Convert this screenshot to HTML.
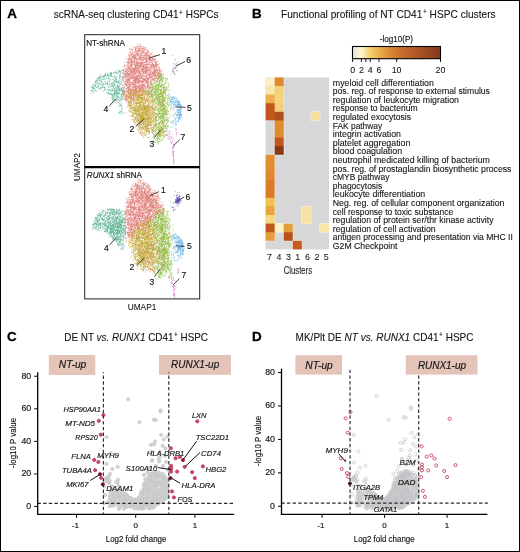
<!DOCTYPE html>
<html><head><meta charset="utf-8"><style>
html,body{margin:0;padding:0;background:#fff;}
svg{display:block;font-family:"Liberation Sans", sans-serif;will-change:transform;}
</style></head><body>
<svg width="520" height="552" viewBox="0 0 520 552" fill="#141414">
<rect x="0" y="0" width="520" height="552" fill="#fff"/>
<text x="7.3" y="17.7" font-size="13.4" stroke="#000" stroke-width="0.3" font-weight="bold" fill="#000" >A</text>
<text x="252.0" y="17.6" font-size="13.4" stroke="#000" stroke-width="0.3" font-weight="bold" fill="#000" >B</text>
<text x="7.0" y="340.6" font-size="13.4" stroke="#000" stroke-width="0.3" font-weight="bold" fill="#000" >C</text>
<text x="252.0" y="340.8" font-size="13.4" stroke="#000" stroke-width="0.3" font-weight="bold" fill="#000" >D</text>
<text x="53.8" y="17.8" font-size="10.1" stroke="#1a1a1a" stroke-width="0.1" textLength="164.7" lengthAdjust="spacingAndGlyphs" >scRNA-seq clustering CD41<tspan font-size="6.6" dx="0.5" dy="-3.1">+</tspan><tspan dy="3.1"> </tspan>HSPCs</text>
<text x="281" y="17.5" font-size="10.1" stroke="#1a1a1a" stroke-width="0.1" textLength="214.6" lengthAdjust="spacingAndGlyphs" >Functional profiling of NT CD41<tspan font-size="6.6" dx="0.5" dy="-3.1">+</tspan><tspan dy="3.1"> </tspan>HSPC clusters</text>
<text x="64.3" y="340.5" font-size="10.1" stroke="#1a1a1a" stroke-width="0.1" textLength="143.7" lengthAdjust="spacingAndGlyphs" >DE NT <tspan font-style="italic">vs.</tspan> <tspan font-style="italic">RUNX1</tspan> CD41<tspan font-size="6.6" dx="0.5" dy="-3.1">+</tspan><tspan dy="3.1"> </tspan>HSPC</text>
<text x="295.6" y="340.5" font-size="10.1" stroke="#1a1a1a" stroke-width="0.1" textLength="177.9" lengthAdjust="spacingAndGlyphs" >MK/Plt DE <tspan font-style="italic">NT vs.</tspan> <tspan font-style="italic">RUNX1</tspan> CD41<tspan font-size="6.6" dx="0.5" dy="-3.1">+</tspan><tspan dy="3.1"> </tspan>HSPC</text>
<rect x="84.7" y="34.7" width="115" height="264.2" fill="none" stroke="#222" stroke-width="1.0"/>
<line x1="84.7" y1="167.2" x2="199.7" y2="167.2" stroke="#000" stroke-width="2.2"/>
<text x="86.2" y="46" font-size="8.9" stroke="#1a1a1a" stroke-width="0.16" textLength="38.8" lengthAdjust="spacingAndGlyphs" >NT-shRNA</text>
<text x="86.8" y="177.5" font-size="8.9" stroke="#1a1a1a" stroke-width="0.16" textLength="55.2" lengthAdjust="spacingAndGlyphs" ><tspan font-style="italic">RUNX1</tspan> shRNA</text>
<text x="0" y="0" font-size="9.2" stroke="#1a1a1a" stroke-width="0.08" text-anchor="middle" textLength="28" lengthAdjust="spacingAndGlyphs" transform="translate(79.8 167) rotate(-90)">UMAP2</text>
<text x="127.7" y="310.3" font-size="8.9" stroke="#1a1a1a" stroke-width="0.08" textLength="28.6" lengthAdjust="spacingAndGlyphs" >UMAP1</text>
<g>
<path transform="scale(.1)" d="M1408 449h0m-1 10h0m-29 13h0m26-1h0m13-5h0m15-1h0m-101 13h0m36 5h0m16 0h0m28 0h0m27-4h0m1 0h0m17 0h0m6-1h0m-164 14h0m13 1h0m47-7h0m39 1h0m1-1h0m73 8h0m-152 1h0m37 0h0m27 5h0m13 4h0m2-4h0m25-1h0m18 0h0m-94 9h0m8 3h0m13-2h0m29 2h0m44-3h0m35 5h0m1-2h0m-152 6h0m12 4h0m11-1h0m30-1h0m16 2h0m0-4h0m38 3h0m39 4h0m50 0h0m-210 10h0m67-3h0m4 4h0m16-1h0m33-1h0m14-6h0m6 3h0m16 1h0m-181 10h0m32 0h0m11-2h0m16 1h0m13 2h0m9-1h0m5-3h0m7 5h0m5-1h0m31-2h0m44 1h0m8 4h0m29-8h0m13 3h0m-203 12h0m3 2h0m16-5h0m4-3h0m18 5h0m9-1h0m7 1h0m21-1h0m26 3h0m6-2h0m57-3h0m29 4h0m-190 7h0m33 5h0m0 1h0m11-10h0m5 7h0m0 0h0m46-3h0m7-4h0m18 4h0m1-4h0m9 2h0m4-1h0m6 0h0m0 6h0m1-4h0m14 1h0m2-3h0m20 7h0m10-1h0m33-6h0m18 0h0m-260 16h0m4-1h0m27 0h0m2-5h0m5 9h0m13-8h0m7 7h0m40-4h0m19-2h0m13 4h0m51 1h0m1-1h0m25-5h0m4 0h0m-201 12h0m14-2h0m7 3h0m6-5h0m19 4h0m35 0h0m22 5h0m1-8h0m8 8h0m48-9h0m20 6h0m6-2h0m7-2h0m1 7h0m12 1h0m14-3h0m-266 11h0m23 1h0m5-8h0m11 7h0m22-4h0m52-4h0m6 0h0m15 2h0m10 5h0m7 2h0m4-3h0m36-3h0m6 5h0m4-5h0m8-3h0m7 8h0m13-4h0m9 0h0m31 1h0m-179 15h0m39-10h0m24 4h0m24 5h0m30-4h0m9-4h0m10 1h0m15 0h0m1 4h0m3 1h0m44-7h0m15 3h0m-239 9h0m39 1h0m128 2h0m28 4h0m26-3h0m16 3h0m-280 8h0m17-1h0m9 0h0m2 4h0m9-5h0m6 1h0m30-4h0m18 3h0m15-2h0m0 3h0m76 3h0m1-2h0m13-1h0m57-5h0m37 2h0m7 0h0m-291 10h0m2 0h0m6 5h0m3-1h0m30-6h0m25 3h0m10-3h0m19 7h0m19-5h0m2 4h0m2 0h0m30 0h0m11-6h0m62 1h0m17 1h0m30-2h0m5 3h0m36 4h0m-269 10h0m16-2h0m55-3h0m6 5h0m18 1h0m14 1h0m30-1h0m30-3h0m3-1h0m1 4h0m1-1h0m12 0h0m10-1h0m22 1h0m13 0h0m31-1h0m-312 7h0m9 5h0m31-1h0m6-6h0m95 4h0m27 2h0m12-6h0m9 0h0m18 4h0m34-3h0m9 5h0m6-6h0m6 2h0m5-1h0m20-1h0m4 3h0m9-5h0m-326 12h0m13 0h0m14 8h0m29-5h0m2-2h0m7 3h0m1-3h0m52-1h0m17 7h0m14-5h0m1 2h0m6-1h0m10-3h0m10 7h0m3-4h0m12 1h0m79 3h0m35-7h0m8 1h0m5-2h0m15 3h0m-347 8h0m47 0h0m4 3h0m27 4h0m34-2h0m3-1h0m21 1h0m11-3h0m31-2h0m24 3h0m17-2h0m4 2h0m4-1h0m2 1h0m7-2h0m6 3h0m32-6h0m16 4h0m6 5h0m5-2h0m4-6h0m43 1h0m174 5h0m-464 9h0m8-4h0m2 7h0m33 0h0m0 0h0m10-5h0m29-1h0m15 4h0m1-2h0m2 1h0m30-3h0m5 5h0m32 2h0m10-10h0m29 1h0m9-1h0m8 6h0m58 1h0m24-1h0m-346 8h0m4 5h0m58-7h0m15 3h0m5 5h0m10-5h0m1 4h0m6 0h0m1 0h0m8-7h0m8 7h0m15-2h0m37-1h0m14 3h0m7-5h0m1 0h0m10-1h0m49 1h0m47 5h0m21-5h0m161 1h0m-497 13h0m11-4h0m20-2h0m6 2h0m19-2h0m6 3h0m14 3h0m11 0h0m28 1h0m16-4h0m2 4h0m52-9h0m0 7h0m8-6h0m7 6h0m64-1h0m1 1h0m1-7h0m38 6h0m32 0h0m7 2h0m18 0h0m5-4h0m1 0h0m-347 10h0m19 3h0m14 3h0m7-6h0m5 3h0m11-6h0m11 9h0m16-2h0m4 2h0m5 0h0m26-7h0m9-3h0m34 8h0m0-2h0m21 2h0m14 0h0m11-1h0m3 0h0m42-1h0m5 2h0m5-2h0m21-4h0m19 0h0m1 7h0m9-7h0m3 5h0m4-6h0m-360 14h0m47-2h0m31-2h0m20 2h0m5-2h0m24 6h0m9-3h0m2-3h0m6 6h0m36-6h0m36 3h0m11-2h0m6 7h0m23-7h0m0 0h0m16 3h0m38-2h0m30 0h0m1 5h0m53-7h0m2 5h0m-347 5h0m12 7h0m7-2h0m6 3h0m5 0h0m13-5h0m20-3h0m10 2h0m35 4h0m5-4h0m13 3h0m2-1h0m1 3h0m7-3h0m0-2h0m2 2h0m33-3h0m26 5h0m0-2h0m9-1h0m7-4h0m35 4h0m2 0h0m11-2h0m5 1h0m0-1h0m12 2h0m26-1h0m28 1h0m-310 12h0m2-4h0m10 5h0m3 3h0m54-1h0m6-6h0m32 4h0m21 3h0m2-1h0m3-7h0m18 1h0m5 5h0m23-7h0m12 4h0m20 4h0m5 0h0m8-5h0m31 5h0m4-1h0m17-2h0m34-4h0m11 7h0m1 1h0m5-8h0m-350 17h0m2-2h0m23-1h0m4 3h0m3-8h0m0 0h0m10 3h0m0 4h0m22 0h0m22-5h0m38 5h0m21-4h0m5 1h0m11-4h0m4 6h0m62-5h0m9 1h0m19-2h0m38 8h0m29-6h0m4-2h0m27 7h0m-355 4h0m6-2h0m4 0h0m4 10h0m0-2h0m4-4h0m17-1h0m7 6h0m8-4h0m48 3h0m10-7h0m3 7h0m29-3h0m1 2h0m16-6h0m22-1h0m20 9h0m59-4h0m32 0h0m13 2h0m6 0h0m8-1h0m11 1h0m9-6h0m11 6h0m8-3h0m-385 7h0m6 3h0m7-3h0m2 5h0m11 4h0m0-6h0m1 5h0m1 1h0m7-5h0m9 3h0m68-3h0m17-2h0m3 5h0m14-3h0m43-3h0m49 3h0m37 1h0m7 0h0m0 3h0m24-5h0m6 5h0m14-7h0m10 4h0m38-1h0m19-2h0m-387 8h0m67 4h0m3 2h0m2-6h0m9 6h0m8-4h0m3 4h0m3 1h0m3-2h0m11-2h0m21 3h0m14 2h0m10 0h0m23 0h0m8-2h0m32 1h0m41-1h0m8 1h0m9 0h0m8-6h0m8 0h0m16 8h0m23 0h0m5-5h0m-331 12h0m51-4h0m0-1h0m1 1h0m9 6h0m51-4h0m3 5h0m9-10h0m35 3h0m7-2h0m22 3h0m6 5h0m2 0h0m20-2h0m12-3h0m13-1h0m6 7h0m2-7h0m27 4h0m10 2h0m8-2h0m3 3h0m8-2h0m18-8h0m-298 12h0m0 6h0m5 0h0m2-6h0m26 7h0m1-3h0m48 3h0m7 0h0m8-5h0m1 6h0m26-1h0m49-8h0m14 4h0m4 1h0m6 0h0m70-1h0m13 3h0m5 0h0m26-2h0m-308 11h0m8-3h0m12 3h0m6 0h0m4-6h0m30 7h0m47-4h0m1-3h0m29 3h0m18-1h0m15 6h0m25-6h0m7 0h0m93 7h0m-319 1h0m12 2h0m12 1h0m6 4h0m0-5h0m1 5h0m55-6h0m30 4h0m10-2h0m1 1h0m7-2h0m3 2h0m6 5h0m5-2h0m26 1h0m15-4h0m7 1h0m3 1h0m13 1h0m5-3h0m37 2h0m20 0h0m-228 6h0m11 5h0m26 0h0m6-2h0m5-5h0m53 8h0m92-2h0m0 3h0m1-4h0m27 2h0m40-4h0m8 3h0m-305 4h0m11 8h0m8 0h0m16-7h0m8 8h0m10-5h0m15-2h0m10 7h0m10-8h0m17 8h0m2-3h0m5-3h0m65-2h0m19 6h0m4-7h0m15 4h0m58 3h0m-239 10h0m10-5h0m52-1h0m9 1h0m41-1h0m12 1h0m7 4h0m9-2h0m9 1h0m4-5h0m42 7h0m26 1h0m5 1h0m-212 9h0m7-1h0m53-1h0m10-6h0m17 5h0m6-2h0m15-3h0m14 4h0m19-2h0m37 0h0m2 3h0m12-5h0m7 6h0m-255 10h0m45-4h0m23-2h0m3 7h0m17-2h0m6-1h0m6-4h0m2 4h0m25-1h0m7 2h0m90 3h0m22-5h0m5-3h0m-226 17h0m13-8h0m8 5h0m8-3h0m27 6h0m32-7h0m36 1h0m6 0h0m7 2h0m33 2h0m11-3h0m4 4h0m22-6h0m19 3h0m-254 7h0m20 1h0m6 0h0m18 4h0m0-3h0m5 5h0m10-4h0m4 6h0m7-7h0m12 5h0m34-2h0m6 1h0m4-4h0m19-1h0m13 3h0m1 4h0m1-8h0m57 2h0m6 1h0m9 2h0m-204 12h0m2-2h0m20-4h0m27 3h0m8-4h0m14 7h0m1-2h0m4-1h0m19 0h0m6 2h0m25-2h0m17 4h0m9 1h0m14-1h0m226-6h0m-437 9h0m56 5h0m10-2h0m25 3h0m22-3h0m20-1h0m39 1h0m33 4h0m12-7h0m0 4h0m10-3h0m13 1h0m64 3h0m-243 6h0m8 0h0m2 4h0m4 0h0m2 2h0m37-4h0m11 2h0m10-3h0m1-4h0m2 8h0m2-7h0m15 6h0m7 1h0m1-7h0m44 4h0m27-2h0m-198 9h0m21 1h0m22 1h0m15 5h0m15 1h0m20-8h0m16 5h0m2-3h0m32 2h0m88 2h0m-252 2h0m52 7h0m16 0h0m2 3h0m24-6h0m11 5h0m6-5h0m8 5h0m33-2h0m12-3h0m18-3h0m-196 12h0m17 5h0m26 0h0m61-4h0m34 2h0m5 1h0m119-3h0m33 3h0m-281 4h0m35 7h0m7 1h0m23-2h0m1-5h0m70 5h0m23 1h0m-136 9h0m7-7h0m21 1h0m10 3h0m13 0h0m23 0h0m146-3h0m-230 9h0m12 5h0m19-3h0m1-1h0m6 4h0m6 1h0m10-1h0m9 0h0m21-1h0m9-1h0m21-1h0m77-2h0m128 7h0m-310 10h0m18 1h0m228 7h0m37 4h0m-260 10h0m185-6h0m80 1h0m4-2h0m23 2h0m-283 8h0m13 3h0m136-4h0m162 4h0m32-2h0m3 5h0m-379 8h0m58-2h0m238 1h0m82 0h0m-344 7h0m105 5h0m205-2h0m-312 16h0m75-1h0m265 4h0m-282 12h0m221-1h0m40 1h0m-237 14h0m129 0h0m-181 4h0m29-1h0m59 3h0m48-5h0m-119 14h0m68-4h0m64 3h0m134 5h0m-144 7h0m23 0h0m184-3h0m-12 10h0m-178 13h0m71-2h0m106 1h0m-316 6h0m144 3h0m51 0h0m107-3h0m-185 10h0m114 23h0m16-3h0m85 2h0m-272 17h0m136-9h0m-176 13h0m58 3h0m47 2h0m-47 9h0m41-5h0m-74 23h0m132-5h0m88 4h0m-153 13h0m214 1h0m-284 7h0m121 9h0m-109 5h0m57 9h0m206-3h0m27-2h0m-267 18h0m41 3h0m131 3h0m30-4h0m-218 7h0m189 11h0m76-1h0m-136 12h0m132 0h0m-231 15h0m165-1h0m45 5h0m-232 9h0m175 16h0m14 0h0m-48 5h0m40 26h0" stroke="#e07a74" stroke-width="7.0" stroke-linecap="round" fill="none"/>
<path transform="scale(.1)" d="M1582 855h0m26 8h0m-259 10h0m59 9h0m6-4h0m79 3h0m141 4h0m-269 3h0m55 0h0m75 6h0m-185 8h0m52 2h0m40-2h0m5 2h0m19-1h0m49 2h0m11-5h0m24 4h0m-204 6h0m12 3h0m16-6h0m63 1h0m14 1h0m5-4h0m32 3h0m24-2h0m0 4h0m21 1h0m-193 14h0m58-5h0m1 2h0m8-4h0m37 4h0m49-1h0m21-4h0m44-1h0m-184 17h0m73-8h0m9 10h0m11-3h0m1-1h0m3-1h0m49 1h0m39 2h0m-215 2h0m39 4h0m13 0h0m4 3h0m5-1h0m18 3h0m50-1h0m5-3h0m21-2h0m6-1h0m30 7h0m124-3h0m-332 13h0m51 0h0m20-2h0m53-4h0m0 6h0m0-5h0m2-1h0m4 6h0m10-3h0m0 3h0m64-9h0m-158 14h0m30 1h0m37 3h0m4 2h0m48-2h0m62 0h0m55-6h0m46 2h0m17 1h0m-346 5h0m8 7h0m17-1h0m31-2h0m41 1h0m7 5h0m17-4h0m5-4h0m32 0h0m27 8h0m7-4h0m33-3h0m-215 16h0m15-3h0m25-3h0m4 5h0m5-8h0m48 6h0m21-1h0m5-1h0m6-3h0m1 2h0m1 1h0m2 2h0m53 2h0m-226 11h0m82-3h0m40 2h0m15 0h0m16-6h0m38 4h0m17 2h0m2-1h0m-205 13h0m62-3h0m9-1h0m5 1h0m18-5h0m16 5h0m5-5h0m1 4h0m1-5h0m14 3h0m16 2h0m57 4h0m6-2h0m61-1h0m-227 9h0m10-3h0m20-2h0m6 1h0m60 7h0m2-5h0m49 0h0m22 1h0m13 4h0m32-6h0m120-2h0m-362 16h0m7-7h0m15 9h0m34-1h0m1-6h0m17 0h0m49 0h0m21-1h0m39 2h0m45 6h0m10-5h0m4 0h0m4 1h0m10-2h0m-200 12h0m22-4h0m0 0h0m2 6h0m54-4h0m4-2h0m35 4h0m4 5h0m5-4h0m46 2h0m4-2h0m38-4h0m56 3h0m-316 9h0m92-2h0m34 3h0m19-4h0m11 0h0m45 8h0m75-1h0m-260 2h0m12 7h0m33-6h0m11 5h0m6-2h0m26 0h0m34 4h0m15-3h0m32 1h0m2 1h0m2-2h0m19 1h0m20-1h0m82-2h0m-299 10h0m3 5h0m0-1h0m50-6h0m14 5h0m14 1h0m0-2h0m17 1h0m5 3h0m15-6h0m11 0h0m4-3h0m1 1h0m16-1h0m0 2h0m4 4h0m12 4h0m5 0h0m6 0h0m79-4h0m6 4h0m37-5h0m-290 6h0m23 4h0m55-3h0m2 8h0m22-1h0m30-3h0m8 3h0m2-4h0m1 4h0m33-8h0m1 9h0m3-10h0m34 8h0m103-6h0m-269 14h0m4 1h0m6 0h0m22-1h0m36-5h0m22-1h0m6 7h0m1 0h0m1 2h0m3-6h0m1 4h0m3-4h0m1 3h0m6-1h0m11-1h0m10-1h0m3 1h0m38 2h0m9 3h0m88-4h0m-335 11h0m28-4h0m4 4h0m18-5h0m8 3h0m33 4h0m29-4h0m1-3h0m10 8h0m3-9h0m3 9h0m12-7h0m5 2h0m23 4h0m8-1h0m18-4h0m24-2h0m9 6h0m21 2h0m-213 6h0m1-4h0m2 2h0m19 1h0m20 5h0m14 1h0m10-7h0m14 2h0m8 1h0m12-2h0m30 2h0m7 1h0m1-5h0m0 1h0m26-2h0m39-1h0m-239 17h0m1-1h0m1-2h0m57-3h0m14 5h0m2-1h0m5-4h0m3 6h0m20-4h0m3 4h0m17-5h0m3 0h0m39 6h0m1 1h0m36-5h0m-150 7h0m2 1h0m5 6h0m22-2h0m45-3h0m11 7h0m61 0h0m16-9h0m14 0h0m11 6h0m-219 5h0m39 3h0m32-2h0m19-1h0m12 6h0m4-1h0m4-1h0m28 0h0m28-2h0m22 5h0m3-3h0m14 0h0m13 3h0m43 1h0m-247 5h0m34 3h0m14-2h0m14-4h0m3 4h0m8-1h0m55-5h0m3 7h0m1-1h0m8-2h0m31-3h0m42 9h0m8-1h0m10-6h0m34 1h0m31 1h0m-311 14h0m7-3h0m53-6h0m2 8h0m14 2h0m4-3h0m31-4h0m33-2h0m18 2h0m0 1h0m7-3h0m1 0h0m3 8h0m10 1h0m12-1h0m-220 2h0m32 1h0m9 2h0m27 5h0m56-7h0m1 0h0m13 1h0m5 4h0m52-7h0m-156 11h0m3 5h0m36-5h0m15 3h0m15 0h0m2 2h0m8-6h0m2 6h0m17-4h0m4 8h0m13-2h0m6-1h0m5-2h0m13 3h0m33-6h0m15 4h0m2 2h0m12 2h0m46-5h0m29-2h0m-264 11h0m2-1h0m15-2h0m4 8h0m12-6h0m16 4h0m9-1h0m10-3h0m2 3h0m7-4h0m19 1h0m47 6h0m8-3h0m2-1h0m1-1h0m23 6h0m26-9h0m-211 18h0m14-2h0m8 2h0m27 1h0m24-3h0m16 2h0m1-7h0m30 3h0m22-4h0m4 7h0m21-3h0m35 3h0m1-5h0m47 4h0m-253 4h0m4 8h0m24-1h0m4-5h0m14 5h0m1-2h0m5-1h0m53-1h0m4-2h0m5 2h0m23-1h0m29 0h0m7 5h0m7-8h0m33 9h0m30-1h0m69-6h0m4 0h0m-299 15h0m32-4h0m38 7h0m33-7h0m17 4h0m5 0h0m9-2h0m2 4h0m32-8h0m36-1h0m-157 15h0m8 3h0m31-2h0m14-6h0m11 1h0m9 0h0m14 5h0m22 0h0m16-6h0m14 3h0m25 2h0m-183 12h0m19-4h0m77-3h0m4 4h0m24 2h0m10-6h0m24 4h0m57 4h0m43-1h0m40-6h0m-320 18h0m40-4h0m16 4h0m56-5h0m25-2h0m2 3h0m3 4h0m34 0h0m100-3h0m-262 7h0m26-3h0m2 7h0m14-1h0m2-2h0m42 4h0m24-5h0m12 4h0m98-4h0m12 4h0m35 2h0m-260 1h0m9 5h0m30-3h0m38 5h0m1-4h0m14 3h0m4 1h0m3-3h0m4-1h0m3-3h0m2 6h0m46 3h0m19-4h0m4 3h0m70 2h0m-226 0h0m76 4h0m-103 9h0m25 1h0m45 0h0m27 2h0m7-4h0m20 6h0m40-8h0m-164 16h0m27 0h0m30-1h0m8-2h0m10 3h0m43 4h0m64-3h0m-170 11h0m27-1h0m45-5h0m2 5h0m16-2h0m10-2h0m116 3h0m-137 12h0m5-6h0m-49 18h0m34-2h0m21-7h0m9 2h0m11-1h0m6 8h0m70 2h0m60 7h0m-220 7h0m83-2h0m-77 14h0m37-1h0m169 11h0m-46 8h0m-96 5h0m5 2h0" stroke="#c8a634" stroke-width="7.0" stroke-linecap="round" fill="none"/>
<path transform="scale(.1)" d="M1586 730h0m12 27h0m3 2h0m13-2h0m-29 16h0m8-7h0m18 0h0m-11 16h0m17-3h0m39 3h0m-94 3h0m47 8h0m4-7h0m2 9h0m2 5h0m60 0h0m-101 12h0m3-7h0m29 4h0m17 6h0m31-5h0m6 4h0m-93 7h0m-62 5h0m107 12h0m2 6h0m27-4h0m13-5h0m26 7h0m-168 8h0m53 4h0m3-1h0m3-6h0m59-2h0m8 2h0m-110 10h0m10 8h0m2-9h0m11 8h0m13-2h0m1-1h0m30 2h0m1-4h0m8-2h0m31-1h0m-84 17h0m24-4h0m30 3h0m20-1h0m54-1h0m-161 5h0m0 6h0m8 4h0m23-6h0m27 5h0m38-5h0m30 0h0m7 4h0m-111 10h0m15-3h0m-43 14h0m33-7h0m11 6h0m35-3h0m15-3h0m49 6h0m2-5h0m-95 11h0m39 3h0m28-4h0m10 4h0m-207 3h0m50 3h0m26 4h0m36-7h0m2 9h0m7 0h0m14-2h0m48 3h0m9-10h0m16 1h0m11 6h0m-260 6h0m104 1h0m54 0h0m50 4h0m22 2h0m13-10h0m-119 17h0m2-1h0m14 1h0m15-7h0m6 6h0m2-3h0m33 3h0m8 0h0m8-4h0m16 5h0m9-6h0m-106 10h0m47 3h0m14 6h0m5-6h0m29-1h0m7 7h0m5-1h0m28-4h0m-273 14h0m174-3h0m21-2h0m14 5h0m29 1h0m-100 2h0m75-1h0m4 3h0m2 3h0m-230 8h0m180 3h0m9-2h0m7 1h0m3-5h0m10-1h0m0 9h0m41-7h0m21 7h0m-293 10h0m76-7h0m123 6h0m15-3h0m25-5h0m25 9h0m21-4h0m58-5h0m-382 11h0m28 5h0m45-4h0m188-1h0m3 1h0m12 6h0m1-1h0m-62 3h0m40 7h0m55-1h0m20-5h0m12 4h0m46-6h0m-392 18h0m213-3h0m52-5h0m24 3h0m14 6h0m-47 6h0m0-4h0m23 8h0m3-1h0m9 0h0m11-6h0m19 3h0m35 4h0m14-7h0m-129 18h0m30-2h0m1-2h0m48 6h0m5 0h0m14 0h0m21 7h0m18-7h0m-325 10h0m219 7h0m38-3h0m18-3h0m4 1h0m-211 9h0m100 2h0m104 4h0m10-5h0m19-1h0m-315 8h0m195 2h0m53 0h0m31-2h0m9 7h0m-190 12h0m105-6h0m27 1h0m27 5h0m1-2h0m37-6h0m2 5h0m-145 10h0m55-2h0m22 0h0m52 4h0m44-8h0m-200 16h0m73-6h0m37 1h0m40 1h0m23 5h0m14-4h0m4 3h0m-71 4h0m25 0h0m31 2h0m6 2h0m5 4h0m23-8h0m-126 13h0m23 0h0m46-3h0m0 1h0m19 5h0m-92 4h0m7 0h0m46 1h0m13 5h0m22-6h0m-225 17h0m22-4h0m24 0h0m51 3h0m68-3h0m52 3h0m9 1h0m0-3h0m27-3h0m-299 12h0m200 1h0m56 5h0m5-5h0m10 1h0m-250 7h0m132-3h0m30 2h0m46 1h0m17 6h0m20-5h0m59 5h0m-130 2h0m46 4h0m19 1h0m27-5h0m9 4h0m-111 12h0m69-5h0m12 2h0m4 0h0m40-2h0m-125 12h0m7 2h0m60 4h0m21-5h0m14 0h0m19-4h0m-311 13h0m31 5h0m142-1h0m25-8h0m7 4h0m10-2h0m35 4h0m29-5h0m4 3h0m39-2h0m-84 16h0m38-7h0m40 5h0m-225 13h0m23-5h0m8 4h0m0-2h0m77-2h0m50 0h0m2 0h0m1 0h0m6 1h0m34-3h0m-100 10h0m26 1h0m41 1h0m45 0h0m-184 6h0m81 7h0m49-2h0m13 4h0m-170 5h0m96 1h0m91 5h0m-241 7h0m240-6h0m9 0h0m26-1h0m9 7h0m-252 13h0m58-2h0m30-7h0m55 2h0m2 2h0m74 4h0m10 0h0m-90 10h0m14-4h0m2 5h0m18-6h0m7 4h0m28-7h0m-195 15h0m2-2h0m11 0h0m101 0h0m30 2h0m8 4h0m11 0h0m15 0h0m-71 6h0m6-4h0m19-1h0m12-1h0m4 9h0m25-7h0m6 0h0m-157 12h0m88-1h0m42 0h0m2 2h0m8-4h0m22 0h0m-110 14h0m1-4h0m35 0h0m13 7h0m77-7h0m-61 10h0m0 4h0m5-1h0m1 5h0m9-1h0m58-3h0m-123 9h0m49-1h0m1 0h0m9 0h0m5-1h0m5 7h0m2-8h0m60 6h0m-116 7h0m38 2h0m10 0h0m-7 5h0m48 2h0m-103 11h0m34 12h0m20-3h0m-57 17h0m2 8h0m18 13h0m25 14h0" stroke="#82bd38" stroke-width="7.0" stroke-linecap="round" fill="none"/>
<path transform="scale(.1)" d="M1172 700h0m16 5h0m7 2h0m-36 15h0m-105 10h0m40 0h0m13 2h0m1-7h0m28 5h0m3-3h0m38-2h0m-169 15h0m51-2h0m30-1h0m24-1h0m72 5h0m-142 11h0m32 0h0m8 1h0m32-7h0m0-1h0m80 5h0m-163 6h0m5 6h0m48-4h0m14-2h0m65 7h0m-192 10h0m27-1h0m2-2h0m1 0h0m19 1h0m63-1h0m17-7h0m20 5h0m37 1h0m-177 11h0m46 2h0m61-3h0m-100 6h0m6 4h0m26 0h0m29 2h0m18-6h0m18-1h0m54 4h0m28 1h0m52-2h0m-130 11h0m13 0h0m53 1h0m70 1h0m-263 8h0m16-4h0m38 3h0m132 3h0m38 2h0m22 0h0m-258 5h0m29-1h0m26 4h0m72-5h0m16-1h0m54 6h0m24 0h0m7-2h0m-220 9h0m13 3h0m8 2h0m77-2h0m8 2h0m58-2h0m10-3h0m4 0h0m80-2h0m-281 17h0m32-7h0m67 5h0m1-5h0m31 4h0m26-4h0m48 5h0m-152 7h0m12-4h0m119 5h0m25-2h0m6 3h0m25-4h0m26 1h0m24 6h0m-97 4h0m35 4h0m-235 7h0m29-3h0m9 8h0m78-3h0m2 4h0m79-5h0m54 1h0m0-5h0m6 4h0m38 4h0m-294 6h0m1 5h0m9-6h0m10 1h0m47 4h0m16-5h0m16-3h0m134 1h0m0 7h0m27 0h0m32-3h0m-294 10h0m16-2h0m105 4h0m5-5h0m130 3h0m10 1h0m23 2h0m-302 8h0m31 2h0m15-7h0m83-2h0m29 1h0m47 3h0m10 1h0m9 2h0m61-6h0m1 6h0m13-3h0m0 5h0m11-1h0m-147 5h0m73 6h0m7-6h0m2 1h0m15-2h0m48 17h0m14-7h0m-149 16h0m2-1h0m25 3h0m51-6h0m7-2h0m52 7h0m-320 7h0m185 1h0m4 0h0m7-6h0m32 2h0m3 3h0m38-1h0m31 4h0m16 0h0m-106 3h0m9 5h0m1-4h0m13-2h0m8 5h0m22 2h0m20-6h0m27 8h0m-81 5h0m0 8h0m15-2h0m21 3h0m16 1h0m31 13h0m15-5h0m-98 14h0m10-5h0m72 0h0m-92 8h0m44 7h0m4-4h0m27 10h0m-72 15h0m66-8h0m4 16h0m14 5h0m7 17h0m-3 34h0m8 47h0" stroke="#52ae8c" stroke-width="7.0" stroke-linecap="round" fill="none"/>
<path transform="scale(.1)" d="M1691 959h0m26 9h0m9 19h0m19 14h0m-41 8h0m29 5h0m15-9h0m9 2h0m10 2h0m6 5h0m8-6h0m-76 8h0m11 1h0m0 6h0m0 0h0m38-3h0m30 3h0m13-4h0m-13 11h0m-56 6h0m30 1h0m19 2h0m14-4h0m4 3h0m-83 8h0m25 0h0m5 1h0m12 2h0m13 4h0m10-8h0m4 2h0m25 5h0m4 1h0m-12 5h0m15 1h0m-78 10h0m21 2h0m52 1h0m7-1h0m-2 4h0m-44 18h0m5 6h0m11 4h0m2-1h0m19-6h0m0 0h0m10 0h0m-52 15h0m34 2h0m-22 6h0m23 4h0m2-2h0m1-3h0m13 0h0m-624 11h0m562 1h0m52 3h0m-50 8h0m12 2h0m32-7h0m-591 11h0m569-1h0m10 0h0m5 8h0m8-7h0m3 3h0m10 4h0m-48 6h0m1 13h0m47 1h0m-65 10h0m48-8h0m3 8h0m12-8h0m-26 14h0m-54 19h0m49-1h0m-73 13h0m29-2h0m29-2h0m19 0h0m-24 39h0" stroke="#52ace4" stroke-width="7.0" stroke-linecap="round" fill="none"/>
<path transform="scale(.1)" d="M1750 591h0m21 28h0m-33 15h0m17 9h0m17-6h0m-24 44h0m20-4h0m-14 8h0m11 22h0" stroke="#7466c8" stroke-width="7.0" stroke-linecap="round" fill="none"/>
<path transform="scale(.1)" d="M1698 1319h0m-16 23h0m47 2h0m-31 13h0m12 12h0m-41 11h0m17 3h0m18 29h0m6 16h0m8 6h0m29-6h0m-11 18h0m-6 30h0m1 1h0m-6 42h0m10 16h0m-1 17h0m-1 18h0m9 37h0" stroke="#d266c6" stroke-width="7.0" stroke-linecap="round" fill="none"/>
<path transform="scale(.1)" d="M1393 448h0m4 13h0m5 11h0m-53 6h0m8-1h0m62 3h0m-119 8h0m22 5h0m63-2h0m29 0h0m14-6h0m5 2h0m16 8h0m-97 5h0m6 0h0m28-4h0m1 9h0m51-3h0m9 2h0m30-6h0m-165 11h0m56 3h0m10-6h0m7 4h0m14-3h0m8 4h0m5 3h0m10 1h0m2 0h0m34-8h0m-162 12h0m59 4h0m69-4h0m4 2h0m6 0h0m2 3h0m50-5h0m4 3h0m-186 7h0m1-2h0m0-1h0m46 2h0m24 0h0m40 3h0m36 1h0m-140 11h0m8-6h0m7-2h0m2 4h0m45-3h0m28 0h0m50 7h0m11-4h0m4 3h0m-170 4h0m8 8h0m31 1h0m2-2h0m35 2h0m6-4h0m43 3h0m28-6h0m21 7h0m15-5h0m-206 9h0m13-1h0m5 6h0m40-5h0m0 2h0m6-2h0m12-1h0m26 2h0m11 1h0m5-1h0m15-4h0m40 6h0m20-4h0m1 2h0m9 1h0m1 2h0m15-3h0m50-5h0m-217 19h0m1-5h0m19 4h0m51 1h0m1-1h0m5-1h0m43 3h0m52-5h0m10 2h0m26 0h0m-210 12h0m6 1h0m2 0h0m6-5h0m3 4h0m12 1h0m1-5h0m1 2h0m31-3h0m14-1h0m17 1h0m13-3h0m2 8h0m59-7h0m-204 15h0m11-4h0m1 0h0m9 5h0m40-7h0m11 2h0m4-1h0m3 6h0m1-7h0m55 8h0m1 0h0m10-2h0m11-6h0m37-1h0m22 10h0m2 0h0m16-5h0m1 3h0m8 0h0m4-4h0m1 1h0m11 1h0m-244 14h0m35-8h0m5 7h0m24-4h0m46 3h0m1-8h0m80 2h0m10 0h0m1 6h0m17-2h0m3 0h0m-220 6h0m26-2h0m80 4h0m7 4h0m12-2h0m25-3h0m5 0h0m98 3h0m-312 10h0m31-6h0m1 2h0m32 5h0m2-2h0m19-2h0m42 5h0m69-4h0m13 5h0m6-2h0m5-6h0m20 9h0m6-3h0m2 1h0m0-5h0m16 3h0m14-1h0m-252 5h0m39 7h0m16-5h0m11 2h0m19-1h0m6-3h0m21 2h0m4-1h0m19 9h0m0-7h0m7 4h0m0-7h0m4 7h0m45-4h0m52-1h0m45 7h0m-319 9h0m33-7h0m23 7h0m28 0h0m17-3h0m12-3h0m9-2h0m6 1h0m5 6h0m4-4h0m2-1h0m24 8h0m12-2h0m3-5h0m14 1h0m8 3h0m16 1h0m10-1h0m5 0h0m49-3h0m2 3h0m8 1h0m25-4h0m4-4h0m4 9h0m-298 8h0m33 0h0m13-2h0m25-4h0m3 8h0m7-4h0m7-1h0m19-3h0m1 0h0m58 8h0m14-9h0m7 7h0m1-3h0m29-4h0m0 1h0m12 1h0m32 7h0m1-1h0m30-3h0m25-5h0m-345 14h0m71-2h0m7 0h0m35 5h0m7-7h0m3 5h0m38-3h0m3 1h0m6 5h0m29-5h0m2 6h0m53-6h0m22-2h0m13 4h0m3 0h0m6-2h0m37-1h0m-293 16h0m5-3h0m3 1h0m28-5h0m1 2h0m3 1h0m30 0h0m2 3h0m2 0h0m32 1h0m2 2h0m68-6h0m4 1h0m23 2h0m27-4h0m26 0h0m9-2h0m16 0h0m-301 19h0m19-7h0m20 4h0m52-4h0m0 0h0m30 6h0m24-2h0m22-7h0m16 8h0m1-1h0m8-4h0m11 3h0m1 0h0m5-2h0m39 2h0m16 1h0m18-3h0m49-3h0m-316 13h0m16-1h0m2 2h0m0 5h0m5-6h0m7 0h0m7 5h0m1-1h0m31-1h0m2 3h0m27-6h0m8 4h0m28-4h0m21 1h0m16 3h0m26 2h0m2-3h0m8 2h0m26-1h0m32-3h0m32 3h0m10 0h0m-362 11h0m12 0h0m38-3h0m1 1h0m41 0h0m7 2h0m23 0h0m30-6h0m45 0h0m35 3h0m9-1h0m1 4h0m12-2h0m23 2h0m4-2h0m28-2h0m20-3h0m32 5h0m-334 9h0m51-1h0m11 0h0m10-1h0m18 4h0m7-1h0m20 2h0m10-5h0m8-1h0m3 3h0m5-2h0m2 4h0m56 2h0m3-4h0m2 0h0m8-5h0m1 4h0m5-4h0m16 5h0m16 1h0m49 1h0m20 1h0m3-6h0m-342 7h0m25 0h0m9 3h0m10 1h0m0 4h0m36-6h0m5 5h0m1-2h0m13-4h0m9 4h0m29-4h0m4 0h0m34 7h0m15-7h0m55 0h0m44 5h0m16 2h0m9-7h0m1 5h0m2-3h0m5 5h0m57-6h0m-338 18h0m31-6h0m2-1h0m6 0h0m25 3h0m1 2h0m9-7h0m5 7h0m11-1h0m26-6h0m6 6h0m33 3h0m3-4h0m10 3h0m8-5h0m11 3h0m46 1h0m19-6h0m16 7h0m1-7h0m13 1h0m29 2h0m10 0h0m2 1h0m-355 7h0m12 4h0m3-6h0m8 0h0m0 4h0m10-4h0m4 0h0m9 3h0m10-3h0m15 6h0m3 0h0m6-5h0m0 2h0m5 1h0m3 2h0m29-1h0m27-2h0m15-2h0m13 3h0m60 5h0m24-1h0m32-8h0m5 3h0m18-2h0m5 3h0m26 2h0m-340 13h0m11-9h0m19 1h0m7 7h0m3 0h0m38-2h0m4 3h0m17-8h0m63 5h0m57 1h0m30-1h0m10 0h0m32-5h0m16 1h0m5 2h0m17 1h0m-294 6h0m36 0h0m20 3h0m2 2h0m23-6h0m2 4h0m7-4h0m5 7h0m14 2h0m7-7h0m17 2h0m20 0h0m14-1h0m24 0h0m59-4h0m25 6h0m3-5h0m50 8h0m3 1h0m3 0h0m20-9h0m-377 17h0m83-3h0m3 3h0m5-3h0m31-5h0m41 6h0m1-4h0m7-1h0m4 0h0m27 7h0m6-3h0m2-5h0m13 2h0m16 5h0m6-2h0m9-3h0m1 7h0m0-8h0m56 9h0m35-8h0m13 8h0m-325 1h0m16 8h0m11-1h0m27 2h0m8-1h0m3-5h0m4 1h0m35-2h0m3-2h0m16 6h0m1-6h0m15 5h0m2-1h0m38-2h0m10 1h0m5 5h0m7-2h0m53-6h0m23 5h0m28-5h0m-324 11h0m2 2h0m26 0h0m31-1h0m13 1h0m11 0h0m4 3h0m4-6h0m8 7h0m3-5h0m2 1h0m40-4h0m20 5h0m10-3h0m3 7h0m9-2h0m18-4h0m5 0h0m64-1h0m32 1h0m13 5h0m-312 3h0m2 0h0m14 3h0m6 4h0m41-4h0m10-1h0m32 1h0m14 2h0m34-1h0m1 4h0m4-9h0m9 6h0m2-5h0m29 4h0m12 0h0m2-3h0m25 3h0m0 2h0m12-1h0m-270 12h0m19 0h0m2-2h0m14 0h0m53-2h0m5 6h0m2-4h0m1 3h0m33 0h0m8 1h0m23-3h0m8 1h0m6 1h0m6-5h0m0 5h0m9-7h0m4 2h0m9 2h0m9 2h0m4-2h0m32-4h0m1 5h0m87-4h0m-298 15h0m7-3h0m13 5h0m9-10h0m17 5h0m7 5h0m10-1h0m1-2h0m6-2h0m22 0h0m7-4h0m15 5h0m1-5h0m4 0h0m15 3h0m45-2h0m10 3h0m16-1h0m51-2h0m-310 10h0m19 2h0m42-1h0m24 4h0m12 2h0m18-7h0m4 7h0m27 0h0m3-7h0m32 2h0m50-4h0m-206 20h0m4-9h0m5 3h0m32-1h0m13 4h0m7 2h0m11-8h0m91 7h0m44-7h0m33 8h0m-238 4h0m4 7h0m13-6h0m25 2h0m92-4h0m11 8h0m27 0h0m13-2h0m24-7h0m-249 12h0m33-1h0m12 7h0m26-3h0m38 3h0m21-4h0m37-2h0m19 3h0m3-1h0m11-2h0m5-1h0m4 5h0m-208 13h0m12-2h0m7-2h0m31 1h0m60-2h0m16 3h0m0-5h0m5 1h0m5 1h0m11 0h0m9-1h0m23 1h0m19 2h0m1 3h0m2-7h0m21-2h0m8 2h0m52 5h0m9-5h0m-252 17h0m17-7h0m0-1h0m9 0h0m47 1h0m29 6h0m8-5h0m3-1h0m6 2h0m25 2h0m5 2h0m13-5h0m13 3h0m45-2h0m10 4h0m2-6h0m-267 11h0m49 1h0m56-2h0m6 0h0m36 7h0m25-9h0m197 8h0m-376 10h0m60-2h0m3-6h0m22 6h0m9-3h0m16-1h0m12-2h0m13 2h0m2 5h0m7-1h0m22 1h0m35-4h0m97-2h0m61 7h0m-351 4h0m8 2h0m43-1h0m3 0h0m8 1h0m25-3h0m6 2h0m19 3h0m16 0h0m14 2h0m11-8h0m15 1h0m12 1h0m103 4h0m-267 8h0m13-5h0m74 7h0m10 3h0m8-9h0m15 8h0m282-5h0m-407 10h0m14 4h0m30 0h0m0 0h0m8-7h0m12 4h0m33-4h0m4 5h0m27 2h0m56-5h0m3 5h0m27-4h0m6-1h0m16 1h0m-250 14h0m55-1h0m11-5h0m8 0h0m40 4h0m39 0h0m75-2h0m186-4h0m-388 19h0m8 0h0m42-2h0m13-3h0m40-2h0m28-1h0m31 4h0m2 2h0m8-1h0m50-4h0m12 3h0m55 2h0m-222 6h0m13-3h0m14 5h0m55-3h0m-119 17h0m24-1h0m16-8h0m65 5h0m122 0h0m-251 9h0m36 1h0m23 2h0m208-2h0m-274 10h0m2-2h0m67-1h0m92 5h0m41-1h0m184 2h0m-374 3h0m1 8h0m61-4h0m122 5h0m162-8h0m-359 11h0m152 14h0m9 1h0m-129 6h0m65 3h0m39 1h0m-22 2h0m119 1h0m103 6h0m60-5h0m-187 18h0m123-8h0m53 2h0m-345 11h0m147 1h0m-50 11h0m28-3h0m65 3h0m122 2h0m-126 10h0m45-9h0m-166 27h0m142-1h0m132 4h0m31 8h0m-171 11h0m46-3h0m-203 11h0m0-2h0m37 5h0m294-6h0m4 4h0m-8 13h0m-260 12h0m188 17h0m-240 5h0m-2 10h0m37 13h0m71-4h0m-38 15h0m10 8h0m214-2h0m-208 6h0m-39 17h0m32-6h0m10-2h0m68 8h0m124-4h0m-71 9h0m5 4h0m-74 7h0m57 14h0m-65 11h0m34-7h0m95 9h0m20 4h0m-103 8h0m-116 11h0m108-4h0m35 2h0m45 0h0m70 6h0m-268 9h0m92-3h0m-64 13h0m92-6h0m95 7h0m7-7h0m-85 20h0m-2 20h0" stroke="#e07a74" stroke-width="7.0" stroke-linecap="round" fill="none"/>
<path transform="scale(.1)" d="M1570 847h0m13 5h0m40-3h0m-183 10h0m17 5h0m129-8h0m37 14h0m-184 14h0m-79 11h0m62-1h0m8-6h0m3 3h0m157-1h0m-196 14h0m11-4h0m10 2h0m53-4h0m-142 15h0m16-4h0m6 4h0m11-3h0m11-2h0m12-1h0m5 4h0m32-2h0m153-1h0m31 2h0m30-3h0m-330 18h0m7-5h0m9 2h0m64-2h0m20 1h0m27-1h0m25 1h0m37 1h0m3-3h0m5-2h0m14 1h0m-183 16h0m7-4h0m114 0h0m1-3h0m96 5h0m32-6h0m-309 11h0m27 8h0m42-1h0m0-6h0m10 6h0m38-7h0m23 0h0m2 3h0m1 2h0m10-4h0m20 2h0m1 2h0m113 2h0m-299 1h0m50 3h0m4 6h0m7-6h0m7-3h0m17 2h0m20 5h0m18-2h0m9 1h0m5 1h0m9-5h0m3 6h0m18-1h0m44-1h0m1-1h0m42-4h0m29 9h0m55-7h0m-346 17h0m13-8h0m0 5h0m16-2h0m12-3h0m39-1h0m44-1h0m12 3h0m9-2h0m39 9h0m8-6h0m48 6h0m131-4h0m-387 6h0m26 0h0m54 0h0m50 8h0m7-7h0m2-1h0m0 8h0m28-3h0m2 0h0m23 1h0m44-7h0m24 3h0m-184 6h0m1 7h0m16 2h0m16-6h0m12 0h0m17-1h0m20 2h0m3-2h0m2 3h0m8 0h0m1 4h0m5-6h0m0 5h0m6-5h0m1 2h0m1 5h0m22 0h0m3-5h0m4 3h0m94-1h0m34-2h0m-306 7h0m38 2h0m21-2h0m2 6h0m0-1h0m26 0h0m8 3h0m9-7h0m138 2h0m26 3h0m-285 8h0m47-3h0m80 4h0m35-2h0m4-5h0m3 2h0m17-2h0m25 5h0m15 4h0m2 0h0m24-7h0m13 4h0m41-5h0m-256 11h0m57 7h0m27-5h0m38 5h0m7-7h0m18 6h0m7-5h0m3 5h0m12-3h0m49 0h0m127 0h0m-351 14h0m13 0h0m74-3h0m3-2h0m17 3h0m21-5h0m0 1h0m82 1h0m11 0h0m-234 8h0m8 2h0m68 4h0m15-6h0m8 7h0m4-5h0m9-4h0m3 6h0m34 3h0m6-2h0m45-4h0m44 1h0m-170 6h0m13 2h0m11-2h0m10 2h0m5 3h0m-81 13h0m1-6h0m5 6h0m14-8h0m67 8h0m0-4h0m24-2h0m0 2h0m6 4h0m13-2h0m6 1h0m29-2h0m15-4h0m71 9h0m-277 6h0m9-5h0m48 1h0m12 1h0m15-1h0m4 6h0m26-3h0m4 1h0m63 3h0m8-2h0m2 3h0m3-2h0m5-6h0m-146 15h0m1-3h0m14 2h0m35 1h0m12 0h0m8 3h0m9-9h0m14 7h0m6-8h0m11 6h0m4 1h0m8 1h0m6 0h0m6-3h0m23 4h0m1 1h0m3-6h0m2 6h0m13-10h0m43 6h0m-256 13h0m3 0h0m12-8h0m21 4h0m15 1h0m16-5h0m13 7h0m2-2h0m4-5h0m26 1h0m12 5h0m19-4h0m4 6h0m6 1h0m58-5h0m4 3h0m-167 9h0m0-3h0m13-1h0m6-1h0m1-2h0m3 10h0m5-6h0m50-2h0m8 0h0m7 7h0m7 0h0m4-1h0m22-6h0m2 1h0m20 5h0m3-4h0m17-2h0m108 2h0m-322 13h0m30 3h0m8-2h0m5-3h0m6-3h0m20 4h0m2 2h0m3 0h0m16 0h0m1-4h0m6 1h0m5-3h0m23 6h0m7-1h0m3-6h0m0 1h0m4 3h0m5-5h0m2 8h0m23-6h0m3 4h0m3 4h0m24-5h0m13-1h0m18-2h0m-253 9h0m34 8h0m15-5h0m23-2h0m3 6h0m27 1h0m44-9h0m21 7h0m13-2h0m10 2h0m6-4h0m0 2h0m64 1h0m-188 6h0m67 2h0m2 1h0m20-4h0m28-1h0m17 3h0m4-2h0m31 3h0m121-4h0m-301 19h0m22-3h0m18-1h0m16 5h0m16-8h0m5 7h0m1-3h0m9 0h0m11-3h0m7 2h0m5 2h0m5-4h0m42 2h0m12 0h0m4 4h0m19-9h0m43 7h0m-260 5h0m4 4h0m27-5h0m1 2h0m6-3h0m18 2h0m2-2h0m1 7h0m12 0h0m26-4h0m6-2h0m0 7h0m1-3h0m50 0h0m11 0h0m16 1h0m6 2h0m14-2h0m-188 9h0m52 2h0m8-2h0m13-4h0m7 1h0m3 4h0m30-5h0m12 3h0m13 3h0m51-1h0m7 3h0m25-5h0m3-3h0m-237 17h0m88-4h0m9-1h0m2 3h0m0-6h0m6 4h0m11 2h0m3 0h0m3-5h0m15 3h0m41 1h0m18 0h0m99 3h0m52 0h0m-310 6h0m32 0h0m9-4h0m19 6h0m9-4h0m8 2h0m14 2h0m28-5h0m2 7h0m22-2h0m6 4h0m26-6h0m31-2h0m-189 10h0m22 6h0m10 1h0m8-6h0m2-2h0m6 8h0m2 0h0m0-6h0m6 5h0m3 2h0m36-7h0m5 1h0m11-2h0m11 3h0m8-4h0m9 4h0m27 4h0m-171 1h0m5 6h0m39-3h0m5 1h0m1 0h0m1-1h0m1 2h0m9 0h0m12-2h0m1 3h0m11-1h0m10-3h0m9 4h0m0-6h0m6 6h0m8-3h0m10 6h0m16-3h0m2-3h0m2 4h0m-147 13h0m13-8h0m5-2h0m7 3h0m2 6h0m5-7h0m1 8h0m24-9h0m7-1h0m15 3h0m13 2h0m11 1h0m13-3h0m47 0h0m-144 11h0m7-1h0m3 1h0m7-3h0m18 9h0m16 0h0m10-10h0m27 5h0m27-4h0m19-1h0m36 3h0m89 5h0m-308 7h0m53 3h0m12-3h0m2 1h0m2 1h0m5 0h0m19-5h0m4 5h0m3-3h0m11-1h0m13-1h0m17 6h0m4-4h0m22 3h0m5-5h0m-185 11h0m21-3h0m44 3h0m7 5h0m6-2h0m31-1h0m5 4h0m11-2h0m2-1h0m27 0h0m46 3h0m-170 1h0m55 3h0m9-2h0m11 9h0m6-6h0m34-1h0m2 1h0m38 2h0m39 3h0m66-2h0m-185 6h0m1-3h0m3 9h0m18-9h0m15 3h0m31-2h0m4 5h0m37-6h0m11 4h0m4 5h0m-199 3h0m89 4h0m11-2h0m11-1h0m32-1h0m60 1h0m-125 14h0m20 0h0m6-5h0m7 7h0m1-8h0m33 5h0m9 3h0m-117 8h0m22-3h0m32 2h0m26 3h0m1 0h0m5 0h0m4 1h0m115-9h0m-205 9h0m20 2h0m37 2h0m16-1h0m45-2h0m42 6h0m9 1h0m-176 11h0m20 0h0m5-5h0m35 1h0m30 2h0m45 2h0m5-4h0m11 3h0m48-7h0m-199 11h0m80 3h0m1 2h0m16-7h0m50 9h0m-135 3h0m42 3h0m53 4h0m-98 7h0m13 6h0m69 3h0m80 3h0m60-4h0m-202 9h0m14 19h0m1 7h0" stroke="#c8a634" stroke-width="7.0" stroke-linecap="round" fill="none"/>
<path transform="scale(.1)" d="M1736 688h0m-153 40h0m130 4h0m33 2h0m-143 5h0m8 0h0m141 4h0m-155 7h0m11 0h0m7-4h0m2 2h0m-34 15h0m42 11h0m-35 3h0m3 0h0m40 4h0m38 2h0m2 2h0m-143 1h0m76-1h0m33 1h0m20 4h0m6 4h0m-67 11h0m25 0h0m-55 5h0m25-1h0m2 2h0m10-3h0m-75 16h0m21-6h0m23 3h0m8 3h0m42-8h0m-91 19h0m38-9h0m21 4h0m4-5h0m47 3h0m14 1h0m10-3h0m-155 15h0m47 1h0m31-1h0m2-4h0m-69 8h0m11 6h0m23-1h0m26 4h0m1-8h0m8 5h0m92 3h0m-191 8h0m33 0h0m10 1h0m9 1h0m60-5h0m6 0h0m6 3h0m3 1h0m68-4h0m-167 12h0m1-3h0m65 6h0m42-7h0m16 2h0m26 1h0m-197 8h0m43 3h0m3-5h0m16 1h0m32 3h0m15-2h0m0 5h0m2 0h0m5-6h0m43-1h0m1 7h0m5-6h0m14-1h0m10 0h0m-140 16h0m3 1h0m14-5h0m0 1h0m12 4h0m12-1h0m66 2h0m-114 8h0m17 2h0m36-1h0m4-3h0m5-3h0m12 2h0m15-3h0m4 2h0m8-1h0m19 3h0m12 5h0m15-7h0m-201 12h0m22 1h0m3-4h0m3 7h0m11-2h0m23 1h0m10-2h0m18 2h0m12-2h0m48-3h0m4 1h0m39 2h0m-162 6h0m63 6h0m4-6h0m20 7h0m3-1h0m3-5h0m17 0h0m27 0h0m22 6h0m-166 4h0m80 0h0m14-2h0m25 8h0m13-2h0m14 3h0m24-5h0m36 3h0m-173 7h0m13 2h0m29-5h0m6 6h0m6-1h0m33-3h0m13-4h0m7 1h0m16 8h0m-162 6h0m14-4h0m18 8h0m46-7h0m3 0h0m45 0h0m3-1h0m8 6h0m57 1h0m10-8h0m9 7h0m-302 9h0m140-2h0m31 4h0m5-2h0m11-2h0m13 4h0m-216 5h0m135 1h0m5 1h0m4-4h0m30 7h0m28-7h0m14 5h0m32 2h0m14-3h0m24 5h0m8-3h0m-353 10h0m89-1h0m85 3h0m35-4h0m36-1h0m25 5h0m2-7h0m35 3h0m0-4h0m13 9h0m27-6h0m20 5h0m0-4h0m-159 12h0m10-4h0m53 2h0m6-4h0m5 8h0m44-6h0m14 5h0m20-1h0m19-6h0m11 7h0m-273 4h0m110 7h0m70-4h0m8 2h0m8 3h0m12-9h0m9 6h0m-108 3h0m45 4h0m7 2h0m1-4h0m21 2h0m16 2h0m23-6h0m-123 17h0m4-5h0m16 1h0m29 2h0m3 2h0m19-3h0m10 2h0m14-4h0m-255 9h0m11 6h0m47-1h0m136-4h0m22-2h0m6 2h0m25 4h0m9 4h0m68-5h0m-158 10h0m35 1h0m27 3h0m7-1h0m23-1h0m62 1h0m-204 6h0m120-3h0m5 7h0m26-1h0m-243 11h0m84 1h0m11-5h0m39 1h0m53-3h0m28 7h0m30-2h0m16 2h0m33-9h0m15 4h0m-318 11h0m179 5h0m29-5h0m12-5h0m7 0h0m29 9h0m20 0h0m-217 11h0m112-5h0m9-2h0m33 5h0m25-4h0m50-3h0m-307 11h0m168-1h0m38 7h0m19-7h0m15 6h0m4-4h0m25-1h0m22 5h0m-100 6h0m30 2h0m25 4h0m9-4h0m0-2h0m12-1h0m11 4h0m10-4h0m2 1h0m-88 7h0m33 5h0m3-1h0m-202 15h0m183-6h0m29 5h0m12-2h0m10-4h0m1 3h0m45 2h0m-323 12h0m235 1h0m3-4h0m34 1h0m9 0h0m-24 5h0m5 1h0m13 1h0m21 2h0m1-3h0m46 4h0m-277 6h0m146-1h0m4 5h0m2-6h0m0 4h0m31 2h0m2 2h0m22-5h0m20-4h0m3 3h0m-277 11h0m154 0h0m97 2h0m6 4h0m-232 10h0m157-1h0m1-8h0m32 1h0m6 3h0m1 1h0m42-2h0m-229 7h0m68 0h0m75 2h0m8-2h0m19 1h0m12 3h0m24-3h0m74-2h0m-148 11h0m8 7h0m81-3h0m-19 12h0m51-7h0m10 3h0m-51 14h0m1-1h0m-294 8h0m277 0h0m26 6h0m-80 8h0m36-6h0m2 1h0m13-1h0m15 4h0m6-6h0m-208 10h0m166 6h0m6 1h0m3 2h0m-132 11h0m98-10h0m14 2h0m78 7h0m-226 3h0m120 6h0m21-8h0m106 3h0m-258 17h0m6-7h0m14-2h0m128 6h0m41-1h0m8 3h0m10-8h0m17 4h0m30-2h0m-115 10h0m12 1h0m53 5h0m0-7h0m54 6h0m-135 3h0m0 6h0m44-4h0m7 6h0m11-2h0m15-4h0m0 5h0m-89 3h0m12 8h0m67-1h0m10-1h0m5-5h0m14 1h0m-99 16h0m55-3h0m1 1h0m27 2h0m22 0h0m-143 6h0m36-1h0m67 1h0m2 5h0m8-4h0m23 3h0m-77 6h0m30 4h0m6-7h0m45 7h0m-103 4h0m14 6h0m31 0h0m13-7h0m2 7h0m4 0h0m-8 1h0m1 5h0m42 3h0m8-4h0m-68 12h0m20 0h0m27-6h0m15 1h0m18 1h0m-125 16h0m40 2h0m3-2h0m8-2h0m64-1h0m-104 7h0m46 3h0m18-4h0m28 3h0m-86 10h0m27 5h0m4-5h0m38 4h0m-14 7h0m20 2h0m5-2h0m-54 8h0m-29 9h0m33 8h0m12 0h0" stroke="#82bd38" stroke-width="7.0" stroke-linecap="round" fill="none"/>
<path transform="scale(.1)" d="M1197 715h0m-42 6h0m4 3h0m2-2h0m42-6h0m1 0h0m27 9h0m-126 8h0m6-6h0m68-1h0m24 7h0m-102 5h0m9-3h0m95 7h0m-150 5h0m20 3h0m1 2h0m2-1h0m2 3h0m37-4h0m0 1h0m75-1h0m37 1h0m-123 8h0m1-3h0m7 5h0m12 4h0m19-5h0m-152 14h0m25-7h0m18 2h0m10-2h0m104 1h0m51 3h0m-210 6h0m157 5h0m42-1h0m5-5h0m41 3h0m-209 15h0m62-8h0m17 8h0m18 0h0m28 1h0m3-1h0m10-7h0m1 7h0m-196 10h0m64-9h0m157 8h0m-227 6h0m29-4h0m64 7h0m36-3h0m54-1h0m19-2h0m5 8h0m-160 3h0m65 5h0m82 0h0m5-6h0m7 0h0m19 5h0m-233 4h0m14 5h0m27 2h0m60 1h0m61 2h0m66-1h0m6-7h0m-241 17h0m37-3h0m90 1h0m3-4h0m32 4h0m12-2h0m25 3h0m51 0h0m9-3h0m-271 9h0m81 6h0m81-3h0m33 1h0m99 1h0m-310 1h0m32 9h0m2-7h0m5 3h0m23-3h0m0 7h0m132 0h0m19 1h0m42-2h0m10 1h0m11-5h0m-271 15h0m6-6h0m44 5h0m0-5h0m33 7h0m27-5h0m16 2h0m131 2h0m10-7h0m8 7h0m-272 10h0m79-2h0m146-7h0m24 2h0m33 6h0m2 2h0m26-3h0m-155 12h0m50-8h0m11 6h0m16-6h0m3 3h0m14-3h0m23 2h0m-189 9h0m90 2h0m65 3h0m11-3h0m22 4h0m29-2h0m12-2h0m-331 12h0m19-3h0m25 2h0m82 3h0m116-7h0m36-1h0m3 2h0m24 2h0m5 4h0m-296 2h0m157 5h0m81 0h0m0-3h0m8 5h0m55-6h0m-161 11h0m18 2h0m21-1h0m46-2h0m13 5h0m6 1h0m10-6h0m15 0h0m1 7h0m37-2h0m7 1h0m-122 8h0m29 2h0m7-1h0m3-4h0m21 0h0m49 7h0m6-4h0m-109 9h0m63 1h0m52-2h0m-89 8h0m25 11h0m4 5h0m20 3h0m-72 3h0m10 6h0m62-6h0m12 0h0m19 2h0m-124 9h0m79 4h0m8 0h0m12-2h0m-79 11h0m35 2h0m2-8h0m3 4h0m49 3h0m-78 2h0m72 7h0m-24 13h0m-7 5h0m17 21h0m6 4h0m6-9h0m-15 21h0m25 41h0" stroke="#52ae8c" stroke-width="7.0" stroke-linecap="round" fill="none"/>
<path transform="scale(.1)" d="M1700 970h0m22 4h0m6-1h0m4-6h0m6 4h0m5-1h0m11 13h0m18-3h0m-38 11h0m-11 6h0m47 1h0m-48 11h0m58 2h0m-75 10h0m73 1h0m-65 8h0m33-1h0m1-2h0m49-2h0m-55 22h0m45 4h0m0-5h0m2 7h0m10-3h0m1-2h0m7 1h0m-63 8h0m28 0h0m33-1h0m-89 15h0m76 3h0m-81 9h0m101 2h0m-73 6h0m45-1h0m2 9h0m9 4h0m18 1h0m-609 9h0m-19 10h0m15-1h0m16-4h0m565 1h0m7 4h0m8-3h0m-600 11h0m583-1h0m15 4h0m-43 2h0m-29 19h0m50-3h0m1-4h0m26-2h0m3 8h0m2 0h0m9-4h0m1 0h0m3-2h0m-80 12h0m35-2h0m28 1h0m-12 14h0m-35 3h0m34 5h0m4 5h0m1 6h0m-37 6h0m31 10h0m-59 16h0m-13 2h0m26 11h0m-13 22h0" stroke="#52ace4" stroke-width="7.0" stroke-linecap="round" fill="none"/>
<path transform="scale(.1)" d="M1727 554h0m26 47h0m-15 55h0m10 18h0m-8 7h0m-17 32h0" stroke="#7466c8" stroke-width="7.0" stroke-linecap="round" fill="none"/>
<path transform="scale(.1)" d="M1762 1297h0m-55 36h0m57-8h0m-3 19h0m-72 22h0m11 5h0m19 0h0m-7 8h0m14 14h0m0 15h0m-21 8h0m36 47h0m-18 9h0m3 3h0m1 13h0m4 31h0m4 15h0m-3 22h0m0 2h0m2-3h0m2 6h0m1 19h0m-2 14h0m7-6h0m-3 27h0m-3 16h0m2-2h0m1 18h0" stroke="#d266c6" stroke-width="7.0" stroke-linecap="round" fill="none"/>
<path transform="scale(.1)" d="M1372 442h0m-41 18h0m31 3h0m3-1h0m13 3h0m5-2h0m-25 12h0m49-7h0m-51 15h0m3-1h0m23-6h0m1 4h0m15 5h0m1-1h0m26-2h0m14 2h0m11-4h0m-129 14h0m41-6h0m31 5h0m34 1h0m15-4h0m-113 6h0m18 6h0m27 1h0m9-6h0m15 4h0m9-3h0m19-1h0m42 5h0m-167 12h0m25-1h0m36-4h0m18 1h0m39-2h0m13 6h0m45-1h0m-109 8h0m49-1h0m6-2h0m0-2h0m31 9h0m28-2h0m-116 8h0m14-5h0m36 6h0m16-1h0m25 0h0m7-1h0m14-3h0m9 6h0m-159 5h0m18 2h0m18 4h0m1-8h0m30 4h0m11-4h0m9 5h0m4-2h0m42 1h0m9 0h0m39-3h0m2 7h0m0-4h0m11 1h0m-235 12h0m93-2h0m11-1h0m14 2h0m8-5h0m26 4h0m51 1h0m-182 8h0m7 1h0m21 3h0m39-6h0m77 4h0m32 2h0m4-9h0m0 8h0m-142 6h0m4-1h0m3 3h0m39 1h0m23 1h0m6 0h0m10-7h0m7 6h0m85-7h0m-258 12h0m30 2h0m56-1h0m48-2h0m4-1h0m6 7h0m25 0h0m3-1h0m12 2h0m7-2h0m5-4h0m31 2h0m65 4h0m-270 7h0m7 3h0m6-5h0m21 6h0m27-6h0m7-2h0m4-1h0m33 4h0m8-1h0m26 6h0m1-5h0m21 1h0m2-4h0m17 3h0m1-1h0m36 5h0m24-1h0m9 1h0m14 1h0m-267 8h0m1-7h0m25 6h0m6-4h0m0 8h0m40-7h0m15 2h0m4 4h0m16-9h0m9 8h0m8-6h0m16 6h0m7-2h0m37-1h0m0-5h0m3 4h0m6 0h0m13-3h0m14 5h0m31 1h0m-245 5h0m11 3h0m29-2h0m14-1h0m22 3h0m9-3h0m83 7h0m3-7h0m1 4h0m33-6h0m19 1h0m0 1h0m34 5h0m-280 8h0m15 3h0m15-2h0m13-4h0m9 1h0m5-3h0m0 3h0m16 3h0m1-3h0m20-3h0m31 7h0m11 1h0m5-2h0m15 4h0m15-1h0m1-2h0m20 2h0m17-8h0m101-1h0m-274 12h0m5 5h0m26-4h0m26 5h0m20-8h0m27 3h0m12 4h0m128-5h0m12-1h0m-277 17h0m25-2h0m9 3h0m2-8h0m1 5h0m35 1h0m15 0h0m0-2h0m2-4h0m2 0h0m11 2h0m22-3h0m3 1h0m3 9h0m4-10h0m21 9h0m21-7h0m16 6h0m12-7h0m36 4h0m1-4h0m31 1h0m0 8h0m-273 2h0m22 1h0m14 4h0m34-3h0m19-3h0m1 0h0m2 9h0m15-4h0m7 2h0m5-6h0m13 4h0m18 4h0m28-3h0m2-4h0m50 4h0m2-6h0m15 0h0m6-1h0m29 4h0m-282 11h0m18-2h0m6 1h0m3 3h0m47-4h0m7-2h0m15 3h0m4-1h0m20 0h0m2 1h0m28 1h0m27-1h0m12 2h0m34 4h0m9-6h0m7 4h0m16-4h0m8 1h0m0 4h0m7-3h0m3-3h0m18-2h0m-315 13h0m46 0h0m67-3h0m9 8h0m15-5h0m3 1h0m15-5h0m8 1h0m8 2h0m8-3h0m11 10h0m13-2h0m10-5h0m3 3h0m83 1h0m7 2h0m27-4h0m-343 12h0m30-4h0m49 7h0m15-1h0m3-4h0m14-1h0m0 1h0m3 5h0m11-9h0m5 9h0m25-2h0m34-1h0m0-5h0m4 3h0m16 3h0m10 2h0m11-5h0m12-2h0m6-2h0m18 3h0m25-1h0m6 6h0m9-6h0m11 7h0m21-4h0m-315 13h0m6-4h0m10 0h0m16 1h0m3-4h0m16 5h0m11 2h0m13-1h0m3 0h0m17-6h0m23 4h0m15 0h0m13-2h0m8 6h0m3-8h0m27 5h0m31-7h0m9 8h0m23 1h0m14-8h0m-238 16h0m42-6h0m1 6h0m1-6h0m13 3h0m48 5h0m3-3h0m17 0h0m14-4h0m8 7h0m8-8h0m12 4h0m9 2h0m4 1h0m2-2h0m10 2h0m58 0h0m1-6h0m4 4h0m5 2h0m1 0h0m3-4h0m14-2h0m29 6h0m6-7h0m120 3h0m-471 10h0m1 4h0m56 0h0m26-1h0m2-6h0m12 0h0m4 3h0m9-3h0m3 6h0m9-4h0m12-1h0m34 8h0m6-9h0m3 3h0m6 6h0m11-9h0m7 3h0m0 5h0m80-5h0m27-3h0m26 1h0m3 8h0m1 0h0m7-9h0m26 0h0m110 9h0m40-7h0m-567 16h0m35-3h0m10-5h0m19 8h0m37-5h0m11-2h0m4 2h0m38 1h0m34-1h0m3 1h0m29 1h0m42 1h0m11-4h0m14 5h0m28 2h0m10-6h0m1-2h0m8 8h0m25-3h0m5 2h0m-348 7h0m28 4h0m48-8h0m1 5h0m41-5h0m1 0h0m7 1h0m3 5h0m20-4h0m24 3h0m1-3h0m36-2h0m1 2h0m14 1h0m0 3h0m5-7h0m26 9h0m12-4h0m13-2h0m17 4h0m19 0h0m35 1h0m3-7h0m32 7h0m-375 7h0m2-4h0m1 3h0m25 1h0m23-4h0m33 6h0m20-1h0m8-5h0m35-2h0m68 8h0m27-1h0m13-1h0m17-2h0m10 2h0m10 0h0m10-6h0m5 4h0m2 3h0m17-7h0m9 6h0m22-4h0m25 4h0m-335 11h0m16-4h0m37-2h0m43 6h0m5 1h0m45 1h0m48-1h0m7-1h0m6 2h0m14-4h0m6-2h0m7 6h0m6-4h0m40 4h0m18 0h0m2-4h0m50-4h0m-391 15h0m53 1h0m11 1h0m8 1h0m7-3h0m7 3h0m1-2h0m29-3h0m15 1h0m1 0h0m4 2h0m17-5h0m1-1h0m45 3h0m4 3h0m12 1h0m4-6h0m8 5h0m25 1h0m11-6h0m21 5h0m5-5h0m14 1h0m9 2h0m33 4h0m-376 1h0m53 1h0m13 2h0m19-2h0m32 9h0m1-2h0m4-5h0m6 0h0m22 2h0m6 3h0m12 1h0m14 0h0m3-4h0m2-4h0m125 2h0m51 2h0m-348 14h0m22-6h0m32 1h0m8-1h0m21 4h0m3 0h0m2-5h0m8 5h0m4-6h0m36 1h0m0 1h0m7-1h0m31-1h0m11 1h0m5 7h0m33 1h0m35-4h0m2 1h0m2 3h0m71 0h0m28-9h0m7 7h0m-364 4h0m17 3h0m22-1h0m20 5h0m12 0h0m42-4h0m20 5h0m1-8h0m0 6h0m8 0h0m11-8h0m3 10h0m13-8h0m37-1h0m13 0h0m3 9h0m17-1h0m2-2h0m12 3h0m47-7h0m12 2h0m17-4h0m12 9h0m9-6h0m4-1h0m-318 9h0m11 6h0m2-1h0m5-3h0m4 2h0m40-2h0m7 2h0m9-3h0m14 0h0m2 3h0m7-4h0m13 7h0m7-3h0m1-5h0m1 0h0m16 7h0m45-1h0m7 2h0m18-3h0m10-1h0m24-1h0m17-2h0m8 1h0m24 7h0m-329 1h0m108-1h0m3 9h0m13-6h0m2-2h0m3 8h0m25-3h0m8 3h0m0-7h0m5 4h0m3-3h0m18 0h0m47 0h0m5 5h0m7 0h0m5-2h0m22 4h0m34-3h0m-304 6h0m39 2h0m4 2h0m12-7h0m17 9h0m72-1h0m42 1h0m5-8h0m4 5h0m33-1h0m2-1h0m7 4h0m41 0h0m-268 9h0m65-5h0m12 1h0m16 2h0m26 5h0m8-8h0m4-2h0m12 6h0m12-4h0m0-1h0m58 0h0m13 6h0m12-5h0m9 5h0m22 3h0m0-9h0m-302 10h0m43 8h0m4-7h0m35 6h0m30-6h0m1 4h0m8 2h0m5-3h0m1-2h0m18 0h0m30 3h0m13 2h0m15-2h0m26-1h0m74 5h0m5-2h0m-277 4h0m26 0h0m4 0h0m10-1h0m12 8h0m13-6h0m4 2h0m31-3h0m0 6h0m1 0h0m30 1h0m48-6h0m15 0h0m3 2h0m32-2h0m5 4h0m8-6h0m5 0h0m20 1h0m-241 16h0m30-1h0m9 2h0m20-8h0m5 5h0m6 4h0m18-4h0m11-3h0m20 7h0m17-6h0m27 0h0m5-4h0m10 3h0m27 2h0m-196 10h0m14 0h0m3 2h0m27-1h0m11-3h0m22 6h0m12-3h0m13-5h0m3 4h0m12 3h0m15-4h0m2 1h0m7 5h0m1-4h0m32-5h0m9-1h0m16 2h0m2 5h0m8-2h0m17 5h0m-225 6h0m73-3h0m2 5h0m45-1h0m21-6h0m12 7h0m1 1h0m1-2h0m18 1h0m0-4h0m52 0h0m-222 11h0m14 3h0m5-7h0m5 5h0m7 0h0m42-4h0m3 3h0m13-3h0m24 5h0m1-7h0m10 2h0m2 6h0m2-2h0m4 0h0m4-2h0m85 3h0m-227 12h0m16-7h0m1 3h0m9-1h0m12 2h0m3 3h0m26-3h0m8-3h0m14 2h0m30-1h0m19 3h0m9 1h0m-181 11h0m1-8h0m8 8h0m12 0h0m9 1h0m7-1h0m60-7h0m16 3h0m13-1h0m23 5h0m5 0h0m3-6h0m5 4h0m30-3h0m3 4h0m4-2h0m5 4h0m4 0h0m-215 4h0m8 0h0m19 1h0m39 1h0m7-3h0m4 2h0m4-4h0m2 2h0m2-1h0m56 2h0m8-1h0m39 1h0m24-1h0m-207 12h0m3-3h0m45 4h0m28-5h0m0 7h0m2-2h0m13 2h0m10-6h0m23 1h0m13 4h0m82-3h0m15 2h0m131-5h0m31 7h0m-397 12h0m5-6h0m20 3h0m67-5h0m19-1h0m7 0h0m73 9h0m87-6h0m76 2h0m-352 7h0m34 6h0m58 0h0m23-2h0m22-1h0m21-4h0m2 4h0m14-3h0m60 5h0m151 1h0m-363 9h0m6 1h0m68-6h0m28 0h0m17 5h0m173-1h0m81-6h0m-369 15h0m12 4h0m37-8h0m38 0h0m140 0h0m-250 16h0m47-8h0m4 8h0m82-5h0m26 4h0m42-3h0m144-3h0m-324 15h0m47 3h0m10-6h0m121 7h0m181-9h0m-381 10h0m88 0h0m161 5h0m34 1h0m-260 6h0m39 5h0m15-7h0m11 6h0m184 2h0m88 1h0m38-2h0m-345 4h0m328 4h0m-314 10h0m80-1h0m63-1h0m141-3h0m25-1h0m-87 21h0m-138 14h0m221-1h0m5 4h0m-310 11h0m190 0h0m61 1h0m96-8h0m-248 16h0m103-2h0m14 21h0m3-3h0m-43 10h0m153 7h0m-192 12h0m10 5h0m210 1h0m-283 10h0m12-4h0m95 29h0m70 6h0m42 24h0m-211 13h0m2-3h0m252-2h0m-269 15h0m74-1h0m-16 4h0m207 17h0m-134 13h0m7 0h0m-28 5h0m104 2h0m-200 15h0m75 8h0m62 4h0m8 24h0m-44 7h0m27-5h0m87 9h0m30-8h0m-141 12h0m113 14h0m-9 11h0" stroke="#e07a74" stroke-width="7.0" stroke-linecap="round" fill="none"/>
<path transform="scale(.1)" d="M1601 839h0m11 13h0m-199 21h0m7 1h0m-82 7h0m145-5h0m21 2h0m-105 16h0m39-2h0m15-6h0m-113 17h0m7 1h0m19 0h0m33 1h0m20 0h0m31-1h0m-121 10h0m7-4h0m29-2h0m81 4h0m-195 7h0m34 3h0m114 1h0m5-7h0m22 9h0m12-5h0m186 1h0m-330 8h0m41 5h0m31-6h0m52 3h0m18-2h0m11 6h0m49-2h0m36-1h0m93-2h0m5-3h0m14 0h0m-369 9h0m32 5h0m37-1h0m5-2h0m32-1h0m40 1h0m45 5h0m7-8h0m26 7h0m10-1h0m96-4h0m-338 10h0m15-1h0m12 3h0m12 0h0m1 2h0m17-4h0m2 8h0m4-2h0m3-4h0m0 2h0m4-4h0m36 3h0m14 3h0m2-4h0m21 5h0m10 1h0m25-6h0m12 2h0m11-2h0m9 1h0m9 0h0m37 3h0m13-3h0m89 2h0m29-5h0m-399 9h0m3 7h0m42-4h0m49 3h0m6-5h0m23 4h0m4-3h0m32-3h0m23 1h0m11 4h0m49 3h0m11-5h0m6 0h0m-255 9h0m34 2h0m7-1h0m46 7h0m9-5h0m29 4h0m22-5h0m1 5h0m58 0h0m14-5h0m19 4h0m-203 3h0m11-1h0m12 1h0m60 5h0m4-1h0m10 4h0m22-3h0m8 0h0m8 3h0m11-5h0m63-1h0m64-2h0m12 4h0m66 2h0m-379 8h0m7 0h0m11 5h0m22-1h0m33 1h0m15-3h0m17-4h0m6 2h0m5 0h0m20-3h0m14 7h0m6-7h0m11 3h0m31-4h0m7 4h0m7-5h0m68 7h0m-293 8h0m24 0h0m1-4h0m27 8h0m3-4h0m25 2h0m16 1h0m14-2h0m4-5h0m3 0h0m2-1h0m0 4h0m85 3h0m2-2h0m11-3h0m18 0h0m1 0h0m16 2h0m-225 10h0m10 3h0m20 0h0m81-6h0m11 9h0m5-3h0m8-6h0m13 0h0m48 6h0m19 2h0m-159 11h0m5-7h0m14 7h0m11-6h0m2 2h0m20 1h0m20 2h0m3 0h0m8-1h0m9 1h0m16-3h0m27-1h0m6-2h0m46-1h0m70-2h0m-319 11h0m41 5h0m50-6h0m2 7h0m5 0h0m4-6h0m14 0h0m47 7h0m45-4h0m1 3h0m0-2h0m10 2h0m-208 10h0m10-6h0m13 1h0m6 1h0m23-2h0m27 5h0m15-6h0m20 7h0m2-4h0m17 6h0m9-4h0m105-3h0m80 6h0m-332 5h0m3 6h0m13 0h0m9-5h0m58 1h0m30 4h0m1-5h0m2-3h0m7 0h0m1 3h0m28-1h0m10 6h0m13-6h0m70 6h0m2-4h0m88-3h0m-340 12h0m26-1h0m13-1h0m12 1h0m114 0h0m24 7h0m4-1h0m24-2h0m7 2h0m14-4h0m6 3h0m-223 8h0m2-2h0m26 6h0m5-4h0m13-4h0m8 1h0m61-1h0m18 1h0m10 1h0m2 3h0m24-6h0m1 1h0m48 3h0m24 3h0m14-6h0m35 6h0m63-6h0m-379 8h0m21 3h0m21-2h0m8-1h0m15 4h0m2-1h0m55 3h0m8 0h0m8 2h0m27-5h0m2 6h0m6-4h0m12-3h0m0 4h0m3-4h0m160 5h0m-320 5h0m28-1h0m2 7h0m54 1h0m14-3h0m6-5h0m4 1h0m4 0h0m21 4h0m8-6h0m2 0h0m28 8h0m24 1h0m40-1h0m115-4h0m-335 9h0m26 0h0m33 2h0m25 0h0m22-3h0m5 0h0m21 0h0m20 0h0m13 4h0m23 2h0m37-7h0m2 5h0m6-4h0m38 2h0m-268 14h0m13-6h0m11 3h0m25 0h0m0-1h0m1 5h0m17-1h0m6 0h0m31-2h0m19-5h0m49 9h0m12-9h0m8 1h0m167 4h0m-378 10h0m2-3h0m10 6h0m40-2h0m4-2h0m15 1h0m10-5h0m0 2h0m1 4h0m7-3h0m1 0h0m23 3h0m26 3h0m1-9h0m2 0h0m3 3h0m5 5h0m12-1h0m1-6h0m18 2h0m6 4h0m28-3h0m17 3h0m10-1h0m-216 5h0m2 2h0m18 0h0m19-1h0m47 0h0m3-3h0m29 10h0m7 0h0m6-5h0m15 4h0m1-1h0m6-2h0m12-3h0m14 2h0m25 5h0m-179 4h0m12 5h0m14-2h0m53-5h0m8 5h0m3 1h0m20-6h0m1 6h0m17 0h0m10-3h0m52 0h0m15-4h0m45-1h0m77 9h0m-312 5h0m5 5h0m0-2h0m13 3h0m5-5h0m8-4h0m8 2h0m64 7h0m5 0h0m16-8h0m4 3h0m26-3h0m-208 13h0m3 4h0m18-3h0m23 2h0m52-6h0m7 6h0m0-5h0m9-3h0m18 2h0m18 1h0m21 3h0m9 3h0m4-8h0m20 0h0m29-1h0m-137 17h0m7-4h0m11 2h0m7-3h0m29-2h0m17 4h0m2 3h0m11 2h0m66-8h0m49 6h0m-255 8h0m7-2h0m18 0h0m4 2h0m28-1h0m4-1h0m0 4h0m20 0h0m23-1h0m1-6h0m17 7h0m15-3h0m21-1h0m9 3h0m112 3h0m-272 4h0m20 6h0m27-8h0m5 2h0m7-2h0m6 6h0m7-3h0m12 1h0m8 0h0m5 4h0m1-6h0m12-2h0m4 9h0m21-10h0m6 5h0m15-4h0m32 3h0m-233 7h0m16 2h0m53-1h0m27 5h0m10-6h0m2 2h0m18 2h0m18-3h0m1-1h0m21 0h0m9 1h0m5 4h0m1-3h0m64 5h0m-209 3h0m27 7h0m27-4h0m9-1h0m18 7h0m2-7h0m26-3h0m30 9h0m5-1h0m29-1h0m5 0h0m11-1h0m99-5h0m-289 9h0m17 2h0m13 3h0m29-5h0m30 7h0m5-4h0m56 7h0m4-7h0m1 4h0m10 2h0m13-2h0m67 1h0m-247 7h0m36-5h0m17 10h0m24-3h0m11 0h0m22 0h0m7-2h0m51 1h0m-123 4h0m36 0h0m34 3h0m17 4h0m26-3h0m9 2h0m-113 9h0m6-5h0m32 1h0m11 4h0m14-4h0m56 2h0m19 3h0m9 1h0m104-1h0m-263 11h0m81-7h0m5 6h0m7 0h0m66-4h0m6 5h0m4-6h0m40 4h0m8 3h0m-212 8h0m11 0h0m22-2h0m1 2h0m21 2h0m4-4h0m1 0h0m0 3h0m4-5h0m20-1h0m55-1h0m-174 10h0m49 4h0m12 4h0m18-6h0m32-1h0m66 0h0m89 8h0m-239 9h0m38-2h0m15 4h0m2 0h0m27-2h0m19 2h0m14-2h0m11-7h0m6 2h0m17 4h0m3-6h0m81-1h0m9 5h0m7 3h0m-213 6h0m95-2h0m112 1h0m-154 10h0m4-1h0m4 3h0m14-3h0m34-1h0m125 2h0m-225 13h0m2 3h0m12 1h0m24-3h0m1-3h0m18-4h0m8 0h0m110 9h0m-212 4h0m212 1h0m-181 14h0m16-1h0m12 0h0m8 1h0m17-5h0m129 6h0m-174 10h0m15-9h0m5 3h0m2 3h0m6 4h0m161-8h0m-130 21h0" stroke="#c8a634" stroke-width="7.0" stroke-linecap="round" fill="none"/>
<path transform="scale(.1)" d="M1741 720h0m-149 21h0m36-4h0m-57 22h0m9-3h0m26 1h0m3 5h0m-22 5h0m2 0h0m2 3h0m27 5h0m-34 6h0m30-5h0m16 3h0m18 1h0m-70 12h0m3-6h0m33 6h0m13-2h0m3-3h0m-83 9h0m49 9h0m8-6h0m1 3h0m6-5h0m9 4h0m10-1h0m-38 19h0m9 5h0m18-1h0m8-6h0m62 16h0m-138 3h0m45 4h0m20 4h0m5-2h0m-58 4h0m2 1h0m27 3h0m36-5h0m-57 12h0m14 6h0m20 2h0m10-4h0m26-2h0m-88 13h0m15-1h0m1 1h0m15-3h0m65-3h0m-156 17h0m37-5h0m29-2h0m26 6h0m49-5h0m3 7h0m32 1h0m12-6h0m-189 11h0m33-2h0m28 0h0m14-2h0m11 3h0m1 6h0m35-4h0m28 1h0m26 3h0m-125 5h0m19-1h0m3 0h0m42-3h0m6 3h0m5 2h0m26-5h0m35 8h0m1-4h0m-238 11h0m20 2h0m38-8h0m16 8h0m74-3h0m20 4h0m1-1h0m30 1h0m6-6h0m4 3h0m43-2h0m-226 12h0m66-1h0m6 2h0m35-2h0m29 1h0m-129 11h0m18-6h0m16 0h0m2 0h0m7 3h0m27 3h0m39-3h0m27-3h0m28 1h0m19 0h0m-200 14h0m26-4h0m9 2h0m4-2h0m6 6h0m83 1h0m6-6h0m5-1h0m62 7h0m-127 2h0m23-1h0m19 7h0m13 2h0m5-7h0m31 8h0m-314 5h0m210-2h0m10 6h0m74 0h0m8 0h0m0 1h0m9-3h0m6-5h0m36-2h0m-138 19h0m0-6h0m45 3h0m22-5h0m8 2h0m21 2h0m21-1h0m1 2h0m12-1h0m31-5h0m17 9h0m-132 3h0m27 4h0m7 4h0m21-9h0m6 3h0m4-1h0m34 3h0m-239 7h0m118 6h0m49-3h0m9 3h0m38-7h0m36 4h0m-302 11h0m36-5h0m12 0h0m117 6h0m13-6h0m14 1h0m9 3h0m16-2h0m10 0h0m10-4h0m3 5h0m7-2h0m2 6h0m0-2h0m11 2h0m8-5h0m46 1h0m-103 9h0m6 6h0m28-5h0m54 4h0m11-3h0m-80 11h0m17 1h0m49-4h0m-131 10h0m24 6h0m18-9h0m13 6h0m22-2h0m0 4h0m24-4h0m26 0h0m7-3h0m-51 15h0m11 1h0m25-7h0m13 8h0m-72 9h0m0-3h0m22 3h0m7 0h0m13-7h0m-101 11h0m45 1h0m30 0h0m30-2h0m37 8h0m-186 6h0m144 4h0m-272 9h0m175 2h0m61-1h0m25-2h0m22 1h0m-185 4h0m105 2h0m11-2h0m3 8h0m35-4h0m4 2h0m27 0h0m49-6h0m-259 10h0m133 5h0m33-3h0m14 0h0m1 6h0m22-6h0m15 0h0m7 0h0m-326 7h0m245 6h0m1-3h0m33 3h0m59-2h0m-228 11h0m129-2h0m4-3h0m83 4h0m-74 7h0m54-1h0m-300 18h0m58 0h0m150-7h0m14-1h0m20 4h0m1-1h0m8 0h0m5-2h0m8 6h0m16-6h0m2-1h0m15 0h0m22 3h0m20 6h0m-232 7h0m2-6h0m36 4h0m51 3h0m34 0h0m12-8h0m32 10h0m1-10h0m43 3h0m-279 13h0m172 3h0m45-8h0m8 6h0m8 2h0m9-6h0m-73 13h0m44 2h0m27-7h0m8-1h0m-81 20h0m42-10h0m1 7h0m9-2h0m4 4h0m18-1h0m4 2h0m3-7h0m31 5h0m-110 7h0m27 3h0m15-6h0m22-2h0m34 5h0m-95 5h0m24 1h0m17 7h0m16-1h0m5-2h0m41 5h0m8-7h0m6 3h0m2 2h0m-221 2h0m3 9h0m87 0h0m76 0h0m19-6h0m29 7h0m7-4h0m-135 13h0m64-3h0m11-2h0m7-4h0m-75 17h0m26-5h0m18 3h0m1 3h0m18-2h0m24 0h0m-75 9h0m98 3h0m-258 11h0m151-8h0m76 2h0m5 2h0m15 4h0m-67 9h0m3-1h0m16-6h0m39 3h0m16 6h0m23-4h0m-109 14h0m16-2h0m19-3h0m29 2h0m18 1h0m5-7h0m10 2h0m-87 7h0m7 6h0m0-5h0m27 0h0m14 9h0m2-4h0m0 1h0m-67 6h0m35-1h0m25 4h0m3 0h0m-8 8h0m-31 14h0m17-5h0m38 6h0m16 0h0m20-4h0m-154 12h0m65 2h0m1-5h0m23 1h0m8 3h0m-72 4h0m25 6h0m-41 11h0m38 7h0m11 3h0m69-7h0m6-1h0m-119 14h0m29-2h0m31 3h0m28-5h0m35 1h0m-71 10h0m19 2h0m23-2h0m-70 17h0m-8 9h0m14-7h0m18 0h0m-15 17h0m4-1h0m17-7h0m35 4h0m-42 16h0m4-1h0m15-1h0m-51 11h0m28-8h0m-3 16h0" stroke="#82bd38" stroke-width="7.0" stroke-linecap="round" fill="none"/>
<path transform="scale(.1)" d="M1216 703h0m9 0h0m10 0h0m-118 20h0m70-7h0m5 5h0m1-4h0m-117 15h0m62-5h0m4 0h0m25 6h0m-119 9h0m69 2h0m47-7h0m78-1h0m-230 16h0m35 1h0m28-7h0m30 1h0m36 3h0m-104 9h0m19-3h0m2 0h0m12 0h0m10 1h0m117 4h0m6 1h0m1-1h0m-212 13h0m7-8h0m15 4h0m24-2h0m6-1h0m24 8h0m81-1h0m24-7h0m52 8h0m-240 8h0m163-5h0m46-2h0m-222 13h0m19 1h0m52-2h0m-82 9h0m19 3h0m19 3h0m5-5h0m134 7h0m60-6h0m10-1h0m20 4h0m-270 6h0m2 7h0m51-7h0m138 0h0m13 7h0m-210 9h0m66-2h0m9 3h0m16-10h0m77 3h0m30 4h0m14 2h0m21-2h0m-185 9h0m75 4h0m121-9h0m15 2h0m-202 13h0m18 4h0m10-4h0m13 3h0m28-3h0m29-3h0m15 3h0m22-1h0m-203 12h0m15-2h0m69 4h0m117-5h0m107 1h0m-261 11h0m39-5h0m63 4h0m9-2h0m22 6h0m26-7h0m1 6h0m26-6h0m3-2h0m10 8h0m-276 12h0m13-4h0m14 1h0m71 0h0m3 0h0m17-2h0m54 1h0m18 4h0m32-10h0m55 1h0m-254 18h0m53-2h0m2 2h0m38-5h0m57-3h0m62 4h0m46 4h0m-141 7h0m70-5h0m26 4h0m73 1h0m-306 14h0m33-2h0m44-4h0m51 5h0m42 0h0m14-7h0m9 8h0m11-1h0m7-1h0m9-1h0m25 1h0m8-3h0m27 3h0m2-7h0m9 7h0m37-5h0m-274 17h0m138-3h0m40-1h0m4 1h0m19-4h0m6-3h0m-244 18h0m190-8h0m27 4h0m42-1h0m38-2h0m-297 16h0m150 1h0m62-4h0m1 5h0m1-7h0m10 3h0m30 3h0m6-2h0m-84 14h0m61-3h0m12-7h0m20 4h0m25 3h0m-107 6h0m8 3h0m37-3h0m-17 15h0m17-6h0m10 1h0m34 4h0m7-4h0m-102 16h0m14-7h0m5 5h0m36-4h0m16-1h0m34 0h0m13-1h0m-96 15h0m19 0h0m9 2h0m12-4h0m-48 6h0m99 10h0m3-1h0m-42 7h0m24-6h0m-70 19h0m19-8h0m15 3h0m-26 13h0m8 9h0m59 23h0m-11 3h0m12 14h0m1-3h0m7 26h0m2 25h0m4 9h0" stroke="#52ae8c" stroke-width="7.0" stroke-linecap="round" fill="none"/>
<path transform="scale(.1)" d="M1713 978h0m22 4h0m12-5h0m8 1h0m9 4h0m-50 13h0m10-8h0m-16 15h0m18-6h0m10 19h0m46-9h0m-75 10h0m23 7h0m2-4h0m15 6h0m13-5h0m12 0h0m8 4h0m11-6h0m-71 10h0m31-1h0m21 6h0m-23 9h0m19 0h0m14 2h0m17-8h0m-84 17h0m42-6h0m36 3h0m7-5h0m7 7h0m-34 4h0m-29 10h0m39 5h0m4-3h0m24 0h0m-81 13h0m63-5h0m5 7h0m-69 12h0m46 3h0m11 5h0m14-4h0m-600 8h0m5 15h0m568 2h0m-517 4h0m532 0h0m15 4h0m-16 9h0m14 3h0m1-4h0m10 3h0m-77 3h0m40 2h0m4 6h0m13 7h0m5-3h0m5 3h0m10 10h0m-37 11h0m16-7h0m2 4h0m13 15h0m-54 4h0m-28 7h0m31 7h0m33-4h0m-53 10h0m31 1h0m-54 12h0m46-3h0m-9 12h0m8 1h0m9 3h0m-54 31h0" stroke="#52ace4" stroke-width="7.0" stroke-linecap="round" fill="none"/>
<path transform="scale(.1)" d="M1772 650h0m-40 50h0m-1 10h0m6 15h0m6 16h0" stroke="#7466c8" stroke-width="7.0" stroke-linecap="round" fill="none"/>
<path transform="scale(.1)" d="M1760 1289h0m0 2h0m-96 16h0m31 5h0m57 1h0m-64 24h0m82 1h0m-97 13h0m1-2h0m91-2h0m-31 35h0m-41 6h0m7 2h0m20 36h0m13 18h0m6 32h0m-13 22h0m11 17h0m-6 4h0m7-2h0m-9 14h0m0 19h0m2 4h0m2 46h0m2 22h0" stroke="#d266c6" stroke-width="7.0" stroke-linecap="round" fill="none"/>
<path transform="scale(.1)" d="M1380 1801h0m28 2h0m26 1h0m-33 19h0m8-5h0m-53 13h0m35-3h0m41 1h0m6-1h0m8 4h0m5-5h0m-98 17h0m3-4h0m4-3h0m59 4h0m14-6h0m2 9h0m4 0h0m16-4h0m-130 11h0m3-2h0m26-3h0m17 9h0m14-1h0m2-9h0m7 8h0m19-1h0m33-5h0m23 4h0m13-4h0m-143 17h0m16-5h0m1 1h0m7-3h0m9 8h0m8-5h0m11 0h0m24 1h0m21 2h0m1-2h0m43-3h0m-144 9h0m32 6h0m56 1h0m11-7h0m29 5h0m32-1h0m-140 10h0m15 3h0m8-1h0m2-5h0m4 0h0m9 2h0m9-1h0m28 4h0m6-4h0m7 6h0m26-4h0m1 4h0m24-2h0m-186 7h0m4 4h0m6-7h0m5 5h0m50-1h0m14-2h0m4 4h0m23-5h0m4-1h0m30 1h0m2-1h0m34 4h0m17 1h0m-194 6h0m29 1h0m14-3h0m6 6h0m127 2h0m11-8h0m27 9h0m-158 5h0m38-3h0m12 5h0m27-1h0m1 4h0m21-10h0m28 2h0m-178 9h0m11 0h0m21 6h0m2-7h0m5 3h0m24 2h0m16-1h0m1 3h0m5 2h0m1-3h0m11-3h0m11 1h0m24-4h0m6 0h0m25 6h0m0-1h0m1-3h0m-133 16h0m11-3h0m3 1h0m30-4h0m27 4h0m30 1h0m6 2h0m32-5h0m0 4h0m33 0h0m2 0h0m12-7h0m-225 19h0m2-2h0m24-2h0m20-5h0m15 2h0m3 3h0m8 0h0m27-4h0m0 2h0m7 0h0m7 3h0m62 2h0m-159 6h0m19-1h0m12 1h0m8 3h0m20-7h0m7 6h0m0 0h0m17-6h0m8 3h0m26-3h0m17 4h0m1 1h0m11-3h0m0-2h0m10 6h0m35-2h0m14 4h0m45-3h0m-254 11h0m1 0h0m16-6h0m17 0h0m46 8h0m18-6h0m18 3h0m7-2h0m13 5h0m15-3h0m4 3h0m4 0h0m8-4h0m31-5h0m11 3h0m4 1h0m41 5h0m3-4h0m-261 11h0m24-6h0m19 7h0m4 2h0m34 0h0m3-6h0m5 4h0m31-1h0m0 2h0m12-6h0m12-2h0m21 4h0m1 3h0m23-2h0m21-2h0m3-3h0m58 9h0m-270 1h0m51 9h0m21-7h0m32 5h0m22 0h0m0-3h0m20 1h0m3 3h0m5-3h0m6 2h0m5-5h0m2 5h0m2-5h0m11 4h0m16-2h0m59 5h0m12-9h0m-266 20h0m14-4h0m1 1h0m12 2h0m20-6h0m17 5h0m3 2h0m17-4h0m2 2h0m17-4h0m8-4h0m50 7h0m9-7h0m3 6h0m1-6h0m29 9h0m11-2h0m12-6h0m48 3h0m15-3h0m-331 17h0m22-1h0m12-3h0m59 2h0m6 0h0m64-2h0m10 0h0m2 0h0m5-2h0m12-1h0m1 7h0m8-4h0m3 1h0m3 4h0m29-5h0m0-3h0m6 2h0m9 6h0m21-4h0m-240 8h0m16 4h0m5-3h0m28 3h0m8-4h0m6 4h0m12 1h0m2-5h0m15 6h0m0-2h0m24-6h0m3 2h0m30 5h0m18 1h0m11 0h0m11-5h0m17 2h0m4-6h0m9 1h0m12 3h0m22-1h0m5 5h0m7-3h0m22-2h0m-326 14h0m7-5h0m26 3h0m1-1h0m2 1h0m39 4h0m23-6h0m1 4h0m23-4h0m38 1h0m6 0h0m20 1h0m3 4h0m21-9h0m21 4h0m14-3h0m2 3h0m9-1h0m16-2h0m22 9h0m18-4h0m-319 8h0m16-2h0m16 4h0m4-2h0m16-2h0m5 2h0m86 5h0m11-6h0m2 6h0m20-1h0m28-6h0m5 5h0m29-7h0m4 8h0m13-2h0m4-5h0m3-1h0m14 5h0m28-2h0m10 5h0m-286 8h0m4-3h0m17 3h0m15-4h0m24 3h0m12-4h0m20 0h0m3 3h0m64 5h0m6 0h0m5-3h0m2-3h0m6 3h0m10 2h0m21-6h0m13 8h0m2-3h0m9-1h0m7-4h0m1 7h0m41-5h0m-279 8h0m5 6h0m48 1h0m2-8h0m20 1h0m42 3h0m31 1h0m6 0h0m1-5h0m44 3h0m44 0h0m15 2h0m21 1h0m1 2h0m24-3h0m12 2h0m2 2h0m3-6h0m21 1h0m-342 7h0m28 1h0m3 2h0m22 1h0m41-4h0m25 5h0m5-7h0m30 5h0m10-1h0m12-3h0m27 0h0m8 9h0m14-7h0m9 6h0m10-1h0m26-3h0m12-3h0m67 0h0m-370 16h0m2 0h0m27 2h0m7-5h0m36-4h0m1 8h0m20-2h0m2 2h0m21 1h0m4-4h0m9-2h0m31-1h0m19-1h0m2 8h0m29-1h0m7-6h0m6 0h0m29 2h0m6-1h0m54-1h0m9 3h0m11-1h0m8 3h0m-350 10h0m25-7h0m20 0h0m15 5h0m4 2h0m16-2h0m17 3h0m21-8h0m25 6h0m19-6h0m32 6h0m10-6h0m6 7h0m8-3h0m8-4h0m31-1h0m13 2h0m1 4h0m0-5h0m15 1h0m11 2h0m31-3h0m37 7h0m4 1h0m-361 10h0m53 1h0m60-4h0m16-2h0m0 1h0m34 3h0m33 2h0m17-1h0m29 0h0m21-5h0m25 5h0m11-2h0m8-7h0m2 1h0m63 1h0m-367 14h0m10 0h0m56-4h0m3 0h0m4-1h0m48-1h0m1 1h0m9 0h0m14 5h0m19-4h0m4-1h0m12 6h0m8-1h0m2-4h0m2 6h0m13 0h0m20-7h0m10 8h0m40-6h0m53 2h0m5-4h0m-355 16h0m4 2h0m2-8h0m13 7h0m10-8h0m29 8h0m81-7h0m9 6h0m29-4h0m52 4h0m5-5h0m8 4h0m17-3h0m5 1h0m22-3h0m7 0h0m4 3h0m23-2h0m11 4h0m10-4h0m-318 13h0m5 4h0m23-1h0m14 0h0m2-5h0m11 0h0m96 6h0m20-4h0m33-2h0m2 2h0m4-1h0m8 2h0m52-3h0m3-1h0m2 1h0m9 5h0m3-1h0m1 2h0m10-8h0m33 2h0m24 3h0m-365 9h0m39-4h0m8 7h0m41 1h0m7-8h0m3 5h0m26-5h0m9 2h0m14 0h0m0 2h0m16 0h0m133-4h0m13 6h0m33-1h0m2 1h0m13-3h0m-341 12h0m5-1h0m4 5h0m2-3h0m4 0h0m1-6h0m8 2h0m33 7h0m2-10h0m14 8h0m18-3h0m8-2h0m3 1h0m9 3h0m13 2h0m27-6h0m55 0h0m4 6h0m1-2h0m34-2h0m32 3h0m19 1h0m42-3h0m-310 10h0m1-6h0m14 8h0m13-3h0m34-1h0m81 5h0m20-2h0m16 1h0m1 1h0m18-4h0m47 2h0m32 2h0m33 0h0m-347 6h0m18-4h0m13-1h0m51 3h0m2 6h0m6-6h0m21 2h0m6 4h0m4-5h0m4-3h0m0 0h0m8 5h0m18-6h0m3 8h0m16-7h0m0 7h0m10-4h0m24 1h0m4 0h0m42-4h0m9 5h0m57 2h0m-306 10h0m3 1h0m66-6h0m3 1h0m15-3h0m55 4h0m0 4h0m26-7h0m6 5h0m53-3h0m12 5h0m12-6h0m4 2h0m3 4h0m16-2h0m24 3h0m-337 5h0m18 2h0m40 1h0m1-3h0m8 4h0m33-4h0m11 3h0m24 1h0m2 0h0m11-8h0m1 8h0m69 0h0m12 0h0m11-5h0m28 1h0m28 0h0m13 4h0m13-5h0m-320 7h0m29 4h0m14 3h0m14-4h0m13 1h0m25 3h0m6-7h0m6 4h0m39 1h0m6-4h0m41 0h0m3 0h0m4 1h0m4 1h0m4-3h0m21 0h0m2 1h0m20-2h0m5 2h0m-248 8h0m15 2h0m18 1h0m34 2h0m10-4h0m28 5h0m8 2h0m25-3h0m37 2h0m9 1h0m47-3h0m6 1h0m2-1h0m-204 6h0m13-1h0m16 3h0m4-1h0m6 5h0m12 0h0m12-6h0m21 8h0m7-5h0m17-2h0m11 4h0m23 3h0m3 0h0m1-9h0m12 9h0m19 1h0m9 0h0m35-8h0m143 3h0m-408 11h0m12-3h0m29 1h0m7 2h0m12-3h0m11 1h0m36 3h0m20-2h0m8-4h0m10 7h0m78-5h0m4 0h0m5 0h0m10 6h0m1-6h0m39 0h0m-265 9h0m20 7h0m11-5h0m7 1h0m4-2h0m13 4h0m47-4h0m2 2h0m7 3h0m26-3h0m7 4h0m24 0h0m11-5h0m13 0h0m11-1h0m-153 15h0m27 0h0m22-3h0m3-4h0m10 3h0m6-2h0m3 7h0m29-2h0m32 1h0m36-7h0m-192 16h0m13-6h0m5 6h0m24-2h0m3 3h0m6 1h0m5-3h0m4 2h0m12-3h0m5 0h0m5 2h0m2 0h0m16-6h0m22 2h0m7 7h0m23-9h0m113 1h0m78 4h0m-327 5h0m7 7h0m49-1h0m29 2h0m6-8h0m11 2h0m17 0h0m8-2h0m34-1h0m43 1h0m25-1h0m11 9h0m126 1h0m-408 4h0m7 1h0m19 4h0m2-6h0m32 0h0m37 0h0m18 3h0m60-3h0m31-2h0m11 8h0m-223 8h0m31 1h0m66-6h0m6 4h0m26-5h0m3 6h0m46-2h0m1 4h0m9-6h0m42 6h0m58 0h0m73-1h0m-378 4h0m69 5h0m4 0h0m1-5h0m3 7h0m3-2h0m60-2h0m13 2h0m104 1h0m-242 3h0m65 2h0m40 1h0m34-3h0m25 1h0m197-1h0m-334 14h0m17-2h0m10 3h0m7-4h0m28 0h0m114 4h0m-112 6h0m3 0h0m10 0h0m1-1h0m-81 13h0m0 5h0m8-7h0m11-1h0m61 2h0m287 5h0m-391 12h0m22-6h0m17-1h0m28 1h0m57 4h0m147-1h0m5-5h0m31-2h0m142 1h0m-423 15h0m28-2h0m10 1h0m6 4h0m290-7h0m-373 14h0m77-5h0m13 1h0m109 14h0m42-2h0m37 5h0m174-5h0m-441 16h0m93-5h0m25-1h0m30-4h0m208 9h0m29-6h0m1 2h0m-374 11h0m107 2h0m0-8h0m124 5h0m21-2h0m76 15h0m-25 4h0m29 3h0m-57 6h0m-208 18h0m131-1h0m207-4h0m12 2h0m-323 9h0m238-1h0m-96 6h0m132 0h0m-284 18h0m24-4h0m125-3h0m-92 9h0m67 0h0m47 2h0m-160 18h0m117-3h0m22 2h0m82-6h0m-37 7h0m67 3h0m-73 8h0m43 7h0m4 11h0m60-9h0m10 8h0m-188 9h0m-69 10h0m172-2h0m13 2h0m11 13h0m-92 17h0m73 11h0m48 0h0m-4 10h0m74-3h0m-123 6h0m34 7h0m62-3h0m-249 15h0m115 0h0m100-1h0m-104 10h0m-85 9h0m-3 10h0m30-3h0m176 2h0m-5 34h0m-141 24h0m101-2h0m-127 16h0m13-9h0m21 1h0m20 7h0m3 2h0m19-3h0m3 17h0" stroke="#e07a74" stroke-width="7.0" stroke-linecap="round" fill="none"/>
<path transform="scale(.1)" d="M1471 2190h0m-36 15h0m47-1h0m-76 17h0m257-4h0m16 7h0m-262 5h0m16 1h0m4 2h0m41 2h0m-59 6h0m23-1h0m0 1h0m28-2h0m-133 12h0m67 2h0m103 3h0m50-9h0m110 6h0m-288 3h0m11 9h0m43-5h0m58-4h0m16 9h0m0-4h0m7 3h0m123 1h0m-216 1h0m41 2h0m9 5h0m11-3h0m15 3h0m11-3h0m92 6h0m-260 10h0m31-8h0m77-2h0m12 2h0m7 0h0m0 2h0m15-2h0m5 8h0m2-6h0m86-2h0m-256 11h0m50 5h0m2 1h0m14-6h0m3 3h0m9 0h0m20-5h0m0 3h0m40-2h0m13 3h0m27 4h0m19-4h0m8 5h0m14-3h0m20 1h0m-215 10h0m7-2h0m51-3h0m8-1h0m9 3h0m0-4h0m9 1h0m21 6h0m7-5h0m50 4h0m4-4h0m16 4h0m74-2h0m-224 13h0m26-2h0m24-4h0m62 8h0m11-2h0m3-1h0m3 3h0m24-4h0m2-2h0m1-4h0m-163 16h0m12-3h0m7-3h0m5 2h0m2 7h0m24-2h0m4-1h0m19 0h0m22 4h0m11-2h0m92 0h0m-291 6h0m53 4h0m31-7h0m16 7h0m14 1h0m1-7h0m32 8h0m2-4h0m3-2h0m0-1h0m19 3h0m45 3h0m8-5h0m22 6h0m3-7h0m16 0h0m77 5h0m-284 12h0m14-2h0m34-6h0m14-1h0m7 6h0m13-6h0m10 6h0m3 1h0m9-7h0m3 1h0m13 1h0m4 7h0m1 0h0m12-1h0m36-4h0m21-2h0m18-3h0m117 2h0m9 3h0m-383 11h0m68-1h0m8-2h0m5 0h0m2 1h0m98 6h0m12-3h0m15-2h0m3 4h0m8-6h0m7 4h0m36-1h0m93-2h0m-321 14h0m18-4h0m3 2h0m4-3h0m20 6h0m3-8h0m11 8h0m7-6h0m50 0h0m23-2h0m3 8h0m17-2h0m10-2h0m60-4h0m1 4h0m87 2h0m-305 9h0m6-3h0m25 3h0m32 3h0m4-6h0m28 7h0m8-10h0m26 1h0m2 3h0m15-1h0m1 6h0m9-4h0m16-2h0m23 2h0m11-1h0m6 5h0m-213 6h0m39 3h0m5-2h0m7-6h0m14 5h0m1-4h0m15 1h0m19-1h0m7 9h0m21-2h0m3-6h0m1 2h0m12 3h0m8-3h0m21 4h0m114-5h0m-279 9h0m0 1h0m5-2h0m24 0h0m4 9h0m26-8h0m8 0h0m0 2h0m27-4h0m15 1h0m28 2h0m6 6h0m6-2h0m17-2h0m6-4h0m13 6h0m29-3h0m13-3h0m-260 11h0m1 3h0m20-2h0m48 4h0m7-1h0m6 3h0m29-2h0m36-3h0m37-3h0m9 8h0m30-5h0m44 4h0m-273 5h0m58-3h0m24 3h0m25-3h0m1 2h0m12 6h0m11-7h0m69 8h0m9 0h0m55-7h0m116 7h0m-401 2h0m69 0h0m12 7h0m56 1h0m13-3h0m16-4h0m12 0h0m0 3h0m1-3h0m3 0h0m10 5h0m25-6h0m12 4h0m11 0h0m6-1h0m5 5h0m18-6h0m135-1h0m-379 8h0m11 4h0m20 0h0m6 2h0m11-4h0m48 7h0m6-3h0m14 0h0m13-6h0m1 0h0m3 1h0m8 4h0m13 2h0m2 0h0m9 2h0m37-1h0m7-6h0m38 3h0m49 5h0m-314 1h0m0 5h0m43-6h0m37 1h0m64 0h0m11 3h0m55 5h0m1-4h0m3-5h0m0 7h0m9-5h0m4 8h0m2-4h0m33 3h0m132-2h0m-344 12h0m10-4h0m8-5h0m2 0h0m0 8h0m16-2h0m20 3h0m3-9h0m29 7h0m71-6h0m3 1h0m7 5h0m23-5h0m3-1h0m9-1h0m-222 19h0m37-5h0m23 1h0m0-3h0m11 2h0m11 0h0m9-3h0m10-1h0m3 5h0m45-1h0m7 0h0m15-1h0m21 5h0m0-5h0m23-2h0m-230 9h0m73 1h0m13 5h0m25-3h0m7 2h0m22-1h0m13 2h0m33-5h0m5 6h0m14-2h0m7 5h0m9-3h0m2-6h0m12 2h0m35 2h0m-244 5h0m10 2h0m10 4h0m59-4h0m3 7h0m65-6h0m2-1h0m2 2h0m51 2h0m34-3h0m-217 16h0m5-7h0m10 5h0m3 1h0m7-5h0m15 3h0m19 1h0m7-5h0m16 5h0m6-4h0m4 5h0m21-3h0m15 0h0m19 2h0m5-6h0m2 3h0m6-3h0m30 3h0m2-1h0m53 5h0m-256 7h0m54 1h0m13-1h0m27-4h0m4 9h0m44-9h0m10 0h0m34 0h0m0 1h0m1 0h0m22 3h0m-226 9h0m26 1h0m43-4h0m32 7h0m24 1h0m0-4h0m6-1h0m1-3h0m25 6h0m9-1h0m32 3h0m5-7h0m-196 14h0m40 4h0m13-1h0m6 1h0m5-7h0m1-2h0m11 9h0m1 0h0m7-1h0m6-2h0m10-3h0m17 0h0m7 2h0m2-1h0m19-4h0m5 7h0m37-6h0m10 5h0m4 1h0m50-1h0m13-1h0m62-3h0m-308 17h0m36-3h0m10-5h0m5 6h0m5-3h0m8 3h0m21-6h0m3 2h0m45-3h0m0 7h0m15-4h0m10 1h0m6 4h0m29-9h0m28 2h0m-216 16h0m20 1h0m9-7h0m9 3h0m2 2h0m1-6h0m16 7h0m40 1h0m12-1h0m6-5h0m16 0h0m9 0h0m9-1h0m10 5h0m5 0h0m3-6h0m1 7h0m3 1h0m2-7h0m2 3h0m3 5h0m9-2h0m32-6h0m122 5h0m-334 12h0m34-6h0m2-1h0m18 4h0m6 3h0m20-8h0m4 0h0m9 8h0m22-5h0m5-3h0m23 6h0m5-2h0m27 4h0m63-6h0m-254 10h0m10 3h0m33-4h0m2-1h0m5 0h0m5 0h0m20 5h0m6 4h0m6-1h0m3 0h0m42 0h0m2-9h0m21 2h0m7 3h0m13 1h0m17 1h0m4-4h0m12 6h0m-205 5h0m6-3h0m1 6h0m53-2h0m9 1h0m17-5h0m2 9h0m22-6h0m11 6h0m16-5h0m6 2h0m0-6h0m16 8h0m18-4h0m2 1h0m69-1h0m13 3h0m-291 2h0m35 4h0m4 3h0m29-4h0m23-3h0m7 9h0m15-1h0m8-6h0m1 1h0m27 1h0m5 5h0m1 0h0m5-4h0m7 1h0m25-4h0m1 7h0m-162 1h0m61 3h0m3-2h0m4-1h0m10 5h0m6 2h0m10-5h0m17 8h0m14-2h0m3-1h0m9-4h0m2-3h0m20 1h0m4 1h0m58 6h0m20 1h0m88-4h0m-305 14h0m4-6h0m5 3h0m33-1h0m0 4h0m18-1h0m2-2h0m6-5h0m5-1h0m34 7h0m28-6h0m10 3h0m18 0h0m-165 12h0m17-1h0m4-5h0m13 4h0m8 1h0m7 3h0m16-6h0m3 6h0m8-4h0m10 5h0m1-2h0m6-3h0m34 1h0m20-3h0m19 5h0m4-5h0m10 2h0m-141 16h0m11-3h0m10-2h0m17-5h0m3 3h0m4 4h0m7-6h0m4 7h0m13-6h0m2 2h0m9 1h0m33 2h0m25-2h0m13-3h0m1 2h0m10 5h0m14-6h0m-211 8h0m7 0h0m2 0h0m14 4h0m18-1h0m7 4h0m9-3h0m17 4h0m8 1h0m25-2h0m16-2h0m4 1h0m77-1h0m-210 5h0m10 2h0m49 0h0m37 5h0m11 0h0m51-5h0m-128 14h0m123 1h0m10-5h0m28 7h0m54-3h0m-210 8h0m50-1h0m51 0h0m13 1h0m-84 9h0m23 0h0m17-2h0m1 6h0m15 1h0m-46 1h0m12 7h0m74 2h0m3-7h0m1 1h0m19 4h0m50-5h0m-228 11h0m37 2h0m23 4h0m22-4h0m36-1h0m13-1h0m4-1h0m35-1h0m5 3h0" stroke="#c8a634" stroke-width="7.0" stroke-linecap="round" fill="none"/>
<path transform="scale(.1)" d="M1637 2085h0m7 28h0m21 0h0m-71 8h0m3 2h0m20-5h0m15 3h0m2 0h0m44-3h0m-101 12h0m54 0h0m-44 13h0m35-7h0m9 0h0m46 1h0m-129 18h0m14-6h0m7-1h0m27 5h0m11-7h0m42 0h0m-139 28h0m5-4h0m29 1h0m22-5h0m16 6h0m67-5h0m32 2h0m-113 7h0m4 0h0m43 8h0m49-7h0m-111 17h0m2-2h0m48-5h0m19 6h0m48-8h0m27 4h0m-128 12h0m9-4h0m1 8h0m8-1h0m39-7h0m45 1h0m-165 15h0m17-6h0m13 0h0m11 3h0m12 0h0m15 3h0m32 0h0m9-5h0m5 1h0m13 4h0m62-5h0m-137 10h0m0-2h0m67 2h0m30-2h0m15 2h0m9-1h0m3 2h0m-207 8h0m10 6h0m4 2h0m55-7h0m12-3h0m15 9h0m18-4h0m8-3h0m9 7h0m8-7h0m34 1h0m38 5h0m-204 4h0m27-1h0m46 1h0m5 7h0m16 0h0m9-4h0m17 0h0m21 0h0m2 5h0m66-8h0m-198 11h0m38-1h0m11 7h0m16-1h0m30-5h0m20 5h0m20-2h0m29 1h0m18-4h0m49 4h0m-231 11h0m87 0h0m18-5h0m34 5h0m-99 4h0m35 3h0m4 0h0m31 3h0m10 1h0m2-9h0m10 10h0m44-7h0m6 6h0m22 0h0m7-3h0m-183 8h0m7-2h0m4-1h0m35 4h0m18-3h0m21 5h0m19-5h0m28 2h0m8 4h0m-170 7h0m38-5h0m6 4h0m19 3h0m0 0h0m50-6h0m4 5h0m15-2h0m53 5h0m11-3h0m-276 10h0m163-3h0m26 6h0m20-5h0m3-1h0m4 7h0m56-4h0m-143 6h0m7 5h0m61-1h0m4-2h0m0 4h0m14 1h0m23-8h0m7 3h0m-44 11h0m3 4h0m28-8h0m-62 12h0m58 1h0m48-3h0m-162 15h0m16-5h0m4-1h0m28 4h0m56 1h0m7 1h0m6 1h0m20-2h0m6 5h0m31-8h0m-102 13h0m1 5h0m32-5h0m31-4h0m-116 12h0m122 5h0m8-7h0m-230 15h0m120 2h0m5-6h0m15 1h0m39-1h0m4 5h0m8-1h0m63 1h0m33-3h0m-360 12h0m148 2h0m36-2h0m26-6h0m6 10h0m23-1h0m4-1h0m69 2h0m1-3h0m-143 8h0m23-1h0m50 0h0m4-3h0m5 5h0m12 4h0m1-10h0m9 9h0m19-9h0m2 4h0m36-1h0m-147 15h0m18 2h0m38-10h0m5 4h0m12-2h0m78 8h0m-346 6h0m98-3h0m153 6h0m39 0h0m-137 9h0m0-7h0m85 6h0m41-7h0m7 1h0m7 8h0m0-9h0m25 0h0m-202 13h0m112 4h0m26 2h0m6-4h0m5-2h0m48-2h0m23 8h0m8-8h0m-341 12h0m27 5h0m155-4h0m29-2h0m24 2h0m17 4h0m16-6h0m10 4h0m1 3h0m10 1h0m8-6h0m3-3h0m9 1h0m3-1h0m-61 17h0m8-2h0m19 2h0m65-5h0m-122 8h0m4 2h0m2 2h0m32-1h0m22 0h0m-47 8h0m18 2h0m12-1h0m-89 11h0m9 3h0m81 3h0m11-9h0m16 0h0m19 8h0m59-2h0m-342 6h0m6 7h0m181-7h0m44 1h0m7 4h0m13-4h0m16 1h0m7-2h0m-218 12h0m77 0h0m75 5h0m7-4h0m12 2h0m20-3h0m7-2h0m5-1h0m19-1h0m-293 12h0m222 4h0m1 0h0m22 0h0m10 1h0m40-3h0m1 2h0m-51 10h0m3-2h0m5 5h0m17-7h0m6 4h0m4-6h0m10 7h0m10-1h0m-295 5h0m64 1h0m99 2h0m99 1h0m10 0h0m9-1h0m-251 14h0m170-2h0m22-5h0m17 6h0m17 2h0m7-3h0m3 1h0m66 2h0m-324 9h0m10-5h0m206 5h0m30-5h0m1-2h0m5 7h0m1 1h0m37-7h0m-86 13h0m22-4h0m4 1h0m6-1h0m20 5h0m23 1h0m11-1h0m-50 4h0m14 6h0m17-4h0m23 4h0m-286 10h0m237 0h0m1 0h0m10-5h0m42 2h0m-92 11h0m19-2h0m11-3h0m6 2h0m11 6h0m14-3h0m28-2h0m-160 9h0m7-2h0m29 5h0m57 0h0m1 0h0m-235 13h0m255-1h0m5 0h0m33 1h0m29-2h0m-194 5h0m79 1h0m1-2h0m52 1h0m71 6h0m-258 8h0m94-3h0m64 1h0m3 1h0m10 3h0m7-3h0m6-3h0m-58 10h0m9 2h0m7-3h0m39 10h0m16-9h0m49 7h0m8-7h0m8 7h0m-99 12h0m3-8h0m4 0h0m6 0h0m1 3h0m34 4h0m25 1h0m0-4h0m-104 12h0m36-2h0m2-2h0m3-2h0m43 0h0m-58 16h0m2 0h0m24-1h0m25 2h0m19-3h0m1 1h0m24-2h0m2-2h0m-129 8h0m30 2h0m11 5h0m28-4h0m6-4h0m4 4h0m15-1h0m-105 15h0m11 1h0m37-8h0m3 6h0m40 0h0m16 0h0m13-1h0m-116 7h0m21 6h0m66-7h0m34 7h0m-122 3h0m62 0h0m22 5h0m-110 5h0m29 3h0m26 1h0m23 2h0m38-6h0m3-1h0m-140 16h0m14-3h0m18 2h0m24 1h0m19-1h0m11-3h0m-16 9h0m11-2h0m4 1h0m106 6h0m-131 10h0m33 0h0m10-3h0m82 5h0m-124 10h0m1 0h0m8 0h0m-15 10h0m13-2h0m4 1h0m-45 9h0m160 1h0m-2 2h0m17 7h0" stroke="#82bd38" stroke-width="7.0" stroke-linecap="round" fill="none"/>
<path transform="scale(.1)" d="M1076 2093h0m6 1h0m7 0h0m9-3h0m3 2h0m17-1h0m0 0h0m45 1h0m-127 12h0m45-9h0m22 3h0m21 0h0m4-2h0m8 3h0m2 3h0m4-4h0m1 4h0m21-5h0m22 1h0m-152 8h0m12 1h0m58 0h0m27-3h0m20 4h0m49 3h0m-131 7h0m11 4h0m35 0h0m14-4h0m37 3h0m-148 4h0m16 7h0m20 0h0m15-7h0m31 6h0m2-5h0m23 0h0m18 2h0m31-1h0m-101 12h0m53 4h0m0-2h0m9 1h0m18 0h0m10-8h0m47 8h0m-216 6h0m1 6h0m7-3h0m13-5h0m5-2h0m31 3h0m3-3h0m2 0h0m37 8h0m6-1h0m9-2h0m32-1h0m5 3h0m4-6h0m2 0h0m2 2h0m14-2h0m59 4h0m-220 12h0m14-6h0m21 6h0m12-6h0m33 7h0m2 0h0m43-1h0m-157 12h0m75-2h0m37 1h0m41-1h0m7 3h0m19-9h0m48 1h0m49 4h0m-293 4h0m5 8h0m8-5h0m47 2h0m8 4h0m37-4h0m34-4h0m4 5h0m16 0h0m6-2h0m9 1h0m2 3h0m3 0h0m16-8h0m10 9h0m2 0h0m7-3h0m6-3h0m15 2h0m14 2h0m-250 4h0m40 6h0m21 1h0m47-5h0m34 3h0m33 0h0m48-2h0m12-3h0m41 4h0m22-2h0m-280 9h0m49 0h0m10 1h0m43-2h0m24 4h0m23 4h0m3-7h0m5 0h0m22 3h0m39 1h0m4 3h0m2-7h0m-221 18h0m86-2h0m5-1h0m82-4h0m11 2h0m21 4h0m15-7h0m25-1h0m1-1h0m2 2h0m2 1h0m-251 16h0m1-8h0m72 0h0m34 8h0m43-3h0m3-1h0m11 4h0m2-1h0m9-6h0m37 8h0m10-3h0m5-3h0m23 1h0m4 3h0m14-2h0m-294 6h0m3 8h0m42-1h0m9-2h0m5-6h0m29 8h0m23 0h0m13-9h0m17 1h0m19 2h0m6 5h0m4-1h0m15-5h0m44 6h0m2-1h0m3-4h0m6 2h0m-258 14h0m5 0h0m11-2h0m8-3h0m6 2h0m26-5h0m14 0h0m4 7h0m27 1h0m3-8h0m5 8h0m36-6h0m30 3h0m86 0h0m-208 13h0m18-4h0m54-5h0m3 7h0m7-4h0m20 3h0m19 3h0m8 0h0m5 0h0m5-5h0m53-4h0m3 5h0m26 4h0m5-7h0m29 5h0m-291 4h0m7 7h0m31-3h0m68-1h0m11 4h0m38-1h0m29 2h0m27-4h0m0 3h0m10-2h0m3-1h0m1 1h0m25 3h0m17-5h0m-279 16h0m3 0h0m7 0h0m19-1h0m15-8h0m1 4h0m44 5h0m5-8h0m9 0h0m39 5h0m10 1h0m0 0h0m28 0h0m31 0h0m8-6h0m11 5h0m4-3h0m7-2h0m14 6h0m28-7h0m27 4h0m-254 6h0m0 4h0m44-3h0m23 6h0m44-4h0m17 5h0m9-2h0m14 1h0m28-3h0m31 0h0m19 1h0m1-5h0m-304 10h0m33-1h0m2 6h0m18 0h0m53-3h0m38 0h0m8 6h0m1-7h0m17 2h0m12 2h0m4 0h0m4 4h0m25-7h0m10 6h0m16-2h0m8-4h0m9 6h0m5-6h0m24-1h0m27 1h0m-240 12h0m77-1h0m1-3h0m4 3h0m30 6h0m10-6h0m8-1h0m11 6h0m11-5h0m25 1h0m5 3h0m3 1h0m10-4h0m5 3h0m35-4h0m0 5h0m-177 8h0m54-4h0m16-1h0m5 8h0m30-3h0m22-2h0m22 3h0m13-5h0m3 6h0m42-6h0m-208 8h0m10 2h0m29 3h0m4 2h0m9-5h0m9 1h0m2 3h0m5-5h0m7 4h0m84 1h0m12 1h0m25-4h0m-135 6h0m26 6h0m23-2h0m10 0h0m4-2h0m18 6h0m6-7h0m16 8h0m40-9h0m-166 19h0m10-1h0m10-2h0m26-2h0m25 0h0m4 5h0m11-4h0m14-3h0m5 0h0m-40 9h0m48 8h0m1 0h0m54-3h0m-157 6h0m19 6h0m1-3h0m12-1h0m12 0h0m32-1h0m28-3h0m11 6h0m-74 9h0m33 5h0m64-8h0m-112 16h0m53-7h0m-2 15h0m5-1h0m-20 9h0m2-1h0m-30 9h0m9-2h0m18 3h0m18 3h0m22 0h0m36-3h0m-55 14h0m17-6h0m2 10h0m2 0h0m29 0h0m-56 12h0m35 1h0m16 4h0m-48 2h0m12 4h0m13 3h0m42 7h0" stroke="#52ae8c" stroke-width="7.0" stroke-linecap="round" fill="none"/>
<path transform="scale(.1)" d="M1724 2351h0m9-4h0m17-1h0m-13 28h0m6-8h0m12 8h0m39 0h0m-31 2h0m21 3h0m16 6h0m-66 5h0m13-3h0m23-2h0m28 6h0m-38 8h0m21 0h0m-13 19h0m1 6h0m8-2h0m12-5h0m23 3h0m14-4h0m-76 12h0m11 2h0m12-2h0m24-3h0m5 3h0m27-1h0m-65 16h0m18-1h0m26-1h0m17-2h0m-4 14h0m17-2h0m-92 10h0m62-5h0m4 7h0m4 2h0m4-3h0m6-7h0m-68 16h0m44-4h0m15-1h0m-77 11h0m38-1h0m4 3h0m18-1h0m20 6h0m8 0h0m-71 8h0m33-2h0m16 4h0m-7 7h0m21 3h0m10-7h0m2 7h0m-3 9h0m-80 8h0m18 2h0m0-3h0m53-4h0m-48 10h0m28 3h0m22 2h0m8 11h0m-48 11h0m37-5h0m-44 7h0m37 15h0m-69 12h0m31 18h0m-21 5h0" stroke="#52ace4" stroke-width="7.0" stroke-linecap="round" fill="none"/>
<path transform="scale(.1)" d="M1757 1917h0m-12 34h0m21 5h0m27 8h0m0-9h0m-29 20h0m19-2h0m-12 3h0m18 8h0m-22 11h0m3 0h0m0-2h0m4-3h0m6 5h0m1-6h0m0-1h0m0-2h0m-23 15h0m17 1h0m1-3h0m4-2h0m21 1h0m-45 15h0m4-4h0m3 1h0m0-1h0m4 0h0m1-4h0m12 6h0m0 3h0m8-6h0m9-3h0m-10 17h0m1-3h0m-52 14h0m35-3h0m7 1h0m22-1h0m-73 45h0m12-6h0m-5 42h0" stroke="#7466c8" stroke-width="7.0" stroke-linecap="round" fill="none"/>
<path transform="scale(.1)" d="M1781 2694h0m1 11h0m-94 57h0m8 49h0m37 49h0m7-3h0m-17 10h0m14 32h0m5 7h0m-5 17h0m6 12h0m2 4h0m-12 13h0m11-5h0" stroke="#d266c6" stroke-width="7.0" stroke-linecap="round" fill="none"/>
<path transform="scale(.1)" d="M1390 1789h0m-17 14h0m24 16h0m-16 16h0m24-7h0m17 2h0m5 2h0m-53 17h0m1 0h0m2 4h0m59-4h0m13 2h0m32 1h0m-135 11h0m52 0h0m3-5h0m21 2h0m70-2h0m-179 11h0m17 0h0m38-1h0m8-2h0m1 8h0m18-7h0m15 2h0m1 6h0m46-9h0m9-1h0m32 1h0m-136 18h0m10-1h0m11-2h0m38 1h0m14-5h0m39 2h0m-168 15h0m38-5h0m13 6h0m7-6h0m0 5h0m2-6h0m6-2h0m7 1h0m14 6h0m16-2h0m8-5h0m12 6h0m12-5h0m65 6h0m-186 3h0m72 4h0m19-1h0m7-1h0m2-3h0m25 10h0m15-2h0m1-3h0m9-2h0m16 0h0m-164 13h0m17-2h0m12 4h0m9-4h0m4-1h0m13-3h0m37 6h0m7-3h0m28 2h0m57-1h0m44 0h0m-253 6h0m60 4h0m4 5h0m22-2h0m23 1h0m15 1h0m17-2h0m9-4h0m4 3h0m36-1h0m14 2h0m4 0h0m58 2h0m-264 6h0m39-4h0m6 5h0m10-3h0m21 4h0m36-6h0m24 8h0m10-7h0m3 3h0m33 0h0m54 5h0m-238 4h0m7 4h0m13-2h0m1-3h0m56-2h0m2 5h0m9 0h0m39-5h0m6 0h0m20 6h0m18-1h0m3 3h0m21-8h0m12 7h0m3 0h0m11-2h0m9 3h0m54-6h0m-266 7h0m5 8h0m8-6h0m17-1h0m10 4h0m2 4h0m15-7h0m10 0h0m11 7h0m12-6h0m5 2h0m15-2h0m6 6h0m20-2h0m31-4h0m24 1h0m14-4h0m8 8h0m26-2h0m23-5h0m-242 14h0m6 4h0m12-8h0m3 5h0m7 1h0m3-5h0m12 8h0m37-4h0m12-5h0m7 6h0m26 1h0m11-4h0m3 1h0m2-4h0m20 5h0m22 0h0m23-1h0m6 1h0m16 1h0m11 1h0m4 1h0m-252 7h0m7 3h0m32-9h0m18 5h0m21-4h0m5 8h0m13-1h0m1 0h0m35 1h0m1-5h0m15 5h0m81-1h0m1-6h0m-292 8h0m31 0h0m24 9h0m32 1h0m45 0h0m5-8h0m4 7h0m12-8h0m4 0h0m24 1h0m15 2h0m10-1h0m22 3h0m1-2h0m4 4h0m27-3h0m7 4h0m58-6h0m-327 11h0m13 5h0m21-2h0m117-6h0m3 4h0m38-2h0m12 0h0m13 1h0m28 6h0m36-8h0m17 5h0m36-3h0m-289 12h0m23 1h0m43-6h0m16 6h0m16-3h0m8-2h0m26 6h0m8 0h0m17-3h0m4 4h0m7-7h0m10 1h0m11-1h0m9 6h0m20 2h0m18-9h0m6 1h0m7 0h0m7 7h0m-277 10h0m41-6h0m27 1h0m23 1h0m39-4h0m11 5h0m2-2h0m11 2h0m18 4h0m8-9h0m16 7h0m1-2h0m6 4h0m6-9h0m39 0h0m5 2h0m9 5h0m-245 4h0m1 3h0m15 1h0m3-1h0m12-4h0m13 7h0m17-7h0m7 9h0m57-2h0m19 0h0m3-3h0m9 0h0m26-2h0m1 6h0m21-5h0m30 2h0m4-4h0m15 5h0m-247 10h0m2 1h0m17-8h0m13 2h0m5 1h0m0 7h0m5-2h0m29-2h0m4 0h0m4-1h0m10 2h0m30 3h0m24 0h0m61-6h0m16 5h0m22-5h0m75-3h0m-327 10h0m10 0h0m70 1h0m82 2h0m3-2h0m33 7h0m16-7h0m1 0h0m51-2h0m50 6h0m-212 7h0m2 1h0m16-3h0m12 4h0m11 3h0m63 1h0m11-5h0m17 4h0m18-3h0m27 1h0m3-1h0m3 1h0m-337 9h0m29 2h0m34 3h0m27-2h0m79-7h0m10 3h0m10 2h0m12 3h0m13-6h0m36 7h0m11-4h0m16 3h0m1-2h0m2-6h0m1-1h0m10 7h0m0-5h0m27 7h0m49 1h0m4-6h0m-344 12h0m34-2h0m2 5h0m17-1h0m62-6h0m1 5h0m8 2h0m14-1h0m5-3h0m8 1h0m2-3h0m63 6h0m11-3h0m7-6h0m3 7h0m5-7h0m7 8h0m12-5h0m21 5h0m7 0h0m-256 5h0m9-3h0m2 2h0m1 3h0m3 1h0m13-4h0m2 3h0m16 2h0m0-7h0m4 2h0m34 6h0m40 1h0m7-7h0m38 7h0m4-8h0m27 8h0m21-1h0m5-8h0m10 2h0m1 3h0m9-5h0m5 0h0m2 2h0m11-1h0m1 2h0m9-1h0m3 1h0m6-1h0m14-1h0m1 1h0m8-1h0m-340 15h0m28 4h0m5-6h0m28 1h0m3-2h0m11-3h0m12 9h0m22 1h0m27-7h0m19 3h0m20 3h0m11-3h0m14-4h0m30 5h0m1 2h0m10-1h0m7 0h0m49-2h0m47-2h0m5 5h0m19-5h0m-345 11h0m8 0h0m10-3h0m23 1h0m1 2h0m21-1h0m27-2h0m10 4h0m34-1h0m2 0h0m2 1h0m41-4h0m9 4h0m7-3h0m4 0h0m5 0h0m1 0h0m8 7h0m10-5h0m3-1h0m25 4h0m24 2h0m59-6h0m-349 8h0m5 2h0m12 2h0m0-5h0m13 3h0m16 4h0m2-7h0m8 1h0m26 0h0m6 6h0m13-5h0m4 7h0m4-4h0m4-4h0m5 7h0m9-8h0m29 0h0m4 1h0m33 6h0m18 0h0m8-7h0m9 8h0m57 1h0m19-4h0m10-5h0m15 8h0m-322 6h0m19-1h0m6-1h0m9 4h0m11-2h0m0 3h0m24-7h0m8 6h0m83 1h0m41-2h0m0-4h0m11 5h0m7-4h0m20-1h0m38 2h0m10 5h0m18-8h0m52 1h0m-394 9h0m3 6h0m11-1h0m13-2h0m30 3h0m3-6h0m27 7h0m25-7h0m8 0h0m15 0h0m11 0h0m3 9h0m0-5h0m5-3h0m28-1h0m1 0h0m7 1h0m18 1h0m2 1h0m4-2h0m6 7h0m4 0h0m4-3h0m1-2h0m19 5h0m24-8h0m14 7h0m4-3h0m23-4h0m7 7h0m1-7h0m9 5h0m29 3h0m5-8h0m-363 12h0m22 4h0m24 0h0m26 0h0m2-4h0m41 2h0m1 2h0m5-2h0m26 0h0m22-4h0m15 4h0m49 1h0m7-5h0m0 2h0m42 4h0m24-2h0m6 5h0m10-7h0m5 6h0m-317 8h0m12 1h0m17-4h0m14 0h0m27 5h0m7-9h0m12 6h0m4-6h0m2 6h0m10-1h0m29-2h0m19 7h0m87-9h0m4 7h0m23 2h0m4-7h0m58-2h0m0 4h0m-335 12h0m130-2h0m0 1h0m2-5h0m14 8h0m5-9h0m12 9h0m3-7h0m41 3h0m10 5h0m6-9h0m8 7h0m23 1h0m3 1h0m5-2h0m79-7h0m-265 18h0m12 0h0m1-5h0m36-2h0m28 3h0m19 5h0m24-5h0m5-2h0m2 0h0m12-3h0m1 5h0m3 2h0m18-1h0m22 1h0m2-5h0m35 4h0m9 0h0m-256 10h0m22 1h0m16 2h0m3-6h0m1 3h0m3 0h0m3 1h0m0-1h0m4 1h0m13 0h0m22-1h0m3 1h0m24-1h0m12-3h0m15-2h0m17 9h0m1-4h0m8-1h0m31-2h0m33 4h0m58-5h0m26 4h0m17 2h0m-345 5h0m33 3h0m8 3h0m11-2h0m12-3h0m37 2h0m4-4h0m93 6h0m5-6h0m7 3h0m1 0h0m0-3h0m3 0h0m19 5h0m7 0h0m-251 4h0m31 1h0m6 6h0m11 1h0m9-1h0m22-6h0m0 7h0m8-2h0m9 0h0m26 1h0m4-4h0m31 6h0m12-9h0m10 3h0m1 2h0m5 2h0m1-3h0m17 5h0m24-4h0m11-6h0m28 2h0m66 0h0m-360 17h0m19-8h0m55 5h0m20 3h0m20-3h0m40-1h0m20 2h0m15-3h0m14-4h0m32 4h0m-194 15h0m37-7h0m3-2h0m15 2h0m1 3h0m19-4h0m35 0h0m10 1h0m36-1h0m21 5h0m39-2h0m13-1h0m26 4h0m-298 10h0m23-4h0m46 6h0m12-3h0m2 0h0m10 4h0m5-8h0m19 1h0m2 0h0m34-3h0m33 2h0m2 3h0m1-3h0m14-2h0m151 6h0m-363 11h0m42-5h0m22 5h0m7 0h0m9 1h0m5 1h0m5-2h0m43-3h0m3 1h0m8-4h0m17 7h0m22-1h0m16-3h0m60-2h0m80 4h0m61-2h0m-368 12h0m4-1h0m7 2h0m4 1h0m1-5h0m9 4h0m16-5h0m23 6h0m14-2h0m3-1h0m11 2h0m11-5h0m10 6h0m17 1h0m19-5h0m13-2h0m17 5h0m3 2h0m43 0h0m14-4h0m36 1h0m-303 5h0m73 9h0m5-1h0m0-1h0m35-2h0m49 0h0m31 2h0m43-6h0m85-2h0m-311 11h0m53 5h0m23-4h0m17 2h0m18 4h0m8-2h0m11-5h0m5 4h0m31-2h0m7 5h0m15-1h0m167-2h0m-361 9h0m25 4h0m29-5h0m40 4h0m3-1h0m26 1h0m46-6h0m15 8h0m17-8h0m61 9h0m-189 6h0m47-2h0m8 2h0m2-6h0m50 4h0m56-4h0m110 3h0m-355 16h0m49-5h0m26 2h0m30-1h0m12 5h0m76-6h0m76-2h0m-279 14h0m27 1h0m41-6h0m34 1h0m1 3h0m-60 13h0m26 0h0m4-6h0m18 3h0m4 2h0m1-2h0m13-3h0m27 8h0m257-8h0m-377 11h0m22 0h0m13 2h0m35 3h0m4-2h0m162 3h0m-238 2h0m9 5h0m31-1h0m3 1h0m14 0h0m28 0h0m-47 11h0m8-4h0m15 0h0m20 6h0m17 0h0m168-4h0m64-1h0m-297 7h0m5 1h0m12-1h0m5 6h0m30 2h0m370 0h0m-447 5h0m32-4h0m5 7h0m11 0h0m11-3h0m2-3h0m141 2h0m75-2h0m-168 12h0m5-1h0m21 6h0m-68 3h0m127 5h0m109-1h0m15 14h0m39-4h0m21 4h0m21 3h0m-174 11h0m-84 9h0m72 2h0m1 0h0m77 5h0m96-3h0m-161 13h0m115-1h0m-84 10h0m138-2h0m-46 17h0m-146 23h0m225 3h0m-114 7h0m89 4h0m-193 15h0m-65 8h0m3 2h0m37 4h0m208-2h0m-226 4h0m20 10h0m92 6h0m1-5h0m111 1h0m41 7h0m-90 5h0m22 2h0m-206 5h0m144-1h0m42 0h0m-129 17h0m4-6h0m77-2h0m125 13h0m-287 15h0m64-4h0m-12 7h0m37 8h0m20 1h0m131 8h0m-202 4h0m79 6h0m-64 4h0m176 0h0m51 3h0m11 22h0m-244 12h0m124-6h0m59 2h0m-115 11h0m124-1h0m10-4h0m-121 16h0m34-2h0m82 10h0m-86 13h0" stroke="#e07a74" stroke-width="7.0" stroke-linecap="round" fill="none"/>
<path transform="scale(.1)" d="M1633 2162h0m-17 34h0m3 1h0m-197 17h0m66-6h0m1 5h0m158-5h0m-218 16h0m4 10h0m66-7h0m10 5h0m93-2h0m-188 12h0m17-4h0m21 5h0m20 1h0m7-8h0m12 8h0m125-2h0m-189 7h0m11 5h0m26-8h0m35 9h0m29-9h0m-126 16h0m21-4h0m39-2h0m7 6h0m6-5h0m6 6h0m4-5h0m11 0h0m4 2h0m14 3h0m27-7h0m-219 16h0m99 1h0m6-6h0m8 0h0m32 5h0m2-7h0m5 9h0m15-7h0m2 1h0m9 3h0m1 0h0m82-3h0m90 2h0m-314 10h0m29-1h0m3 4h0m0-5h0m52 3h0m57-4h0m118 7h0m7 0h0m-250 7h0m11 2h0m4-1h0m25 1h0m3-3h0m23 0h0m64 1h0m12 3h0m-122 8h0m14 3h0m9-4h0m69 0h0m9-2h0m10 3h0m22-3h0m6 5h0m6-2h0m35-4h0m27-2h0m-283 19h0m25-8h0m39 3h0m5 3h0m3 0h0m19-4h0m8-1h0m14 2h0m11 5h0m5-1h0m5-5h0m29-2h0m36 3h0m22-1h0m3-2h0m-166 8h0m25 4h0m37-1h0m35 5h0m4-6h0m2 3h0m1 2h0m12-3h0m3 1h0m20-1h0m80 1h0m2 3h0m-261 6h0m2-1h0m3-1h0m13 7h0m32-1h0m8-1h0m3-2h0m15 1h0m39-4h0m0 4h0m6-5h0m9 0h0m14 6h0m42 0h0m-240 10h0m87-2h0m1 0h0m3 2h0m20 0h0m16 2h0m11-5h0m7-4h0m0 8h0m8-5h0m8-3h0m1 8h0m22-6h0m0 5h0m6-4h0m5-2h0m18 6h0m7 2h0m85-1h0m-278 3h0m78 1h0m10 5h0m28-5h0m1 4h0m3-4h0m18 3h0m20-4h0m4 2h0m4-1h0m4 2h0m21 2h0m14-2h0m8-4h0m40 0h0m113 3h0m-338 12h0m15 1h0m18-2h0m12 1h0m35-2h0m14-3h0m8 3h0m5-2h0m34 8h0m5-9h0m2 4h0m32-2h0m-189 17h0m33-6h0m32 1h0m2-1h0m16 0h0m6 6h0m30-2h0m11-6h0m18 2h0m60-1h0m2 4h0m33-4h0m111 5h0m-359 11h0m50-6h0m6 8h0m6-5h0m16-1h0m16 2h0m8-2h0m36-2h0m18-1h0m22 1h0m162 4h0m-375 12h0m69-7h0m6 4h0m61-5h0m21 9h0m1-3h0m2 4h0m11-4h0m7 2h0m78-7h0m25 6h0m36 0h0m15-6h0m53 8h0m7-2h0m-362 12h0m23-2h0m35 0h0m3 1h0m9-2h0m4-4h0m3-1h0m70 9h0m0-7h0m22 1h0m39-2h0m160 6h0m-421 3h0m69 2h0m12 4h0m12 1h0m33-5h0m8 1h0m14 5h0m9-7h0m26 5h0m51-6h0m18 3h0m7 4h0m164 0h0m-281 7h0m0-1h0m7 3h0m8 2h0m20-2h0m9-5h0m10 5h0m25 1h0m29-3h0m9-3h0m45 5h0m91-2h0m-336 6h0m2 8h0m7-1h0m0 2h0m52-2h0m31-2h0m2-2h0m25-1h0m16 5h0m4-4h0m19-1h0m0 6h0m21 0h0m7 0h0m47-5h0m19 3h0m-268 6h0m43 5h0m35-4h0m19 2h0m2-3h0m10 5h0m1-8h0m7 2h0m0 5h0m4 0h0m5 1h0m10-2h0m29 3h0m3-6h0m13 6h0m21-5h0m11 5h0m2-6h0m14 1h0m4-3h0m-258 16h0m42 2h0m27-9h0m41 5h0m25-4h0m5 2h0m9 2h0m25 0h0m9-4h0m19 9h0m11-2h0m11-2h0m2-5h0m10-1h0m13 6h0m2-2h0m11-3h0m59 8h0m-283 6h0m2-3h0m6 1h0m3-2h0m12 8h0m9 1h0m16-7h0m29-1h0m42 3h0m20-5h0m7 6h0m5 1h0m5-2h0m3 5h0m39-6h0m-166 16h0m22-9h0m4 6h0m7-3h0m24-1h0m3 2h0m10-1h0m20-1h0m7 3h0m0-1h0m1-5h0m8 2h0m17 2h0m54 1h0m1 0h0m59 5h0m110-8h0m-331 12h0m9 2h0m9 3h0m31-5h0m21-1h0m41-2h0m14 7h0m15-2h0m14 0h0m6 0h0m19 1h0m-218 5h0m38 7h0m39-6h0m29 1h0m31 0h0m30-1h0m6 3h0m23-2h0m6 1h0m5 3h0m-195 9h0m7 0h0m24 2h0m17-2h0m3 2h0m17-5h0m13 2h0m8-2h0m2 3h0m29 0h0m5-3h0m17-2h0m5 0h0m35 0h0m14 2h0m-200 11h0m18 2h0m24-4h0m0 2h0m6-1h0m1-2h0m14 5h0m12-5h0m25 1h0m11 0h0m13 6h0m13-4h0m38-5h0m13 2h0m5 0h0m9-2h0m112 8h0m-319 7h0m46-5h0m28 1h0m12 6h0m7-4h0m4 6h0m26 0h0m12-1h0m2 1h0m3-3h0m11 2h0m14-6h0m6-1h0m80 6h0m-269 3h0m19 10h0m4-3h0m62-1h0m50 0h0m8-2h0m9 0h0m1 1h0m27-1h0m17 0h0m2 4h0m1-8h0m90 9h0m44-1h0m-287 4h0m9 5h0m6-7h0m23 6h0m15 1h0m18-1h0m7 0h0m1 1h0m6-6h0m47 0h0m6 0h0m21 0h0m17 6h0m12 1h0m16 1h0m21-7h0m12-1h0m5 0h0m-264 12h0m81 3h0m9-3h0m37 4h0m17-4h0m16 6h0m65-1h0m2-1h0m23-2h0m-199 5h0m7 9h0m7-9h0m7 0h0m29 2h0m21 3h0m42-3h0m5-1h0m14 9h0m21-2h0m100-2h0m35-5h0m-313 10h0m37 3h0m3 4h0m4-6h0m19-1h0m17 4h0m2 3h0m4-3h0m7 1h0m30-3h0m37 1h0m8 4h0m21-3h0m-205 11h0m72 0h0m0-5h0m2 3h0m19-1h0m5 3h0m39-5h0m43 2h0m45 5h0m-201 12h0m18-8h0m23 4h0m8-4h0m4 7h0m6-6h0m47 1h0m7-4h0m42 0h0m58 3h0m-237 12h0m4-4h0m17 3h0m3-4h0m1 5h0m24 3h0m78-3h0m30-5h0m7 0h0m38 4h0m25-2h0m63-1h0m4 8h0m-254 2h0m11 5h0m12 3h0m1 1h0m7-3h0m5-6h0m41 3h0m12-2h0m60-2h0m7 4h0m16-1h0m-137 11h0m2-4h0m2 7h0m19-2h0m25-5h0m4 7h0m15-4h0m22 3h0m47 1h0m12-6h0m10 3h0m33 5h0m44 1h0m-314 4h0m2 0h0m19-1h0m8-2h0m44 3h0m68 3h0m14 2h0m11-6h0m17 4h0m4-4h0m4-2h0m21 5h0m121-5h0m-323 11h0m5 3h0m47 5h0m25-3h0m1 3h0m47-1h0m1 0h0m16 0h0m31 0h0m-133 5h0m9-2h0m29 1h0m12 3h0m2-1h0m19 3h0m11 0h0m34-8h0m-102 15h0m8-2h0m15 6h0m5-1h0m11-3h0m3 2h0m37-6h0m18 1h0m-129 10h0m92-1h0m2 7h0m67 2h0m9-1h0m20-8h0m-137 11h0m20 7h0m99-8h0m-115 13h0m3 0h0m76 4h0m10 2h0m5-4h0m-99 6h0m-4 14h0m72 4h0m30-9h0m-73 16h0" stroke="#c8a634" stroke-width="7.0" stroke-linecap="round" fill="none"/>
<path transform="scale(.1)" d="M1602 2098h0m1 5h0m24-2h0m19 3h0m-84 13h0m38 5h0m69 2h0m-95 9h0m41-7h0m15 7h0m0-4h0m-80 8h0m12 4h0m33 1h0m38 2h0m36-2h0m8 1h0m-154 4h0m37 3h0m63 3h0m3-5h0m4 4h0m3 2h0m69-2h0m-160 3h0m13 8h0m28-2h0m25 3h0m4-3h0m9 2h0m-59 8h0m26 3h0m40-7h0m6 3h0m-83 12h0m35 2h0m5-3h0m6 0h0m8 3h0m17 0h0m9 0h0m1-3h0m16 3h0m10-6h0m-142 12h0m13 3h0m40-1h0m14-4h0m33-1h0m2-2h0m9 7h0m1-3h0m3-2h0m1 2h0m10 3h0m15-2h0m13-4h0m21 4h0m-163 11h0m172-1h0m-131 13h0m16-5h0m56 7h0m-34 5h0m26 5h0m8-9h0m14 3h0m16 2h0m21-3h0m12 3h0m-224 9h0m47-5h0m10 1h0m7 5h0m4 4h0m31-8h0m3 6h0m29 2h0m-67 7h0m16 1h0m24-4h0m48 3h0m6 2h0m5-4h0m10-1h0m3 2h0m-162 5h0m23 1h0m22 4h0m11 1h0m9-3h0m7 3h0m21-5h0m13 6h0m0-2h0m6 3h0m8-5h0m15 0h0m1 2h0m-164 6h0m24 1h0m7 7h0m39-8h0m10 7h0m2 0h0m19-2h0m2-7h0m8 6h0m17-2h0m3-4h0m0 9h0m5-2h0m19-5h0m22 3h0m-155 6h0m8 6h0m106 1h0m9 1h0m27-7h0m9 7h0m-84 3h0m3 5h0m6-3h0m1-1h0m78 6h0m8-2h0m3-3h0m12 0h0m10 3h0m-193 9h0m53 2h0m2 0h0m8-1h0m32 2h0m1 1h0m8-8h0m40 4h0m18-6h0m41 10h0m-128 2h0m14 3h0m29 1h0m7 0h0m-33 9h0m41 0h0m24-3h0m-120 17h0m8 1h0m22-9h0m25 1h0m23 6h0m5-1h0m28-1h0m13-1h0m43 2h0m-202 6h0m28 2h0m38-3h0m29 1h0m61 3h0m-21 9h0m24-1h0m42 1h0m-39 13h0m48-1h0m-331 9h0m22 1h0m87 2h0m54-6h0m6 1h0m71-2h0m13 7h0m18-4h0m25-3h0m54 3h0m-138 7h0m30-1h0m2 9h0m13-2h0m3-4h0m13 1h0m2-2h0m22 6h0m38-4h0m1 1h0m-235 5h0m126 6h0m17-3h0m42 3h0m22 1h0m4-6h0m3-1h0m-125 10h0m37 0h0m34 4h0m10-2h0m19-1h0m11-1h0m-88 10h0m1 9h0m38-7h0m12-2h0m11 0h0m39 8h0m-311 10h0m25-1h0m172-5h0m25 4h0m20-2h0m8 2h0m9 0h0m4 0h0m17-1h0m-285 9h0m222-3h0m28 3h0m1 3h0m-77 2h0m52 8h0m2-1h0m13-1h0m40-3h0m1 0h0m17 0h0m1 0h0m10 4h0m0-6h0m3 8h0m-325 2h0m194 1h0m48 5h0m41-6h0m15 4h0m25-3h0m-233 10h0m159 4h0m8 4h0m7-6h0m14-3h0m43 2h0m3 6h0m14-7h0m16 3h0m-172 11h0m34-1h0m14 0h0m20 0h0m0-2h0m13 2h0m4 4h0m55-9h0m5 7h0m10-4h0m1 1h0m5-1h0m-252 13h0m136-1h0m26 0h0m31 0h0m20 2h0m5 0h0m5-5h0m62 3h0m-163 6h0m14 9h0m1-8h0m13 7h0m100-8h0m29 7h0m-216 3h0m87 3h0m64 0h0m-105 15h0m23-8h0m9 2h0m21 1h0m5-3h0m5 1h0m14 3h0m3-2h0m1 3h0m7-3h0m-68 16h0m18-9h0m25 8h0m1-3h0m9 3h0m13-6h0m0 1h0m13 2h0m9-3h0m-102 15h0m8 0h0m4-5h0m16 1h0m2 2h0m12-5h0m23 7h0m33 3h0m49-5h0m-136 7h0m24 6h0m9-2h0m3-1h0m11-5h0m11 7h0m20 2h0m20 0h0m8-7h0m8 4h0m-330 7h0m17 3h0m54-5h0m147 2h0m20 2h0m20-3h0m2 6h0m29-6h0m3 1h0m-29 13h0m10 1h0m39-2h0m44-1h0m19 2h0m-354 7h0m225 1h0m14 4h0m-220 5h0m133 6h0m61 0h0m0-1h0m41-7h0m3 6h0m15-4h0m5 3h0m54 0h0m-290 7h0m1-2h0m132 2h0m26-3h0m27 4h0m34-2h0m5 4h0m17 2h0m11-5h0m-82 10h0m18 0h0m27 4h0m2-1h0m3 1h0m28-5h0m19 0h0m-78 9h0m24 1h0m45 2h0m7 4h0m19-3h0m11 3h0m-288 5h0m175 3h0m32 0h0m38 2h0m12-5h0m0-2h0m-189 12h0m28 4h0m54-4h0m44 6h0m14-4h0m16-2h0m19-1h0m22-1h0m10 4h0m12 3h0m3-6h0m-328 8h0m152 8h0m35 2h0m15-7h0m13 4h0m11 0h0m34 0h0m10-2h0m39 3h0m-115 10h0m13-2h0m7 3h0m17-9h0m67 6h0m11-3h0m2 4h0m18 0h0m-214 4h0m122 8h0m7 0h0m7-4h0m4 3h0m22-1h0m34-5h0m-162 9h0m29 8h0m62-4h0m3-1h0m2-3h0m14 8h0m21-1h0m5-2h0m-138 9h0m29 1h0m75-5h0m30 3h0m-100 9h0m38 7h0m2-2h0m8 2h0m6-3h0m6 3h0m9-2h0m8-1h0m-75 13h0m6-9h0m8 4h0m13 2h0m12-5h0m19 8h0m17-10h0m2 7h0m33 0h0m23-1h0m-117 14h0m12-2h0m35-3h0m2-4h0m64 6h0m7-7h0m-102 16h0m21-4h0m-82 14h0m51 2h0m1-4h0m9 2h0m11 2h0m2-6h0m-75 17h0m73-5h0m62 0h0m24 5h0m9 0h0m7-1h0m-117 3h0m13 2h0m-26 8h0m14-1h0m40 7h0m59-2h0m-150 6h0m91 8h0m11-6h0m55 4h0m-117 12h0m4 1h0m105-6h0m29 5h0m6 9h0m-22 14h0" stroke="#82bd38" stroke-width="7.0" stroke-linecap="round" fill="none"/>
<path transform="scale(.1)" d="M1110 2089h0m16 2h0m65 0h0m-110 13h0m53-9h0m37 0h0m23 3h0m-159 8h0m131 5h0m3-4h0m57 5h0m-204 3h0m41 9h0m68-7h0m8-1h0m24 6h0m6 3h0m10-5h0m45-2h0m-236 15h0m6-7h0m15 1h0m44 8h0m36-9h0m2 5h0m3 1h0m2 2h0m30-5h0m7 5h0m52-6h0m19 1h0m3-4h0m-232 17h0m100-6h0m53 5h0m62-2h0m0-2h0m18-2h0m33 9h0m-260 2h0m21 2h0m5-2h0m5 1h0m49 4h0m29 2h0m9 1h0m7-8h0m62-1h0m16 6h0m7-4h0m40 4h0m9-4h0m12 2h0m-273 11h0m2 0h0m132 2h0m-111 7h0m3-1h0m92 4h0m4-2h0m19 0h0m20 2h0m51 3h0m17-5h0m8-2h0m-262 14h0m6-1h0m26-4h0m26 3h0m10 0h0m41 0h0m26 3h0m6-1h0m79-3h0m-221 10h0m75-3h0m9 7h0m38-6h0m8 8h0m8-9h0m5 4h0m18-4h0m35 8h0m6-6h0m4 7h0m7-7h0m5 3h0m2-6h0m57 8h0m25-5h0m-294 11h0m9 3h0m7 0h0m16 1h0m67 1h0m14-7h0m23 0h0m43 0h0m25 6h0m2-3h0m21-2h0m0 5h0m13-7h0m18 2h0m-276 14h0m17 1h0m17-3h0m100-5h0m33 6h0m52-2h0m1-2h0m2 6h0m29-6h0m22 1h0m2 3h0m33-2h0m-277 8h0m17 0h0m62 4h0m4-5h0m26 8h0m7 0h0m10-1h0m32-5h0m14 2h0m5 4h0m57-7h0m9 6h0m8 2h0m8-5h0m-298 12h0m22-1h0m5 2h0m2-1h0m7-2h0m40 1h0m14 3h0m15-6h0m4 3h0m46-2h0m53 2h0m25 3h0m27-5h0m4-3h0m0 1h0m17 4h0m21-5h0m6 8h0m-298 6h0m3-3h0m21 6h0m13-6h0m5 1h0m7 6h0m22-5h0m30 5h0m2-7h0m1-2h0m48 1h0m11 2h0m25 3h0m17-3h0m1-1h0m6-2h0m17 2h0m28 4h0m18-5h0m-286 11h0m74 4h0m80-3h0m10-2h0m7 4h0m44 3h0m11-7h0m33 9h0m5 0h0m9-6h0m2-1h0m0-2h0m0 6h0m8-4h0m16 4h0m-298 3h0m32 10h0m4-9h0m43 6h0m68-4h0m0 5h0m19-5h0m1 3h0m13 0h0m19 0h0m16 0h0m1-5h0m8 9h0m23-3h0m7-5h0m27 0h0m34 1h0m-287 14h0m42 0h0m62-6h0m2 7h0m9-3h0m3 2h0m1-3h0m6 2h0m27 0h0m11 2h0m9-1h0m2 2h0m38 1h0m16-4h0m6 0h0m10 4h0m-257 1h0m36 8h0m17-3h0m3-1h0m51 3h0m51-1h0m7 0h0m13-5h0m29 3h0m29 4h0m4-2h0m23 0h0m4-5h0m-173 10h0m16 7h0m14-6h0m1 2h0m49 0h0m12 1h0m47-4h0m18 0h0m22 7h0m2-3h0m21-6h0m-284 15h0m12 0h0m14-3h0m61 3h0m29 2h0m24 1h0m4-6h0m19-1h0m1 4h0m15-1h0m1 3h0m3-6h0m20 5h0m0 0h0m4 1h0m34 3h0m19-9h0m-153 13h0m5 0h0m5 0h0m26 0h0m24 5h0m12-8h0m17 0h0m1 1h0m1-1h0m15 6h0m5-5h0m7 5h0m3-5h0m5 2h0m2-1h0m44 5h0m4 0h0m-182 4h0m9-1h0m45 6h0m12-6h0m2 2h0m37 1h0m8 4h0m2-5h0m1 0h0m9 0h0m7-2h0m17 4h0m0-5h0m11 8h0m-131 8h0m11-1h0m4-2h0m31 6h0m6-5h0m0-4h0m3 8h0m18-8h0m11 7h0m1 0h0m14-1h0m34 0h0m2 2h0m5-3h0m6-3h0m16 7h0m9-7h0m-180 16h0m30 1h0m25-1h0m2-7h0m28 6h0m15-5h0m0 0h0m25 0h0m-81 13h0m78-2h0m6 5h0m-102 12h0m33-5h0m2-5h0m1 1h0m12 6h0m22-5h0m34 2h0m-115 15h0m68-3h0m4 2h0m22-5h0m1 6h0m18-6h0m-76 17h0m3-8h0m29 1h0m6 0h0m8 6h0m0 0h0m19-6h0m7 1h0m24 6h0m2-8h0m-105 10h0m5 3h0m32 1h0m1-4h0m10 6h0m82-8h0m-104 11h0m23 2h0m10 0h0m10 4h0m3-6h0m12 1h0m1-1h0m16 5h0m2-5h0m-65 16h0m15 2h0m27-7h0m2 5h0m10-6h0m-22 23h0m-14 9h0m13 13h0m33-5h0m-45 14h0m30-5h0" stroke="#52ae8c" stroke-width="7.0" stroke-linecap="round" fill="none"/>
<path transform="scale(.1)" d="M1756 2336h0m-23 11h0m8 6h0m25 7h0m8 6h0m5 4h0m4 1h0m-61 14h0m27-5h0m32-1h0m10 0h0m-62 15h0m44-2h0m-43 10h0m61 3h0m15-2h0m8 0h0m-53 4h0m17 5h0m12-2h0m1 0h0m8 3h0m1-5h0m5-1h0m11-1h0m2 2h0m-93 10h0m57 3h0m13-6h0m-36 10h0m45 7h0m23-1h0m-38 5h0m40 4h0m2-4h0m-67 11h0m16 1h0m1 7h0m46-5h0m5 9h0m1 5h0m-85 7h0m17-4h0m15 2h0m28 4h0m1-1h0m11-7h0m6 7h0m-599 10h0m547-5h0m6 2h0m13-4h0m3 7h0m9-3h0m4-3h0m-608 13h0m20 1h0m18 2h0m548 1h0m20-4h0m27 5h0m13-7h0m-67 14h0m-12 12h0m4-2h0m47-5h0m16 2h0m-59 17h0m28-6h0m1-1h0m18 1h0m7 12h0m5-1h0m-30 8h0m15 6h0m-39 9h0m8-8h0m15 8h0m26 0h0m-48 17h0m15-4h0m-67 10h0m62 4h0m-45 23h0" stroke="#52ace4" stroke-width="7.0" stroke-linecap="round" fill="none"/>
<path transform="scale(.1)" d="M1773 1943h0m0 6h0m23 12h0m-13 14h0m3-5h0m4 1h0m-25 9h0m4 3h0m17 0h0m1-2h0m7-5h0m-34 18h0m15-2h0m13-5h0m8 5h0m-38 8h0m0-4h0m1 7h0m21-4h0m0-1h0m3-1h0m2 5h0m20 0h0m4 1h0m-42 9h0m4-2h0m-62 9h0m46 3h0m4-7h0m15 1h0m3-1h0m2 6h0m1 4h0m3-4h0m14-5h0m-58 10h0m21 0h0m4 4h0m5 4h0m10-1h0m5 1h0m3 15h0m-14 8h0m-42 18h0m8 19h0m11 0h0m1 0h0" stroke="#7466c8" stroke-width="7.0" stroke-linecap="round" fill="none"/>
<path transform="scale(.1)" d="M1779 2705h0m2 16h0m-86 44h0m31 41h0m17 1h0m-28 23h0m8-1h0m1 3h0m10 30h0m0-6h0m6 0h0m4 14h0m-3 10h0m11 4h0m-13 18h0m4 38h0m1 30h0m1-2h0" stroke="#d266c6" stroke-width="7.0" stroke-linecap="round" fill="none"/>
<path transform="scale(.1)" d="M1383 1797h0m24 7h0m7-7h0m-18 10h0m7 4h0m-16 9h0m-50 9h0m30-2h0m95 6h0m-107 7h0m10 5h0m57-9h0m22 8h0m31-8h0m-120 18h0m122-1h0m-133 9h0m15-1h0m5 0h0m9-2h0m24 6h0m12-6h0m29-4h0m23 2h0m11 7h0m17-2h0m-126 6h0m102-2h0m25 7h0m-178 9h0m6 0h0m62-4h0m8-2h0m11 7h0m4 0h0m47-1h0m36-1h0m6-4h0m13 6h0m-182 6h0m53-3h0m36 6h0m19-7h0m11 4h0m7 3h0m64-2h0m-148 12h0m32-2h0m1-3h0m55 6h0m50-5h0m36 5h0m-168 10h0m29-2h0m8 3h0m16 1h0m3-8h0m33 6h0m37-1h0m57-2h0m-237 12h0m8-6h0m16 6h0m17-4h0m5-1h0m1 3h0m18-4h0m32 4h0m8 3h0m12 0h0m9-2h0m21 3h0m11-5h0m12 1h0m1 0h0m5-4h0m17 9h0m31-2h0m-251 2h0m50 10h0m17-3h0m2 1h0m7 0h0m15 1h0m9-4h0m6-2h0m28 7h0m20-5h0m5-2h0m3-2h0m8 1h0m4 6h0m10-7h0m54-1h0m41 4h0m-269 13h0m18-6h0m9 2h0m22 6h0m3-6h0m65 1h0m8 1h0m18 1h0m9 0h0m3-4h0m33 6h0m3-5h0m25 5h0m51-6h0m-270 11h0m2-1h0m10 5h0m2-6h0m28 6h0m15-2h0m18 1h0m31 0h0m12-4h0m1 3h0m0-3h0m11 3h0m3 4h0m19 0h0m23-2h0m42-4h0m11 6h0m0-7h0m14 7h0m43 0h0m-256 10h0m16-8h0m12 1h0m16-1h0m11-1h0m30 8h0m46-3h0m5-2h0m5 2h0m17-3h0m7 2h0m15 1h0m27 3h0m0-6h0m3 6h0m-252 11h0m21-9h0m12 3h0m50-1h0m19 1h0m30 3h0m11-5h0m48 8h0m0-7h0m3 2h0m8 2h0m1-4h0m1 5h0m4 0h0m2-6h0m0 7h0m10-5h0m0-2h0m23 1h0m17 2h0m-223 12h0m5-4h0m7 7h0m31-5h0m9 0h0m7 1h0m6 5h0m4-4h0m15 3h0m23-7h0m8 5h0m13 2h0m5-4h0m5 4h0m6-8h0m0 4h0m50 1h0m4 1h0m22 3h0m26-7h0m7 4h0m-255 10h0m10 1h0m29-6h0m17 0h0m33 3h0m16-5h0m58 4h0m12 0h0m4 1h0m17-2h0m21 5h0m3-1h0m12 3h0m1-3h0m19-3h0m-285 7h0m40 2h0m3 4h0m8-1h0m47-1h0m34-4h0m13 1h0m30 7h0m0 1h0m7-9h0m11 2h0m3 0h0m16 1h0m1-2h0m30 2h0m2-3h0m31 8h0m3 0h0m7-4h0m-296 12h0m3 1h0m36 1h0m6-5h0m17-3h0m2 8h0m2-6h0m13 0h0m14 6h0m5-7h0m5 3h0m3 0h0m6-2h0m7 2h0m1 1h0m2-3h0m3 5h0m23 0h0m2-1h0m68-5h0m4 4h0m34 3h0m22-9h0m5 5h0m24 1h0m-264 7h0m6 5h0m32-3h0m3 3h0m35-3h0m1 5h0m20-4h0m22 2h0m23-6h0m12-1h0m2 8h0m16 1h0m29-10h0m34 3h0m17 5h0m40-6h0m-338 15h0m11-6h0m23 2h0m22-1h0m1 6h0m54-2h0m23 1h0m1 2h0m34-6h0m18 5h0m18-6h0m26 2h0m2 2h0m0-5h0m20 0h0m1 7h0m15-3h0m8-2h0m11-2h0m29 1h0m-330 8h0m40 6h0m40-4h0m12 5h0m52-2h0m12-2h0m30-2h0m13 5h0m16-3h0m27 0h0m2 0h0m48 5h0m1-4h0m10-2h0m1-1h0m13 5h0m2-2h0m4-1h0m-282 11h0m2 3h0m1-2h0m16-5h0m23 5h0m32 0h0m4 4h0m45-2h0m19-1h0m4 3h0m3-7h0m0 4h0m10 4h0m37-6h0m1-3h0m5 5h0m3-5h0m11 2h0m26 7h0m3-3h0m8-4h0m7 6h0m29-3h0m-321 8h0m9-1h0m6 1h0m0 3h0m3 1h0m17-4h0m13 2h0m1-3h0m9 7h0m17-8h0m10 8h0m19-4h0m12-3h0m7 3h0m6 4h0m22-9h0m5 8h0m9-2h0m10-6h0m7 1h0m26 5h0m17-6h0m5 5h0m7 3h0m15-3h0m4 2h0m3-6h0m10 8h0m28-7h0m1-2h0m2 8h0m25 1h0m28-7h0m-350 11h0m17 5h0m0-2h0m7 1h0m17-3h0m13 5h0m12-1h0m46-7h0m30 5h0m27 0h0m3 1h0m4-4h0m17 1h0m14 2h0m44-2h0m2-1h0m14 3h0m68 2h0m-310 8h0m35-7h0m5 7h0m3 2h0m2-2h0m3-4h0m12 1h0m48 0h0m17-4h0m6 5h0m23-3h0m4 4h0m7 1h0m26-1h0m11-2h0m40-3h0m10 8h0m41-2h0m46-3h0m-325 9h0m34-1h0m7 7h0m8-2h0m3-1h0m8 0h0m6 3h0m7-8h0m0 8h0m6-2h0m6 2h0m10 0h0m3-1h0m32-8h0m8 2h0m10 1h0m16 0h0m36 0h0m43 0h0m9 3h0m33-1h0m48 3h0m-378 7h0m3 3h0m28-2h0m15-2h0m74 4h0m57-8h0m47 6h0m0 2h0m6-1h0m44-7h0m12 5h0m10-1h0m5-1h0m20 1h0m26 0h0m-368 14h0m20-2h0m16-1h0m5-4h0m102 0h0m4 0h0m20 0h0m3-1h0m41 7h0m12-2h0m14 4h0m13-8h0m7 5h0m10-6h0m3 0h0m0 10h0m3-8h0m29 1h0m40-2h0m1 7h0m5-8h0m43 5h0m-388 13h0m34-6h0m2 1h0m46-3h0m1 9h0m2-9h0m25 3h0m4 2h0m47-5h0m6 1h0m13 1h0m30 0h0m5 5h0m66-5h0m1 0h0m35 6h0m0-5h0m15 3h0m5-3h0m14 6h0m1 0h0m25-7h0m-361 14h0m4 2h0m24 0h0m6 0h0m27-7h0m57 2h0m33 4h0m11 2h0m24 0h0m4-3h0m36-2h0m42 1h0m19 1h0m68 4h0m5-8h0m10 2h0m-378 7h0m26 5h0m15-4h0m20 7h0m6-3h0m7 0h0m21 2h0m34-2h0m19-6h0m17 4h0m7-1h0m8-2h0m0 8h0m4-5h0m29-2h0m23 1h0m11 4h0m38-2h0m13-2h0m-295 10h0m37 5h0m9-7h0m6 7h0m14-4h0m7-2h0m3 6h0m3-6h0m2 3h0m11-2h0m3 4h0m16 3h0m6-3h0m8 2h0m4-3h0m7 0h0m12-4h0m10 4h0m7-5h0m1 2h0m16 4h0m1-4h0m73 0h0m14-1h0m26 3h0m-251 7h0m2 8h0m9-6h0m56 0h0m3 6h0m8-1h0m26 0h0m4 1h0m3-5h0m8 0h0m4-4h0m15 1h0m31-2h0m3 8h0m13-5h0m19 7h0m39-6h0m10 6h0m31-9h0m5 7h0m-320 2h0m35 8h0m6 1h0m20-8h0m20 0h0m2 4h0m19 3h0m22-3h0m8-4h0m25-1h0m24 2h0m26 6h0m3-3h0m12 1h0m5 3h0m1-8h0m42 9h0m-285 1h0m33 8h0m7-5h0m24 5h0m17-8h0m19 3h0m20 5h0m8-6h0m35-1h0m28 4h0m3 2h0m8-3h0m6 1h0m1 1h0m3-6h0m6 8h0m3 0h0m13-4h0m68 0h0m-319 6h0m27 6h0m11-3h0m13-1h0m4 4h0m5-1h0m21-2h0m5-3h0m28 0h0m10-1h0m23 6h0m3 3h0m21-5h0m3 4h0m3-7h0m32 1h0m1 4h0m33-2h0m7 5h0m8-4h0m5-3h0m101 7h0m-334 2h0m2 6h0m2 3h0m17-7h0m7 1h0m43-2h0m52 8h0m19-3h0m6-4h0m21 7h0m3-2h0m32 1h0m5-2h0m24-4h0m6 6h0m107-6h0m-314 12h0m46 0h0m30-4h0m40 7h0m34-1h0m47-2h0m-237 12h0m14 0h0m6-7h0m6 9h0m16-6h0m10 0h0m37 5h0m12-6h0m7 1h0m13 4h0m25-6h0m66 6h0m7-2h0m17 4h0m7-9h0m-234 17h0m18 3h0m21-4h0m59 3h0m20-2h0m21 0h0m34-1h0m27-4h0m52 0h0m-248 16h0m19 0h0m20-3h0m2 4h0m5-9h0m26 5h0m11 4h0m5-1h0m8-1h0m7 1h0m57-6h0m19-1h0m4 7h0m13 0h0m25 1h0m-221 3h0m30 3h0m8 2h0m27 1h0m23-4h0m31 1h0m14-4h0m43 3h0m8 4h0m6-2h0m100-4h0m97 0h0m18 3h0m-440 10h0m63 3h0m22-3h0m11 1h0m21 1h0m14-2h0m0 3h0m73-5h0m211 4h0m-399 13h0m2-6h0m47 0h0m2-1h0m4 1h0m8 6h0m5-9h0m32 4h0m24 1h0m6-2h0m30 3h0m8-3h0m39 6h0m-186 4h0m18 5h0m1-4h0m22-2h0m24 2h0m36 1h0m10 1h0m10 0h0m57 0h0m191 2h0m-392 8h0m26-5h0m3-1h0m25 3h0m2-2h0m0 6h0m5-2h0m2-2h0m21 3h0m33-5h0m32 8h0m40-10h0m168 9h0m-361 5h0m40-3h0m27 3h0m3-2h0m6-2h0m7 3h0m16 6h0m35-9h0m38 3h0m14 3h0m30 0h0m8-4h0m-188 9h0m56 4h0m3-1h0m1 6h0m-90 2h0m35 4h0m16-1h0m9 5h0m11-6h0m209 3h0m111 1h0m-355 5h0m21 2h0m3-1h0m3 4h0m12-7h0m14 4h0m47-3h0m51 0h0m101 0h0m-216 8h0m168 8h0m-261 6h0m63-2h0m22 4h0m228 1h0m122 2h0m-384 8h0m3-7h0m26 8h0m69-5h0m-135 16h0m78-7h0m172 5h0m56-6h0m-285 12h0m28-1h0m14 4h0m75-3h0m-77 10h0m76 0h0m133 0h0m-205 16h0m-59 7h0m111 2h0m258 1h0m-329 4h0m123 5h0m154-7h0m-4 10h0m-99 9h0m76 10h0m-61 6h0m40-2h0m-139 7h0m37 4h0m65-3h0m31 4h0m50 11h0m12-5h0m-58 9h0m-92 12h0m23-3h0m89 4h0m21-2h0m18 5h0m15-3h0m41 0h0m5-3h0m-120 12h0m-112 11h0m40 5h0m110-9h0m39 2h0m74 3h0m-204 11h0m5 1h0m99 9h0m2 3h0m-148 4h0m242 2h0m-32 13h0m29-1h0m-333 8h0m112 6h0m41 10h0m-116 24h0m49 2h0m27-3h0m103-4h0m-104 19h0m98-5h0m-20 31h0m-73 22h0m78 6h0m3-2h0m-35 14h0m9 14h0m44-3h0m-35 6h0m24 1h0m-36 24h0" stroke="#e07a74" stroke-width="7.0" stroke-linecap="round" fill="none"/>
<path transform="scale(.1)" d="M1449 2192h0m-1 12h0m168-8h0m-224 29h0m74-9h0m3 2h0m7-1h0m7 3h0m12 1h0m-16 4h0m-68 15h0m14-4h0m26 5h0m29 1h0m6-2h0m23 2h0m148 1h0m-280 7h0m8 1h0m40-3h0m26-1h0m10 7h0m1-7h0m21 2h0m49 5h0m-201 7h0m38-5h0m36 2h0m21 4h0m40-2h0m46 1h0m35-4h0m-192 10h0m39 7h0m91 0h0m4-4h0m0-5h0m37 10h0m38-6h0m-214 10h0m135-1h0m-150 16h0m46 0h0m9-7h0m14 3h0m19 2h0m13-4h0m20 0h0m25-3h0m6 5h0m12 3h0m-134 11h0m11-4h0m12-4h0m2 5h0m38 2h0m25 0h0m4-4h0m8-1h0m11 1h0m6 3h0m8-5h0m59 7h0m21-6h0m-226 10h0m47-3h0m43 2h0m1 2h0m8-2h0m9 3h0m5 2h0m8-1h0m28 2h0m15-3h0m15-1h0m19-4h0m-261 18h0m52 1h0m12-9h0m20 8h0m1-5h0m29 4h0m0 0h0m5 3h0m2-5h0m0-4h0m4 0h0m25 7h0m5 0h0m15-6h0m2 0h0m2 8h0m73-10h0m47 6h0m52 3h0m-331 6h0m38 0h0m32-5h0m7 1h0m76 8h0m2 0h0m31-5h0m1 1h0m4-4h0m57 0h0m72 6h0m-308 12h0m16-2h0m7-3h0m13-3h0m43 2h0m33 6h0m4-1h0m4-7h0m9-1h0m5 9h0m0-6h0m16 3h0m52 2h0m14-3h0m10 4h0m23-4h0m17-1h0m74-1h0m40 0h0m-366 14h0m20-1h0m26 1h0m39-5h0m11 4h0m16-4h0m2 4h0m17-2h0m28 5h0m22-5h0m3 1h0m11-3h0m18-1h0m37 7h0m1 0h0m22-4h0m-302 13h0m28 2h0m18-6h0m25 0h0m0 3h0m1-2h0m19-3h0m1 4h0m6 4h0m24-4h0m5-4h0m31 8h0m22-2h0m17-5h0m90 0h0m112-2h0m-408 14h0m44 4h0m6-5h0m43 5h0m19-4h0m15-1h0m21-1h0m35-2h0m51 7h0m23 2h0m75-1h0m-303 8h0m42 0h0m1 1h0m28 2h0m4-7h0m3-1h0m25 1h0m3 7h0m14-3h0m22-3h0m2-2h0m7 3h0m25 4h0m1-3h0m3 3h0m24-6h0m10-1h0m12 5h0m15-5h0m7 6h0m41 2h0m7-7h0m10 8h0m-253 2h0m9 3h0m13-1h0m52 4h0m3-1h0m14-2h0m4 3h0m9-2h0m14 3h0m22-2h0m7-1h0m2 1h0m2 1h0m28-5h0m-229 16h0m2-9h0m10 7h0m38-5h0m22 7h0m60-7h0m1 0h0m19 3h0m8-2h0m15 4h0m11-5h0m25 1h0m5 4h0m10 2h0m5-5h0m25-1h0m16 5h0m-302 5h0m35 1h0m9 5h0m27-9h0m3 4h0m26 1h0m10 1h0m25-5h0m1 4h0m23 2h0m37-3h0m17 1h0m89 2h0m33 0h0m-321 8h0m3 5h0m5-7h0m61 2h0m8-4h0m95 3h0m18 0h0m7 5h0m81-5h0m-283 7h0m46 8h0m16-8h0m2-1h0m52 5h0m19-4h0m9 2h0m13 2h0m13-2h0m16 4h0m18 1h0m36-6h0m-209 16h0m56 1h0m0-1h0m3-5h0m21 6h0m11-5h0m1-3h0m15 7h0m34-3h0m7 3h0m14-6h0m12 7h0m61-5h0m-250 15h0m30-7h0m7 1h0m32 4h0m2-3h0m39-2h0m41 5h0m16 3h0m3-1h0m20-5h0m22 6h0m6-2h0m2-3h0m5 3h0m15-2h0m-200 11h0m14-5h0m1-2h0m32 7h0m5-5h0m20 7h0m0-6h0m19 4h0m18-6h0m30 8h0m17-1h0m6-6h0m6 0h0m34 0h0m9 3h0m-273 11h0m34-4h0m65 1h0m3 5h0m11 1h0m24-8h0m22 6h0m10-5h0m5 4h0m31 0h0m40-6h0m23 6h0m-254 8h0m8 0h0m23 1h0m30-2h0m10 5h0m10-4h0m19-2h0m5 1h0m40-2h0m13 3h0m6 5h0m9-4h0m3-1h0m0 4h0m1 2h0m6-5h0m7 0h0m21 3h0m6-7h0m13 1h0m90 1h0m31 5h0m-302 10h0m12-1h0m16-2h0m22 1h0m1 0h0m0-2h0m57 0h0m3-1h0m9 1h0m0 2h0m18-5h0m13 9h0m20-6h0m10 1h0m17 2h0m-228 11h0m11-4h0m1-3h0m8 7h0m42-7h0m3 5h0m1 3h0m9 0h0m4-4h0m23-4h0m9 8h0m22-6h0m23 2h0m2-4h0m8 5h0m32 3h0m63 1h0m4-9h0m2 3h0m60 4h0m-296 8h0m62 4h0m4-4h0m12-3h0m28-2h0m6 7h0m11-6h0m7 4h0m13 2h0m25-4h0m0 2h0m49 3h0m27-2h0m25-5h0m38 2h0m-343 16h0m21-3h0m57-5h0m16 4h0m9-3h0m20 4h0m4-6h0m1 7h0m8-2h0m2-3h0m13 6h0m5-7h0m6 6h0m5-3h0m8 3h0m2-1h0m28-2h0m25 3h0m37-1h0m14-1h0m99-3h0m-360 13h0m71-1h0m24-4h0m14 1h0m13 3h0m15-5h0m13 1h0m3 8h0m12-1h0m7-8h0m6 1h0m3 3h0m91 4h0m19-6h0m-245 16h0m21-7h0m0 3h0m12 2h0m19 3h0m1-6h0m1 2h0m17-2h0m16 4h0m10-4h0m5-1h0m48 0h0m43 3h0m57-4h0m-279 11h0m9 5h0m22 2h0m17-7h0m1 5h0m27-5h0m8 5h0m8-2h0m12 1h0m2 4h0m36-5h0m4 0h0m2 3h0m3-4h0m9-1h0m0-1h0m9 7h0m26-1h0m-234 8h0m92-2h0m12-2h0m9 4h0m20-1h0m21 0h0m5-3h0m1 8h0m22-6h0m6 3h0m3-5h0m2 7h0m162-4h0m-359 13h0m35-2h0m5 3h0m17-6h0m10-1h0m32-2h0m3 7h0m16 3h0m0-3h0m16-7h0m5 7h0m1 2h0m45-7h0m5 6h0m9 0h0m5-7h0m4 2h0m8 5h0m4 1h0m6-4h0m0 3h0m8-7h0m-148 11h0m10 0h0m41 5h0m0-6h0m5 1h0m1-1h0m6 7h0m22 2h0m16-2h0m22 0h0m29 0h0m35 0h0m-228 6h0m84 5h0m66-2h0m5-4h0m54 0h0m41 7h0m59-6h0m-335 14h0m7-1h0m30-6h0m22-1h0m10 2h0m3-1h0m12 0h0m3 4h0m3-2h0m43 1h0m8-3h0m24 6h0m26-5h0m39 6h0m-180 7h0m4-3h0m11 7h0m4-7h0m85 2h0m77-4h0m25 4h0m-214 16h0m7-9h0m10-1h0m13 9h0m29 0h0m51 1h0m4-9h0m3 3h0m11 6h0m24-3h0m42 1h0m85-3h0m-275 13h0m15-8h0m13 4h0m27-1h0m62-3h0m0 7h0m31-7h0m10 3h0m12 2h0m20-3h0m-237 17h0m46-7h0m11-1h0m29 3h0m5 4h0m32-7h0m4 7h0m33-5h0m29-1h0m128 4h0m7 0h0m-273 7h0m61-3h0m8 0h0m80 3h0m1 5h0m85-6h0m61 1h0m4 6h0m-297 5h0m23 6h0m26-3h0m9 2h0m13-1h0m20-4h0m9 5h0m139 0h0m11-4h0m11-1h0m15-2h0m2-1h0m-249 11h0m39 1h0m15 4h0m6-1h0m24-3h0m-119 13h0m30 2h0m6 11h0m16-2h0m2-4h0m55-1h0m8 2h0m8 4h0m8 0h0m-98 3h0m57 6h0m39-2h0m96 4h0m-171 1h0m0 4h0m90-3h0m9 7h0" stroke="#c8a634" stroke-width="7.0" stroke-linecap="round" fill="none"/>
<path transform="scale(.1)" d="M1612 2066h0m-7 29h0m-22 4h0m5 4h0m1-3h0m3 4h0m-9 3h0m0 1h0m37-3h0m15 0h0m39 9h0m13-1h0m-151 19h0m51 3h0m27-1h0m-50 4h0m11 4h0m32-6h0m27 5h0m2 2h0m-42 6h0m9-2h0m17 5h0m48-1h0m13-1h0m-143 6h0m23 9h0m44-3h0m39-5h0m21 4h0m-112 9h0m33-4h0m10 0h0m11 1h0m16 2h0m28-3h0m1 5h0m16 3h0m-112 3h0m55 8h0m0-2h0m-27 12h0m12-10h0m5 10h0m12-8h0m0 0h0m6 4h0m10-4h0m41 5h0m17-4h0m4 1h0m-195 15h0m31-7h0m10 3h0m45 4h0m25-7h0m19 4h0m13-3h0m7 1h0m1 6h0m5-4h0m-151 8h0m1 1h0m11 2h0m64-6h0m23 0h0m19 3h0m1 1h0m6-4h0m7 6h0m12 2h0m23-2h0m0-7h0m-197 17h0m7 0h0m7 2h0m53-8h0m11 4h0m16 5h0m4-5h0m6-3h0m40 4h0m0-3h0m38 1h0m7 1h0m-156 7h0m15 0h0m16 4h0m3-2h0m38-2h0m56 2h0m32-1h0m-200 10h0m10-3h0m41 3h0m25 0h0m42-1h0m41 0h0m44 5h0m30 2h0m-215 7h0m19 0h0m35-4h0m29 6h0m26-3h0m26-2h0m4 1h0m0-3h0m4 9h0m8-9h0m-151 16h0m13 2h0m38-5h0m10 6h0m16-3h0m8 1h0m4 1h0m17-2h0m39-3h0m21-2h0m28 1h0m20 3h0m15-4h0m-189 16h0m26-5h0m6 4h0m61-2h0m13-3h0m18 0h0m3 3h0m38 2h0m7 1h0m-232 4h0m61 4h0m19-4h0m16 5h0m34 0h0m4-3h0m6 5h0m5-5h0m4-1h0m15 1h0m6-2h0m-32 13h0m22 3h0m1-3h0m1 3h0m6 2h0m0-2h0m0 0h0m21-5h0m5 4h0m76 2h0m-273 3h0m102 1h0m10 5h0m8-7h0m37 2h0m1 7h0m54-2h0m-246 11h0m121-5h0m17 5h0m28-2h0m4-1h0m28-4h0m5 4h0m17 1h0m49 0h0m40-3h0m-337 13h0m95-5h0m150 5h0m19-5h0m7-1h0m-243 11h0m137 1h0m40 1h0m18-3h0m71 4h0m-304 9h0m22-1h0m85 6h0m37-1h0m37-3h0m8-1h0m12-1h0m20-3h0m25 8h0m0-5h0m5 1h0m6 5h0m4-6h0m6 0h0m-111 10h0m98-1h0m2 0h0m3 6h0m9-3h0m-76 8h0m47 3h0m0 0h0m9-1h0m1 4h0m11-3h0m-128 10h0m47-2h0m34 1h0m29-2h0m3 2h0m18 1h0m20-5h0m12 0h0m31 4h0m-149 12h0m38 1h0m19 1h0m18-9h0m7 3h0m5-2h0m22 2h0m15-1h0m-341 16h0m17-4h0m5-2h0m272 7h0m10-5h0m65 5h0m-115 8h0m38-5h0m22-1h0m20 3h0m19 5h0m-213 5h0m57 4h0m73-8h0m7 8h0m12-1h0m38-5h0m-253 10h0m146 4h0m33 0h0m6-4h0m15-2h0m14 0h0m15 7h0m7-5h0m-255 10h0m159 2h0m59 0h0m66 6h0m4-5h0m6 2h0m-240 4h0m135-1h0m10 9h0m17-8h0m3 8h0m7-5h0m58 4h0m0-6h0m1 3h0m17 0h0m13 0h0m-272 15h0m121-1h0m55-7h0m8-1h0m22 1h0m10 8h0m-100 4h0m60 0h0m71 1h0m1 1h0m-261 6h0m117 6h0m45 1h0m37-4h0m7 2h0m7-6h0m1 4h0m40 1h0m-248 9h0m124-2h0m22 0h0m5 0h0m53 7h0m0-1h0m22-7h0m20 1h0m6 6h0m-208 8h0m30 2h0m42-8h0m9 1h0m5 1h0m53 1h0m3 4h0m13-2h0m-210 14h0m8-1h0m90-5h0m15-3h0m11 5h0m2 1h0m24 3h0m14-8h0m38 5h0m21-5h0m3 7h0m3-8h0m3 4h0m3-2h0m20 0h0m-95 11h0m31 4h0m14-7h0m39 7h0m15 0h0m5-2h0m-124 6h0m8 2h0m33-4h0m2 5h0m18 2h0m19 1h0m14 1h0m7-3h0m47 3h0m-216 6h0m37 0h0m67-4h0m45 6h0m14-6h0m9 0h0m21 8h0m-132 2h0m73 1h0m17-1h0m17 2h0m5 0h0m-90 14h0m44-1h0m3-6h0m8 1h0m23 7h0m24 0h0m47-5h0m-297 7h0m151 8h0m29-1h0m13 1h0m4-8h0m5 7h0m3 2h0m-77 2h0m11 9h0m15 0h0m8-3h0m4-1h0m17 1h0m21-2h0m-216 11h0m94-2h0m67 2h0m36-2h0m39-1h0m-178 8h0m75 0h0m38 5h0m37-5h0m19 3h0m37 0h0m-108 13h0m10-6h0m33-1h0m1 8h0m55-3h0m-245 5h0m115 1h0m31 0h0m15 8h0m15 1h0m33-2h0m12-3h0m14 5h0m-202 8h0m112-3h0m3 1h0m60 0h0m45-4h0m-83 10h0m47-1h0m9 4h0m13 0h0m-87 10h0m1 2h0m4-2h0m45-1h0m11 5h0m14-9h0m11 5h0m10 1h0m5-5h0m7 7h0m-202 5h0m44-2h0m77 2h0m8-2h0m13 0h0m6 2h0m7 7h0m10 0h0m9-8h0m35-1h0m26 6h0m-208 9h0m58-6h0m12 7h0m23 1h0m4-3h0m8-3h0m10-1h0m-52 12h0m12-2h0m87 9h0m33-5h0m-150 11h0m114-3h0m4 3h0m10 1h0m-118 7h0m38-1h0m66 3h0m7 0h0m14-3h0m-129 15h0m23-5h0m25 6h0m5 0h0m10 0h0m10-1h0m8 0h0m15 0h0m24-2h0m-152 4h0m117 10h0m-110 4h0m42 1h0m14 4h0m69-1h0m31-5h0m8 5h0m-126 12h0m24-8h0m25 1h0m27 1h0m3 7h0m-89 17h0m32-5h0m10 6h0m5-7h0m77 2h0m-98 7h0m34 12h0m-49 15h0m26-5h0m9-2h0m120 17h0" stroke="#82bd38" stroke-width="7.0" stroke-linecap="round" fill="none"/>
<path transform="scale(.1)" d="M1111 2093h0m24-2h0m-63 8h0m20 1h0m17 4h0m-81 6h0m9-3h0m79 7h0m0-4h0m26-3h0m1 6h0m35-4h0m5 3h0m9-5h0m9 1h0m17 0h0m-160 11h0m59 5h0m20-2h0m17-4h0m63 5h0m-190 4h0m51 1h0m22 7h0m7-8h0m19-1h0m14 0h0m14 0h0m5 3h0m13 1h0m2 1h0m10 1h0m11 1h0m0-3h0m9 2h0m-202 5h0m116 0h0m5-1h0m25 2h0m50 0h0m43-3h0m-241 10h0m40 4h0m2 6h0m-67 0h0m8 5h0m11-1h0m9-3h0m27 5h0m43 0h0m9 0h0m52-1h0m34 3h0m12 1h0m7-4h0m2 4h0m10-8h0m15 3h0m-244 12h0m66-6h0m8 1h0m31 0h0m76 5h0m10 3h0m8 0h0m5-7h0m48 3h0m-212 9h0m50 0h0m27 5h0m6-7h0m78 8h0m12-4h0m21-4h0m21 2h0m11-2h0m-275 9h0m4 3h0m2-2h0m14 1h0m17-3h0m2 8h0m41-6h0m5 5h0m29 1h0m43-1h0m12-4h0m22 6h0m70-3h0m12-2h0m7 3h0m-279 9h0m17-4h0m15-1h0m27 8h0m5-9h0m3 3h0m0 1h0m1 3h0m10-5h0m14 6h0m22-1h0m67 2h0m10-4h0m8-1h0m43-4h0m19 4h0m15-2h0m-293 16h0m6-6h0m13 6h0m21-1h0m6-2h0m5-5h0m43 0h0m43 2h0m23 7h0m8-3h0m47 4h0m5-5h0m37 0h0m2-1h0m7 2h0m36-1h0m6 2h0m-262 5h0m39 3h0m59-1h0m3-2h0m7 7h0m30-2h0m1 0h0m9-5h0m24 7h0m13-1h0m3-5h0m18 4h0m17-4h0m1 0h0m9 6h0m-170 7h0m44-2h0m65 1h0m11 4h0m33-6h0m5 7h0m-247 9h0m22 0h0m7-4h0m1 2h0m27 0h0m48-5h0m21-1h0m2 5h0m64-3h0m1 3h0m10-5h0m13 4h0m7 2h0m4-2h0m0 5h0m15-2h0m-283 4h0m43 2h0m6-3h0m14 7h0m3-2h0m31 1h0m13-5h0m14 8h0m2-6h0m1-1h0m11 4h0m40 0h0m20-3h0m2 0h0m1-1h0m1 3h0m8-2h0m3-2h0m13-2h0m1 0h0m7 2h0m23 1h0m31 6h0m25 1h0m-274 9h0m40-9h0m48 8h0m18 0h0m7 0h0m7 2h0m4-10h0m28 1h0m8 2h0m3 1h0m3-3h0m3 5h0m0-3h0m18 3h0m25 0h0m24-1h0m10-5h0m0 6h0m11 0h0m13-1h0m3 0h0m12-4h0m-319 19h0m79-6h0m38-2h0m35-2h0m61 7h0m6 3h0m2 0h0m21-6h0m6 6h0m10-4h0m4-4h0m25 2h0m-283 14h0m154-7h0m7 9h0m1-2h0m10-5h0m3 6h0m11-3h0m19-4h0m44 1h0m3 0h0m2 1h0m29 5h0m48-6h0m-294 16h0m56-2h0m31-7h0m24 4h0m34-1h0m4-2h0m114-1h0m1 7h0m-305 8h0m84 0h0m103-2h0m1 4h0m36-3h0m34 1h0m18 1h0m1-3h0m37 4h0m-199 12h0m7-1h0m8-4h0m4-4h0m38 9h0m8 0h0m49-6h0m10-1h0m42-1h0m24 1h0m-152 13h0m33 1h0m14-1h0m5-3h0m6 5h0m14-2h0m27-2h0m12 7h0m-130 5h0m29-4h0m16 2h0m10-3h0m15 9h0m2 0h0m6-6h0m36 1h0m9 1h0m6-4h0m27 9h0m-121 1h0m19 2h0m16 1h0m6 6h0m21-9h0m44 8h0m-91 4h0m53 4h0m8-4h0m3 2h0m47 4h0m5-1h0m17-6h0m-130 15h0m63 0h0m7 0h0m11 2h0m29-5h0m-101 8h0m9 2h0m26 0h0m22-3h0m28 7h0m28 0h0m-117 5h0m15-2h0m4 0h0m18-1h0m56 2h0m-82 16h0m26 2h0m17-1h0m5-7h0m12 3h0m10 0h0m-16 6h0m16-1h0m2 3h0m-43 9h0m5 7h0m20 9h0m12-7h0m21 16h0m21 1h0m-64 4h0m21 0h0m21 6h0m14-7h0m-52 18h0m12 0h0m21-2h0m23 6h0m-19 40h0" stroke="#52ae8c" stroke-width="7.0" stroke-linecap="round" fill="none"/>
<path transform="scale(.1)" d="M1752 2347h0m15 2h0m5 13h0m-48 4h0m10 2h0m52 7h0m1-4h0m-42 11h0m6-3h0m3 5h0m24 7h0m29 2h0m6 1h0m-59 15h0m-5 15h0m19-2h0m10 1h0m4-7h0m1 4h0m29-1h0m3 1h0m11-1h0m-39 15h0m9-6h0m13-2h0m4 9h0m6-10h0m-25 16h0m20-4h0m1 4h0m-6 9h0m9 3h0m-51 10h0m46 0h0m3-3h0m2 2h0m5-4h0m-595 11h0m556 5h0m8-5h0m4-2h0m5 6h0m28-2h0m11-2h0m-624 13h0m8-3h0m15-1h0m509 4h0m37 0h0m12 2h0m7 1h0m21-8h0m-48 14h0m1 3h0m18-4h0m22 2h0m16 2h0m-76 7h0m25 2h0m3-2h0m14-2h0m35 4h0m-97 3h0m37 5h0m37-1h0m13-3h0m-76 16h0m38-3h0m13-2h0m-48 11h0m52 0h0m13 1h0m7 3h0m-91 5h0m69 7h0m4 6h0m-60 15h0m69 15h0m-79 17h0m45-2h0m8 0h0m-26 21h0" stroke="#52ace4" stroke-width="7.0" stroke-linecap="round" fill="none"/>
<path transform="scale(.1)" d="M1777 1926h0m16 0h0m-23 28h0m-8 4h0m9 3h0m27-2h0m-14 11h0m-13 11h0m1 1h0m5 0h0m5-2h0m7 5h0m2-2h0m-11 4h0m2 1h0m5 7h0m5-7h0m3-3h0m-30 19h0m8-6h0m12 1h0m5 4h0m8 0h0m2-5h0m1-2h0m-19 12h0m4 0h0m0 4h0m13-3h0m10-2h0m-44 13h0m2-1h0m6-3h0m2 3h0m3-2h0m12 4h0m3 2h0m3-3h0m15 2h0m-50 13h0m31-5h0m-20 7h0m0 23h0m-56 10h0m11 6h0m7 25h0m-2 5h0" stroke="#7466c8" stroke-width="7.0" stroke-linecap="round" fill="none"/>
<path transform="scale(.1)" d="M1785 2688h0m-3 31h0m-3 8h0m1 4h0m-91 43h0m35-8h0m-36 14h0m4 0h0m23 2h0m-1 4h0m-3 39h0m3 9h0m25 23h0m17 6h0m-21 15h0m9 7h0m0 17h0m-7 43h0m9-3h0m-5 13h0m5 1h0" stroke="#d266c6" stroke-width="7.0" stroke-linecap="round" fill="none"/>
</g>
<line x1="160" y1="54.6" x2="149.1" y2="58.2" stroke="#222" stroke-width="0.85"/>
<text x="164" y="54.3" font-size="8.6" stroke="#1a1a1a" stroke-width="0.16" text-anchor="middle" >1</text>
<line x1="185.2" y1="61.5" x2="175.9" y2="66" stroke="#222" stroke-width="0.85"/>
<text x="188.6" y="63.3" font-size="8.6" stroke="#1a1a1a" stroke-width="0.16" text-anchor="middle" >6</text>
<line x1="109.3" y1="106.1" x2="115.8" y2="98.8" stroke="#222" stroke-width="0.85"/>
<text x="105.9" y="112" font-size="8.6" stroke="#1a1a1a" stroke-width="0.16" text-anchor="middle" >4</text>
<line x1="185.5" y1="107.3" x2="175.6" y2="106.9" stroke="#222" stroke-width="0.85"/>
<text x="189.4" y="110.8" font-size="8.6" stroke="#1a1a1a" stroke-width="0.16" text-anchor="middle" >5</text>
<line x1="136.1" y1="126" x2="144.2" y2="119.1" stroke="#222" stroke-width="0.85"/>
<text x="131.9" y="131.6" font-size="8.6" stroke="#1a1a1a" stroke-width="0.16" text-anchor="middle" >2</text>
<line x1="154.4" y1="137.4" x2="160.5" y2="130.1" stroke="#222" stroke-width="0.85"/>
<text x="152" y="146.7" font-size="8.6" stroke="#1a1a1a" stroke-width="0.16" text-anchor="middle" >3</text>
<line x1="179.6" y1="139.8" x2="173.1" y2="146.2" stroke="#222" stroke-width="0.85"/>
<text x="183" y="139.5" font-size="8.6" stroke="#1a1a1a" stroke-width="0.16" text-anchor="middle" >7</text>
<line x1="158.7" y1="191.7" x2="149.8" y2="195.7" stroke="#222" stroke-width="0.85"/>
<text x="163.5" y="192.5" font-size="8.6" stroke="#1a1a1a" stroke-width="0.16" text-anchor="middle" >1</text>
<line x1="184.1" y1="197" x2="175.2" y2="202.3" stroke="#222" stroke-width="0.85"/>
<text x="188" y="200.2" font-size="8.6" stroke="#1a1a1a" stroke-width="0.16" text-anchor="middle" >6</text>
<line x1="109.4" y1="245.3" x2="115.9" y2="237.8" stroke="#222" stroke-width="0.85"/>
<text x="106.4" y="250.8" font-size="8.6" stroke="#1a1a1a" stroke-width="0.16" text-anchor="middle" >4</text>
<line x1="184.6" y1="246.3" x2="175.5" y2="245.7" stroke="#222" stroke-width="0.85"/>
<text x="189.4" y="249.4" font-size="8.6" stroke="#1a1a1a" stroke-width="0.16" text-anchor="middle" >5</text>
<line x1="136.7" y1="265.5" x2="144.1" y2="258.1" stroke="#222" stroke-width="0.85"/>
<text x="131.9" y="270.2" font-size="8.6" stroke="#1a1a1a" stroke-width="0.16" text-anchor="middle" >2</text>
<line x1="154.4" y1="276.6" x2="160.2" y2="269.3" stroke="#222" stroke-width="0.85"/>
<text x="152" y="285.1" font-size="8.6" stroke="#1a1a1a" stroke-width="0.16" text-anchor="middle" >3</text>
<line x1="179.4" y1="278.6" x2="173.2" y2="284.8" stroke="#222" stroke-width="0.85"/>
<text x="183.8" y="278.4" font-size="8.6" stroke="#1a1a1a" stroke-width="0.16" text-anchor="middle" >7</text>
<text x="379.8" y="41.7" font-size="9" stroke="#1a1a1a" stroke-width="0.16" textLength="33.2" lengthAdjust="spacingAndGlyphs" >-log10(P)</text>
<defs><linearGradient id="cb" x1="0" x2="1" y1="0" y2="0">
<stop offset="0" stop-color="#e4e4dc"/>
<stop offset="0.1" stop-color="#fdf6cf"/>
<stop offset="0.2" stop-color="#f3cf6a"/>
<stop offset="0.35" stop-color="#e6a040"/>
<stop offset="0.5" stop-color="#cf7530"/>
<stop offset="0.75" stop-color="#aa5426"/>
<stop offset="1" stop-color="#843a1e"/>
</linearGradient></defs>
<rect x="352.5" y="46.5" width="88" height="12.2" fill="url(#cb)" stroke="#000" stroke-width="1.1"/>
<line x1="352.6" y1="59" x2="352.6" y2="62" stroke="#000" stroke-width="0.9"/>
<line x1="361.4" y1="59" x2="361.4" y2="62" stroke="#000" stroke-width="0.9"/>
<line x1="365.8" y1="59" x2="365.8" y2="62" stroke="#000" stroke-width="0.9"/>
<line x1="370.2" y1="59" x2="370.2" y2="62" stroke="#000" stroke-width="0.9"/>
<line x1="379.0" y1="59" x2="379.0" y2="62" stroke="#000" stroke-width="0.9"/>
<line x1="396.6" y1="59" x2="396.6" y2="62" stroke="#000" stroke-width="0.9"/>
<line x1="440.5" y1="59" x2="440.5" y2="62" stroke="#000" stroke-width="0.9"/>
<text x="352.6" y="73" font-size="8.8" stroke="#1a1a1a" stroke-width="0.08" text-anchor="middle" >0</text>
<text x="361.4" y="73" font-size="8.8" stroke="#1a1a1a" stroke-width="0.08" text-anchor="middle" >2</text>
<text x="370.2" y="73" font-size="8.8" stroke="#1a1a1a" stroke-width="0.08" text-anchor="middle" >4</text>
<text x="379.0" y="73" font-size="8.8" stroke="#1a1a1a" stroke-width="0.08" text-anchor="middle" >6</text>
<text x="396.6" y="73" font-size="8.8" stroke="#1a1a1a" stroke-width="0.08" text-anchor="middle" >10</text>
<text x="440.5" y="73" font-size="8.8" stroke="#1a1a1a" stroke-width="0.08" text-anchor="middle" >20</text>
<rect x="265.6" y="77.4" width="63.42" height="172.00" fill="#d7d7d7"/>
<rect x="265.15" y="76.95" width="9.96" height="9.50" fill="#f2f2f2"/>
<rect x="274.21" y="76.95" width="9.96" height="9.50" fill="#f2f2f2"/>
<rect x="265.15" y="85.55" width="9.96" height="9.50" fill="#f2f2f2"/>
<rect x="274.21" y="85.55" width="9.96" height="9.50" fill="#f2f2f2"/>
<rect x="265.15" y="94.15" width="9.96" height="9.50" fill="#f2f2f2"/>
<rect x="274.21" y="94.15" width="9.96" height="9.50" fill="#f2f2f2"/>
<rect x="265.15" y="102.75" width="9.96" height="9.50" fill="#f2f2f2"/>
<rect x="274.21" y="102.75" width="9.96" height="9.50" fill="#f2f2f2"/>
<rect x="265.15" y="111.35" width="9.96" height="9.50" fill="#f2f2f2"/>
<rect x="274.21" y="111.35" width="9.96" height="9.50" fill="#f2f2f2"/>
<rect x="310.45" y="111.35" width="9.96" height="9.50" fill="#f2f2f2"/>
<rect x="274.21" y="119.95" width="9.96" height="9.50" fill="#f2f2f2"/>
<rect x="274.21" y="128.55" width="9.96" height="9.50" fill="#f2f2f2"/>
<rect x="274.21" y="137.15" width="9.96" height="9.50" fill="#f2f2f2"/>
<rect x="274.21" y="145.75" width="9.96" height="9.50" fill="#f2f2f2"/>
<rect x="265.15" y="154.35" width="9.96" height="9.50" fill="#f2f2f2"/>
<rect x="265.15" y="162.95" width="9.96" height="9.50" fill="#f2f2f2"/>
<rect x="265.15" y="171.55" width="9.96" height="9.50" fill="#f2f2f2"/>
<rect x="265.15" y="180.15" width="9.96" height="9.50" fill="#f2f2f2"/>
<rect x="265.15" y="188.75" width="9.96" height="9.50" fill="#f2f2f2"/>
<rect x="265.15" y="197.35" width="9.96" height="9.50" fill="#f2f2f2"/>
<rect x="265.15" y="205.95" width="9.96" height="9.50" fill="#f2f2f2"/>
<rect x="301.39" y="205.95" width="9.96" height="9.50" fill="#f2f2f2"/>
<rect x="265.15" y="214.55" width="9.96" height="9.50" fill="#f2f2f2"/>
<rect x="301.39" y="214.55" width="9.96" height="9.50" fill="#f2f2f2"/>
<rect x="265.15" y="223.15" width="9.96" height="9.50" fill="#f2f2f2"/>
<rect x="274.21" y="223.15" width="9.96" height="9.50" fill="#f2f2f2"/>
<rect x="283.27" y="223.15" width="9.96" height="9.50" fill="#f2f2f2"/>
<rect x="319.51" y="223.15" width="9.96" height="9.50" fill="#f2f2f2"/>
<rect x="265.15" y="231.75" width="9.96" height="9.50" fill="#f2f2f2"/>
<rect x="283.27" y="231.75" width="9.96" height="9.50" fill="#f2f2f2"/>
<rect x="292.33" y="240.35" width="9.96" height="9.50" fill="#f2f2f2"/>
<rect x="265.60" y="77.40" width="9.66" height="9.20" fill="#fbf0c6"/>
<rect x="274.66" y="77.40" width="9.06" height="9.20" fill="#de8a2e"/>
<rect x="265.60" y="86.00" width="9.66" height="9.20" fill="#f8e6ae"/>
<rect x="274.66" y="86.00" width="9.06" height="9.20" fill="#f3d27a"/>
<rect x="265.60" y="94.60" width="9.66" height="9.20" fill="#ebb14b"/>
<rect x="274.66" y="94.60" width="9.06" height="9.20" fill="#f3d37c"/>
<rect x="265.60" y="103.20" width="9.66" height="9.20" fill="#c1581d"/>
<rect x="274.66" y="103.20" width="9.06" height="9.20" fill="#f2d07a"/>
<rect x="265.60" y="111.80" width="9.66" height="8.60" fill="#c1581d"/>
<rect x="274.66" y="111.80" width="9.06" height="9.20" fill="#b24f1f"/>
<rect x="310.90" y="111.80" width="9.06" height="8.60" fill="#f6e09a"/>
<rect x="274.66" y="120.40" width="9.06" height="9.20" fill="#df8a2f"/>
<rect x="274.66" y="129.00" width="9.06" height="9.20" fill="#df8a2f"/>
<rect x="274.66" y="137.60" width="9.06" height="9.20" fill="#bf561c"/>
<rect x="274.66" y="146.20" width="9.06" height="8.60" fill="#873815"/>
<rect x="265.60" y="154.80" width="9.06" height="9.20" fill="#e28d32"/>
<rect x="265.60" y="163.40" width="9.06" height="9.20" fill="#e28c31"/>
<rect x="265.60" y="172.00" width="9.06" height="9.20" fill="#e0882f"/>
<rect x="265.60" y="180.60" width="9.06" height="9.20" fill="#da7b2a"/>
<rect x="265.60" y="189.20" width="9.06" height="9.20" fill="#da7b2a"/>
<rect x="265.60" y="197.80" width="9.06" height="9.20" fill="#efc052"/>
<rect x="265.60" y="206.40" width="9.06" height="9.20" fill="#eaa43f"/>
<rect x="301.84" y="206.40" width="9.06" height="9.20" fill="#f6e3a2"/>
<rect x="265.60" y="215.00" width="9.06" height="9.20" fill="#f4d77f"/>
<rect x="301.84" y="215.00" width="9.06" height="8.60" fill="#f6e3a2"/>
<rect x="265.60" y="223.60" width="9.66" height="9.20" fill="#c1581d"/>
<rect x="274.66" y="223.60" width="9.66" height="8.60" fill="#fcf2c8"/>
<rect x="283.72" y="223.60" width="9.06" height="9.20" fill="#e59d3a"/>
<rect x="319.96" y="223.60" width="9.06" height="8.60" fill="#f8e6aa"/>
<rect x="265.60" y="232.20" width="9.06" height="8.60" fill="#e59d3a"/>
<rect x="283.72" y="232.20" width="9.06" height="8.60" fill="#b9511c"/>
<rect x="292.78" y="240.80" width="9.06" height="8.60" fill="#c85a1c"/>
<text x="332.8" y="85.5" font-size="8.4" stroke="#1a1a1a" stroke-width="0.1" textLength="101.1" lengthAdjust="spacingAndGlyphs" >myeloid cell differentiation</text>
<text x="332.8" y="94.1" font-size="8.4" stroke="#1a1a1a" stroke-width="0.1" textLength="157.1" lengthAdjust="spacingAndGlyphs" >pos. reg. of response to external stimulus</text>
<text x="332.8" y="102.7" font-size="8.4" stroke="#1a1a1a" stroke-width="0.1" textLength="126.1" lengthAdjust="spacingAndGlyphs" >regulation of leukocyte migration</text>
<text x="332.8" y="111.3" font-size="8.4" stroke="#1a1a1a" stroke-width="0.1" textLength="84.9" lengthAdjust="spacingAndGlyphs" >response to bacterium</text>
<text x="332.8" y="119.9" font-size="8.4" stroke="#1a1a1a" stroke-width="0.1" textLength="78.2" lengthAdjust="spacingAndGlyphs" >regulated exocytosis</text>
<text x="332.8" y="128.5" font-size="8.4" stroke="#1a1a1a" stroke-width="0.1" textLength="49.4" lengthAdjust="spacingAndGlyphs" >FAK pathway</text>
<text x="332.8" y="137.1" font-size="8.4" stroke="#1a1a1a" stroke-width="0.1" textLength="68.2" lengthAdjust="spacingAndGlyphs" >integrin activation</text>
<text x="332.8" y="145.7" font-size="8.4" stroke="#1a1a1a" stroke-width="0.1" textLength="77.6" lengthAdjust="spacingAndGlyphs" >platelet aggregation</text>
<text x="332.8" y="154.3" font-size="8.4" stroke="#1a1a1a" stroke-width="0.1" textLength="69.3" lengthAdjust="spacingAndGlyphs" >blood coagulation</text>
<text x="332.8" y="162.9" font-size="8.4" stroke="#1a1a1a" stroke-width="0.1" textLength="157.1" lengthAdjust="spacingAndGlyphs" >neutrophil medicated killing of bacterium</text>
<text x="332.8" y="171.5" font-size="8.4" stroke="#1a1a1a" stroke-width="0.1" textLength="178.6" lengthAdjust="spacingAndGlyphs" >pos. reg. of prostaglandin biosynthetic process</text>
<text x="332.8" y="180.1" font-size="8.4" stroke="#1a1a1a" stroke-width="0.1" textLength="56.6" lengthAdjust="spacingAndGlyphs" >cMYB pathway</text>
<text x="332.8" y="188.7" font-size="8.4" stroke="#1a1a1a" stroke-width="0.1" textLength="49.4" lengthAdjust="spacingAndGlyphs" >phagocytosis</text>
<text x="332.8" y="197.3" font-size="8.4" stroke="#1a1a1a" stroke-width="0.1" textLength="92.4" lengthAdjust="spacingAndGlyphs" >leukocyte differentiation</text>
<text x="332.8" y="205.9" font-size="8.4" stroke="#1a1a1a" stroke-width="0.1" textLength="171.6" lengthAdjust="spacingAndGlyphs" >Neg. reg. of cellular component organization</text>
<text x="332.8" y="214.5" font-size="8.4" stroke="#1a1a1a" stroke-width="0.1" textLength="120.4" lengthAdjust="spacingAndGlyphs" >cell response to toxic substance</text>
<text x="332.8" y="223.1" font-size="8.4" stroke="#1a1a1a" stroke-width="0.1" textLength="160.8" lengthAdjust="spacingAndGlyphs" >regulation of protein ser/thr kinase activity</text>
<text x="332.8" y="231.7" font-size="8.4" stroke="#1a1a1a" stroke-width="0.1" textLength="102.9" lengthAdjust="spacingAndGlyphs" >regulation of cell activation</text>
<text x="332.8" y="240.3" font-size="8.4" stroke="#1a1a1a" stroke-width="0.1" textLength="180.0" lengthAdjust="spacingAndGlyphs" >antigen processing and presentation via MHC II</text>
<text x="332.8" y="248.9" font-size="8.4" stroke="#1a1a1a" stroke-width="0.1" textLength="64.7" lengthAdjust="spacingAndGlyphs" >G2M Checkpoint</text>
<text x="269.5" y="259.5" font-size="8.9" stroke="#1a1a1a" stroke-width="0.06" text-anchor="middle" >7</text>
<text x="278.9" y="259.5" font-size="8.9" stroke="#1a1a1a" stroke-width="0.06" text-anchor="middle" >4</text>
<text x="288.5" y="259.5" font-size="8.9" stroke="#1a1a1a" stroke-width="0.06" text-anchor="middle" >3</text>
<text x="297.7" y="259.5" font-size="8.9" stroke="#1a1a1a" stroke-width="0.06" text-anchor="middle" >1</text>
<text x="307.4" y="259.5" font-size="8.9" stroke="#1a1a1a" stroke-width="0.06" text-anchor="middle" >6</text>
<text x="316.9" y="259.5" font-size="8.9" stroke="#1a1a1a" stroke-width="0.06" text-anchor="middle" >2</text>
<text x="326.2" y="259.5" font-size="8.9" stroke="#1a1a1a" stroke-width="0.06" text-anchor="middle" >5</text>
<text x="283.8" y="273.5" font-size="10.4" stroke="#1a1a1a" stroke-width="0.08" textLength="28.2" lengthAdjust="spacingAndGlyphs" >Clusters</text>
<rect x="48.8" y="355" width="46.50" height="20.00" fill="#e4c4b8"/>
<text x="58.8" y="368.3" font-size="10" stroke="#151515" stroke-width="0.16" font-style="italic" textLength="27.5" lengthAdjust="spacingAndGlyphs" fill="#151515" >NT-up</text>
<rect x="159" y="355" width="72.00" height="19.80" fill="#e4c4b8"/>
<text x="171.1" y="368.3" font-size="10" stroke="#151515" stroke-width="0.16" font-style="italic" textLength="48.1" lengthAdjust="spacingAndGlyphs" fill="#151515" >RUNX1-up</text>
<circle cx="128.3" cy="399.4" r="1.65" fill="#d4d4d7" stroke="#c2c2c6" stroke-width="0.6"/>
<circle cx="160.6" cy="410.3" r="1.65" fill="#d4d4d7" stroke="#c2c2c6" stroke-width="0.6"/>
<circle cx="160.6" cy="411.7" r="1.65" fill="#d4d4d7" stroke="#c2c2c6" stroke-width="0.6"/>
<circle cx="139.4" cy="422.2" r="1.65" fill="#d4d4d7" stroke="#c2c2c6" stroke-width="0.6"/>
<circle cx="153.9" cy="419.7" r="1.65" fill="#d4d4d7" stroke="#c2c2c6" stroke-width="0.6"/>
<circle cx="155.8" cy="420.1" r="1.65" fill="#d4d4d7" stroke="#c2c2c6" stroke-width="0.6"/>
<circle cx="106.5" cy="437.1" r="1.65" fill="#d4d4d7" stroke="#c2c2c6" stroke-width="0.6"/>
<circle cx="161.2" cy="434.9" r="1.65" fill="#d4d4d7" stroke="#c2c2c6" stroke-width="0.6"/>
<circle cx="163.8" cy="439.3" r="1.65" fill="#d4d4d7" stroke="#c2c2c6" stroke-width="0.6"/>
<circle cx="155.1" cy="441.4" r="1.65" fill="#d4d4d7" stroke="#c2c2c6" stroke-width="0.6"/>
<circle cx="151.0" cy="444.8" r="1.65" fill="#d4d4d7" stroke="#c2c2c6" stroke-width="0.6"/>
<circle cx="153.9" cy="444.3" r="1.65" fill="#d4d4d7" stroke="#c2c2c6" stroke-width="0.6"/>
<circle cx="162.6" cy="445.8" r="1.65" fill="#d4d4d7" stroke="#c2c2c6" stroke-width="0.6"/>
<circle cx="167.4" cy="436.4" r="1.65" fill="#d4d4d7" stroke="#c2c2c6" stroke-width="0.6"/>
<circle cx="159.7" cy="457.0" r="1.65" fill="#d4d4d7" stroke="#c2c2c6" stroke-width="0.6"/>
<circle cx="158.7" cy="459.3" r="1.65" fill="#d4d4d7" stroke="#c2c2c6" stroke-width="0.6"/>
<circle cx="152.2" cy="460.3" r="1.65" fill="#d4d4d7" stroke="#c2c2c6" stroke-width="0.6"/>
<circle cx="106.5" cy="463.9" r="1.65" fill="#d4d4d7" stroke="#c2c2c6" stroke-width="0.6"/>
<circle cx="117.7" cy="466.8" r="1.65" fill="#d4d4d7" stroke="#c2c2c6" stroke-width="0.6"/>
<circle cx="112.3" cy="469.0" r="1.65" fill="#d4d4d7" stroke="#c2c2c6" stroke-width="0.6"/>
<circle cx="111.0" cy="453.1" r="1.65" fill="#d4d4d7" stroke="#c2c2c6" stroke-width="0.6"/>
<circle cx="151.4" cy="451.6" r="1.65" fill="#d4d4d7" stroke="#c2c2c6" stroke-width="0.6"/>
<circle cx="165.5" cy="448.5" r="1.65" fill="#d4d4d7" stroke="#c2c2c6" stroke-width="0.6"/>
<circle cx="160.0" cy="452.0" r="1.65" fill="#d4d4d7" stroke="#c2c2c6" stroke-width="0.6"/>
<circle cx="147.6" cy="472.3" r="1.65" fill="#d4d4d7" stroke="#c2c2c6" stroke-width="0.6"/>
<circle cx="151.9" cy="460.8" r="1.65" fill="#d4d4d7" stroke="#c2c2c6" stroke-width="0.6"/>
<circle cx="159.1" cy="461.5" r="1.65" fill="#d4d4d7" stroke="#c2c2c6" stroke-width="0.6"/>
<circle cx="110.0" cy="474.0" r="1.65" fill="#d4d4d7" stroke="#c2c2c6" stroke-width="0.6"/>
<circle cx="106.5" cy="478.0" r="1.65" fill="#d4d4d7" stroke="#c2c2c6" stroke-width="0.6"/>
<circle cx="108.0" cy="482.0" r="1.65" fill="#d4d4d7" stroke="#c2c2c6" stroke-width="0.6"/>
<circle cx="104.5" cy="486.0" r="1.65" fill="#d4d4d7" stroke="#c2c2c6" stroke-width="0.6"/>
<circle cx="163.0" cy="466.0" r="1.65" fill="#d4d4d7" stroke="#c2c2c6" stroke-width="0.6"/>
<circle cx="166.0" cy="462.0" r="1.65" fill="#d4d4d7" stroke="#c2c2c6" stroke-width="0.6"/>
<circle cx="144.0" cy="475.0" r="1.65" fill="#d4d4d7" stroke="#c2c2c6" stroke-width="0.6"/>
<circle cx="156.0" cy="466.0" r="1.65" fill="#d4d4d7" stroke="#c2c2c6" stroke-width="0.6"/>
<circle cx="149.0" cy="468.0" r="1.65" fill="#d4d4d7" stroke="#c2c2c6" stroke-width="0.6"/>
<circle cx="165.0" cy="456.0" r="1.65" fill="#d4d4d7" stroke="#c2c2c6" stroke-width="0.6"/>
<circle cx="168.0" cy="470.0" r="1.65" fill="#d4d4d7" stroke="#c2c2c6" stroke-width="0.6"/>
<circle cx="105.0" cy="495.0" r="1.65" fill="#d4d4d7" stroke="#c2c2c6" stroke-width="0.6"/>
<circle cx="104.5" cy="503.0" r="1.65" fill="#d4d4d7" stroke="#c2c2c6" stroke-width="0.6"/>
<circle cx="165.1" cy="487.6" r="1.65" fill="#d4d4d7" stroke="#c2c2c6" stroke-width="0.6"/>
<circle cx="145.9" cy="501.3" r="1.65" fill="#d4d4d7" stroke="#c2c2c6" stroke-width="0.6"/>
<circle cx="159.8" cy="489.8" r="1.65" fill="#d4d4d7" stroke="#c2c2c6" stroke-width="0.6"/>
<circle cx="146.6" cy="489.0" r="1.65" fill="#d4d4d7" stroke="#c2c2c6" stroke-width="0.6"/>
<circle cx="148.1" cy="487.2" r="1.65" fill="#d4d4d7" stroke="#c2c2c6" stroke-width="0.6"/>
<circle cx="151.0" cy="481.2" r="1.65" fill="#d4d4d7" stroke="#c2c2c6" stroke-width="0.6"/>
<circle cx="109.6" cy="500.2" r="1.65" fill="#d4d4d7" stroke="#c2c2c6" stroke-width="0.6"/>
<circle cx="160.0" cy="484.2" r="1.65" fill="#d4d4d7" stroke="#c2c2c6" stroke-width="0.6"/>
<circle cx="164.2" cy="487.7" r="1.65" fill="#d4d4d7" stroke="#c2c2c6" stroke-width="0.6"/>
<circle cx="156.8" cy="475.5" r="1.65" fill="#d4d4d7" stroke="#c2c2c6" stroke-width="0.6"/>
<circle cx="117.4" cy="498.7" r="1.65" fill="#d4d4d7" stroke="#c2c2c6" stroke-width="0.6"/>
<circle cx="124.8" cy="505.2" r="1.65" fill="#d4d4d7" stroke="#c2c2c6" stroke-width="0.6"/>
<circle cx="130.6" cy="503.9" r="1.65" fill="#d4d4d7" stroke="#c2c2c6" stroke-width="0.6"/>
<circle cx="121.8" cy="500.5" r="1.65" fill="#d4d4d7" stroke="#c2c2c6" stroke-width="0.6"/>
<circle cx="110.9" cy="492.5" r="1.65" fill="#d4d4d7" stroke="#c2c2c6" stroke-width="0.6"/>
<circle cx="144.1" cy="483.6" r="1.65" fill="#d4d4d7" stroke="#c2c2c6" stroke-width="0.6"/>
<circle cx="134.5" cy="508.3" r="1.65" fill="#d4d4d7" stroke="#c2c2c6" stroke-width="0.6"/>
<circle cx="161.3" cy="475.7" r="1.65" fill="#d4d4d7" stroke="#c2c2c6" stroke-width="0.6"/>
<circle cx="153.1" cy="507.5" r="1.65" fill="#d4d4d7" stroke="#c2c2c6" stroke-width="0.6"/>
<circle cx="144.2" cy="485.7" r="1.65" fill="#d4d4d7" stroke="#c2c2c6" stroke-width="0.6"/>
<circle cx="150.8" cy="478.8" r="1.65" fill="#d4d4d7" stroke="#c2c2c6" stroke-width="0.6"/>
<circle cx="158.5" cy="493.1" r="1.65" fill="#d4d4d7" stroke="#c2c2c6" stroke-width="0.6"/>
<circle cx="164.6" cy="476.6" r="1.65" fill="#d4d4d7" stroke="#c2c2c6" stroke-width="0.6"/>
<circle cx="147.7" cy="497.0" r="1.65" fill="#d4d4d7" stroke="#c2c2c6" stroke-width="0.6"/>
<circle cx="164.2" cy="497.4" r="1.65" fill="#d4d4d7" stroke="#c2c2c6" stroke-width="0.6"/>
<circle cx="146.4" cy="488.3" r="1.65" fill="#d4d4d7" stroke="#c2c2c6" stroke-width="0.6"/>
<circle cx="152.5" cy="481.4" r="1.65" fill="#d4d4d7" stroke="#c2c2c6" stroke-width="0.6"/>
<circle cx="140.5" cy="499.0" r="1.65" fill="#d4d4d7" stroke="#c2c2c6" stroke-width="0.6"/>
<circle cx="163.5" cy="499.0" r="1.65" fill="#d4d4d7" stroke="#c2c2c6" stroke-width="0.6"/>
<circle cx="150.7" cy="501.3" r="1.65" fill="#d4d4d7" stroke="#c2c2c6" stroke-width="0.6"/>
<circle cx="164.5" cy="482.8" r="1.65" fill="#d4d4d7" stroke="#c2c2c6" stroke-width="0.6"/>
<circle cx="149.5" cy="505.8" r="1.65" fill="#d4d4d7" stroke="#c2c2c6" stroke-width="0.6"/>
<circle cx="161.6" cy="485.5" r="1.65" fill="#d4d4d7" stroke="#c2c2c6" stroke-width="0.6"/>
<circle cx="156.4" cy="504.3" r="1.65" fill="#d4d4d7" stroke="#c2c2c6" stroke-width="0.6"/>
<circle cx="142.2" cy="494.2" r="1.65" fill="#d4d4d7" stroke="#c2c2c6" stroke-width="0.6"/>
<circle cx="162.2" cy="498.6" r="1.65" fill="#d4d4d7" stroke="#c2c2c6" stroke-width="0.6"/>
<circle cx="130.2" cy="498.9" r="1.65" fill="#d4d4d7" stroke="#c2c2c6" stroke-width="0.6"/>
<circle cx="144.1" cy="488.2" r="1.65" fill="#d4d4d7" stroke="#c2c2c6" stroke-width="0.6"/>
<circle cx="120.0" cy="497.3" r="1.65" fill="#d4d4d7" stroke="#c2c2c6" stroke-width="0.6"/>
<circle cx="144.9" cy="506.7" r="1.65" fill="#d4d4d7" stroke="#c2c2c6" stroke-width="0.6"/>
<circle cx="124.6" cy="496.5" r="1.65" fill="#d4d4d7" stroke="#c2c2c6" stroke-width="0.6"/>
<circle cx="133.7" cy="505.5" r="1.65" fill="#d4d4d7" stroke="#c2c2c6" stroke-width="0.6"/>
<circle cx="126.3" cy="496.0" r="1.65" fill="#d4d4d7" stroke="#c2c2c6" stroke-width="0.6"/>
<circle cx="133.0" cy="501.9" r="1.65" fill="#d4d4d7" stroke="#c2c2c6" stroke-width="0.6"/>
<circle cx="137.3" cy="503.2" r="1.65" fill="#d4d4d7" stroke="#c2c2c6" stroke-width="0.6"/>
<circle cx="160.2" cy="497.9" r="1.65" fill="#d4d4d7" stroke="#c2c2c6" stroke-width="0.6"/>
<circle cx="166.8" cy="479.6" r="1.65" fill="#d4d4d7" stroke="#c2c2c6" stroke-width="0.6"/>
<circle cx="147.6" cy="501.9" r="1.65" fill="#d4d4d7" stroke="#c2c2c6" stroke-width="0.6"/>
<circle cx="167.3" cy="496.7" r="1.65" fill="#d4d4d7" stroke="#c2c2c6" stroke-width="0.6"/>
<circle cx="127.5" cy="497.3" r="1.65" fill="#d4d4d7" stroke="#c2c2c6" stroke-width="0.6"/>
<circle cx="144.9" cy="499.8" r="1.65" fill="#d4d4d7" stroke="#c2c2c6" stroke-width="0.6"/>
<circle cx="130.6" cy="501.3" r="1.65" fill="#d4d4d7" stroke="#c2c2c6" stroke-width="0.6"/>
<circle cx="165.6" cy="498.3" r="1.65" fill="#d4d4d7" stroke="#c2c2c6" stroke-width="0.6"/>
<circle cx="145.7" cy="506.2" r="1.65" fill="#d4d4d7" stroke="#c2c2c6" stroke-width="0.6"/>
<circle cx="162.2" cy="501.5" r="1.65" fill="#d4d4d7" stroke="#c2c2c6" stroke-width="0.6"/>
<circle cx="166.4" cy="487.5" r="1.65" fill="#d4d4d7" stroke="#c2c2c6" stroke-width="0.6"/>
<circle cx="151.9" cy="502.4" r="1.65" fill="#d4d4d7" stroke="#c2c2c6" stroke-width="0.6"/>
<circle cx="146.7" cy="498.1" r="1.65" fill="#d4d4d7" stroke="#c2c2c6" stroke-width="0.6"/>
<circle cx="156.4" cy="481.5" r="1.65" fill="#d4d4d7" stroke="#c2c2c6" stroke-width="0.6"/>
<circle cx="154.9" cy="488.5" r="1.65" fill="#d4d4d7" stroke="#c2c2c6" stroke-width="0.6"/>
<circle cx="109.2" cy="501.6" r="1.65" fill="#d4d4d7" stroke="#c2c2c6" stroke-width="0.6"/>
<circle cx="126.8" cy="501.1" r="1.65" fill="#d4d4d7" stroke="#c2c2c6" stroke-width="0.6"/>
<circle cx="152.0" cy="503.3" r="1.65" fill="#d4d4d7" stroke="#c2c2c6" stroke-width="0.6"/>
<circle cx="149.8" cy="507.7" r="1.65" fill="#d4d4d7" stroke="#c2c2c6" stroke-width="0.6"/>
<circle cx="137.0" cy="507.9" r="1.65" fill="#d4d4d7" stroke="#c2c2c6" stroke-width="0.6"/>
<circle cx="152.4" cy="494.8" r="1.65" fill="#d4d4d7" stroke="#c2c2c6" stroke-width="0.6"/>
<circle cx="139.0" cy="503.4" r="1.65" fill="#d4d4d7" stroke="#c2c2c6" stroke-width="0.6"/>
<circle cx="118.1" cy="490.5" r="1.65" fill="#d4d4d7" stroke="#c2c2c6" stroke-width="0.6"/>
<circle cx="131.0" cy="501.6" r="1.65" fill="#d4d4d7" stroke="#c2c2c6" stroke-width="0.6"/>
<circle cx="113.4" cy="500.7" r="1.65" fill="#d4d4d7" stroke="#c2c2c6" stroke-width="0.6"/>
<circle cx="149.7" cy="481.5" r="1.65" fill="#d4d4d7" stroke="#c2c2c6" stroke-width="0.6"/>
<circle cx="111.8" cy="498.7" r="1.65" fill="#d4d4d7" stroke="#c2c2c6" stroke-width="0.6"/>
<circle cx="117.9" cy="490.3" r="1.65" fill="#d4d4d7" stroke="#c2c2c6" stroke-width="0.6"/>
<circle cx="139.4" cy="503.8" r="1.65" fill="#d4d4d7" stroke="#c2c2c6" stroke-width="0.6"/>
<circle cx="144.8" cy="504.0" r="1.65" fill="#d4d4d7" stroke="#c2c2c6" stroke-width="0.6"/>
<circle cx="163.7" cy="481.3" r="1.65" fill="#d4d4d7" stroke="#c2c2c6" stroke-width="0.6"/>
<circle cx="125.5" cy="506.8" r="1.65" fill="#d4d4d7" stroke="#c2c2c6" stroke-width="0.6"/>
<circle cx="152.2" cy="478.9" r="1.65" fill="#d4d4d7" stroke="#c2c2c6" stroke-width="0.6"/>
<circle cx="111.3" cy="503.0" r="1.65" fill="#d4d4d7" stroke="#c2c2c6" stroke-width="0.6"/>
<circle cx="156.3" cy="473.3" r="1.65" fill="#d4d4d7" stroke="#c2c2c6" stroke-width="0.6"/>
<circle cx="149.4" cy="506.3" r="1.65" fill="#d4d4d7" stroke="#c2c2c6" stroke-width="0.6"/>
<circle cx="137.9" cy="499.8" r="1.65" fill="#d4d4d7" stroke="#c2c2c6" stroke-width="0.6"/>
<circle cx="135.0" cy="500.1" r="1.65" fill="#d4d4d7" stroke="#c2c2c6" stroke-width="0.6"/>
<circle cx="150.6" cy="503.5" r="1.65" fill="#d4d4d7" stroke="#c2c2c6" stroke-width="0.6"/>
<circle cx="153.1" cy="485.0" r="1.65" fill="#d4d4d7" stroke="#c2c2c6" stroke-width="0.6"/>
<circle cx="163.1" cy="501.7" r="1.65" fill="#d4d4d7" stroke="#c2c2c6" stroke-width="0.6"/>
<circle cx="150.8" cy="504.2" r="1.65" fill="#d4d4d7" stroke="#c2c2c6" stroke-width="0.6"/>
<circle cx="145.9" cy="485.0" r="1.65" fill="#d4d4d7" stroke="#c2c2c6" stroke-width="0.6"/>
<circle cx="144.0" cy="489.2" r="1.65" fill="#d4d4d7" stroke="#c2c2c6" stroke-width="0.6"/>
<circle cx="155.6" cy="502.2" r="1.65" fill="#d4d4d7" stroke="#c2c2c6" stroke-width="0.6"/>
<circle cx="131.4" cy="505.7" r="1.65" fill="#d4d4d7" stroke="#c2c2c6" stroke-width="0.6"/>
<circle cx="162.2" cy="497.2" r="1.65" fill="#d4d4d7" stroke="#c2c2c6" stroke-width="0.6"/>
<circle cx="154.9" cy="500.1" r="1.65" fill="#d4d4d7" stroke="#c2c2c6" stroke-width="0.6"/>
<circle cx="131.4" cy="498.4" r="1.65" fill="#d4d4d7" stroke="#c2c2c6" stroke-width="0.6"/>
<circle cx="166.4" cy="496.0" r="1.65" fill="#d4d4d7" stroke="#c2c2c6" stroke-width="0.6"/>
<circle cx="127.0" cy="495.7" r="1.65" fill="#d4d4d7" stroke="#c2c2c6" stroke-width="0.6"/>
<circle cx="150.6" cy="500.0" r="1.65" fill="#d4d4d7" stroke="#c2c2c6" stroke-width="0.6"/>
<circle cx="145.0" cy="499.0" r="1.65" fill="#d4d4d7" stroke="#c2c2c6" stroke-width="0.6"/>
<circle cx="121.3" cy="506.0" r="1.65" fill="#d4d4d7" stroke="#c2c2c6" stroke-width="0.6"/>
<circle cx="138.0" cy="508.6" r="1.65" fill="#d4d4d7" stroke="#c2c2c6" stroke-width="0.6"/>
<circle cx="146.5" cy="502.0" r="1.65" fill="#d4d4d7" stroke="#c2c2c6" stroke-width="0.6"/>
<circle cx="166.4" cy="485.7" r="1.65" fill="#d4d4d7" stroke="#c2c2c6" stroke-width="0.6"/>
<circle cx="147.6" cy="491.5" r="1.65" fill="#d4d4d7" stroke="#c2c2c6" stroke-width="0.6"/>
<circle cx="123.4" cy="498.1" r="1.65" fill="#d4d4d7" stroke="#c2c2c6" stroke-width="0.6"/>
<circle cx="154.1" cy="484.4" r="1.65" fill="#d4d4d7" stroke="#c2c2c6" stroke-width="0.6"/>
<circle cx="163.3" cy="499.4" r="1.65" fill="#d4d4d7" stroke="#c2c2c6" stroke-width="0.6"/>
<circle cx="163.9" cy="486.0" r="1.65" fill="#d4d4d7" stroke="#c2c2c6" stroke-width="0.6"/>
<circle cx="165.9" cy="498.4" r="1.65" fill="#d4d4d7" stroke="#c2c2c6" stroke-width="0.6"/>
<circle cx="158.1" cy="493.4" r="1.65" fill="#d4d4d7" stroke="#c2c2c6" stroke-width="0.6"/>
<circle cx="112.5" cy="494.2" r="1.65" fill="#d4d4d7" stroke="#c2c2c6" stroke-width="0.6"/>
<circle cx="155.6" cy="490.3" r="1.65" fill="#d4d4d7" stroke="#c2c2c6" stroke-width="0.6"/>
<circle cx="152.7" cy="478.0" r="1.65" fill="#d4d4d7" stroke="#c2c2c6" stroke-width="0.6"/>
<circle cx="145.6" cy="483.1" r="1.65" fill="#d4d4d7" stroke="#c2c2c6" stroke-width="0.6"/>
<circle cx="122.6" cy="496.8" r="1.65" fill="#d4d4d7" stroke="#c2c2c6" stroke-width="0.6"/>
<circle cx="143.5" cy="494.6" r="1.65" fill="#d4d4d7" stroke="#c2c2c6" stroke-width="0.6"/>
<circle cx="154.0" cy="476.0" r="1.65" fill="#d4d4d7" stroke="#c2c2c6" stroke-width="0.6"/>
<circle cx="110.6" cy="496.4" r="1.65" fill="#d4d4d7" stroke="#c2c2c6" stroke-width="0.6"/>
<circle cx="146.0" cy="483.7" r="1.65" fill="#d4d4d7" stroke="#c2c2c6" stroke-width="0.6"/>
<circle cx="157.6" cy="494.2" r="1.65" fill="#d4d4d7" stroke="#c2c2c6" stroke-width="0.6"/>
<circle cx="155.0" cy="477.0" r="1.65" fill="#d4d4d7" stroke="#c2c2c6" stroke-width="0.6"/>
<circle cx="157.6" cy="483.5" r="1.65" fill="#d4d4d7" stroke="#c2c2c6" stroke-width="0.6"/>
<circle cx="153.5" cy="506.7" r="1.65" fill="#d4d4d7" stroke="#c2c2c6" stroke-width="0.6"/>
<circle cx="111.3" cy="504.8" r="1.65" fill="#d4d4d7" stroke="#c2c2c6" stroke-width="0.6"/>
<circle cx="110.4" cy="491.7" r="1.65" fill="#d4d4d7" stroke="#c2c2c6" stroke-width="0.6"/>
<circle cx="149.5" cy="480.6" r="1.65" fill="#d4d4d7" stroke="#c2c2c6" stroke-width="0.6"/>
<circle cx="118.9" cy="495.8" r="1.65" fill="#d4d4d7" stroke="#c2c2c6" stroke-width="0.6"/>
<circle cx="128.3" cy="498.5" r="1.65" fill="#d4d4d7" stroke="#c2c2c6" stroke-width="0.6"/>
<circle cx="112.6" cy="497.8" r="1.65" fill="#d4d4d7" stroke="#c2c2c6" stroke-width="0.6"/>
<circle cx="164.4" cy="486.4" r="1.65" fill="#d4d4d7" stroke="#c2c2c6" stroke-width="0.6"/>
<circle cx="157.2" cy="480.8" r="1.65" fill="#d4d4d7" stroke="#c2c2c6" stroke-width="0.6"/>
<circle cx="140.1" cy="503.1" r="1.65" fill="#d4d4d7" stroke="#c2c2c6" stroke-width="0.6"/>
<circle cx="154.3" cy="505.0" r="1.65" fill="#d4d4d7" stroke="#c2c2c6" stroke-width="0.6"/>
<circle cx="141.9" cy="508.6" r="1.65" fill="#d4d4d7" stroke="#c2c2c6" stroke-width="0.6"/>
<circle cx="147.3" cy="501.8" r="1.65" fill="#d4d4d7" stroke="#c2c2c6" stroke-width="0.6"/>
<circle cx="110.5" cy="494.6" r="1.65" fill="#d4d4d7" stroke="#c2c2c6" stroke-width="0.6"/>
<circle cx="153.5" cy="495.3" r="1.65" fill="#d4d4d7" stroke="#c2c2c6" stroke-width="0.6"/>
<circle cx="154.7" cy="489.9" r="1.65" fill="#d4d4d7" stroke="#c2c2c6" stroke-width="0.6"/>
<circle cx="154.7" cy="484.6" r="1.65" fill="#d4d4d7" stroke="#c2c2c6" stroke-width="0.6"/>
<circle cx="151.9" cy="497.7" r="1.65" fill="#d4d4d7" stroke="#c2c2c6" stroke-width="0.6"/>
<circle cx="164.5" cy="485.2" r="1.65" fill="#d4d4d7" stroke="#c2c2c6" stroke-width="0.6"/>
<circle cx="158.7" cy="496.0" r="1.65" fill="#d4d4d7" stroke="#c2c2c6" stroke-width="0.6"/>
<circle cx="160.5" cy="501.8" r="1.65" fill="#d4d4d7" stroke="#c2c2c6" stroke-width="0.6"/>
<circle cx="167.3" cy="494.9" r="1.65" fill="#d4d4d7" stroke="#c2c2c6" stroke-width="0.6"/>
<circle cx="139.1" cy="497.8" r="1.65" fill="#d4d4d7" stroke="#c2c2c6" stroke-width="0.6"/>
<circle cx="157.1" cy="485.7" r="1.65" fill="#d4d4d7" stroke="#c2c2c6" stroke-width="0.6"/>
<circle cx="124.0" cy="508.7" r="1.65" fill="#d4d4d7" stroke="#c2c2c6" stroke-width="0.6"/>
<circle cx="147.1" cy="500.6" r="1.65" fill="#d4d4d7" stroke="#c2c2c6" stroke-width="0.6"/>
<circle cx="151.6" cy="493.0" r="1.65" fill="#d4d4d7" stroke="#c2c2c6" stroke-width="0.6"/>
<circle cx="154.2" cy="481.1" r="1.65" fill="#d4d4d7" stroke="#c2c2c6" stroke-width="0.6"/>
<circle cx="140.6" cy="502.3" r="1.65" fill="#d4d4d7" stroke="#c2c2c6" stroke-width="0.6"/>
<circle cx="167.2" cy="488.3" r="1.65" fill="#d4d4d7" stroke="#c2c2c6" stroke-width="0.6"/>
<circle cx="156.8" cy="498.0" r="1.65" fill="#d4d4d7" stroke="#c2c2c6" stroke-width="0.6"/>
<circle cx="121.9" cy="504.5" r="1.65" fill="#d4d4d7" stroke="#c2c2c6" stroke-width="0.6"/>
<circle cx="114.8" cy="500.4" r="1.65" fill="#d4d4d7" stroke="#c2c2c6" stroke-width="0.6"/>
<circle cx="158.4" cy="503.5" r="1.65" fill="#d4d4d7" stroke="#c2c2c6" stroke-width="0.6"/>
<circle cx="122.5" cy="498.1" r="1.65" fill="#d4d4d7" stroke="#c2c2c6" stroke-width="0.6"/>
<circle cx="167.1" cy="492.6" r="1.65" fill="#d4d4d7" stroke="#c2c2c6" stroke-width="0.6"/>
<circle cx="160.7" cy="480.8" r="1.65" fill="#d4d4d7" stroke="#c2c2c6" stroke-width="0.6"/>
<circle cx="156.3" cy="485.5" r="1.65" fill="#d4d4d7" stroke="#c2c2c6" stroke-width="0.6"/>
<circle cx="158.7" cy="476.8" r="1.65" fill="#d4d4d7" stroke="#c2c2c6" stroke-width="0.6"/>
<circle cx="115.2" cy="502.9" r="1.65" fill="#d4d4d7" stroke="#c2c2c6" stroke-width="0.6"/>
<circle cx="151.5" cy="483.1" r="1.65" fill="#d4d4d7" stroke="#c2c2c6" stroke-width="0.6"/>
<circle cx="129.5" cy="497.8" r="1.65" fill="#d4d4d7" stroke="#c2c2c6" stroke-width="0.6"/>
<circle cx="157.0" cy="476.7" r="1.65" fill="#d4d4d7" stroke="#c2c2c6" stroke-width="0.6"/>
<circle cx="152.5" cy="481.8" r="1.65" fill="#d4d4d7" stroke="#c2c2c6" stroke-width="0.6"/>
<circle cx="166.4" cy="491.6" r="1.65" fill="#d4d4d7" stroke="#c2c2c6" stroke-width="0.6"/>
<circle cx="152.0" cy="481.9" r="1.65" fill="#d4d4d7" stroke="#c2c2c6" stroke-width="0.6"/>
<circle cx="149.1" cy="497.7" r="1.65" fill="#d4d4d7" stroke="#c2c2c6" stroke-width="0.6"/>
<circle cx="159.4" cy="492.9" r="1.65" fill="#d4d4d7" stroke="#c2c2c6" stroke-width="0.6"/>
<circle cx="164.8" cy="485.9" r="1.65" fill="#d4d4d7" stroke="#c2c2c6" stroke-width="0.6"/>
<circle cx="154.8" cy="502.5" r="1.65" fill="#d4d4d7" stroke="#c2c2c6" stroke-width="0.6"/>
<circle cx="147.9" cy="493.6" r="1.65" fill="#d4d4d7" stroke="#c2c2c6" stroke-width="0.6"/>
<circle cx="127.2" cy="495.3" r="1.65" fill="#d4d4d7" stroke="#c2c2c6" stroke-width="0.6"/>
<circle cx="156.3" cy="502.7" r="1.65" fill="#d4d4d7" stroke="#c2c2c6" stroke-width="0.6"/>
<circle cx="154.8" cy="505.9" r="1.65" fill="#d4d4d7" stroke="#c2c2c6" stroke-width="0.6"/>
<circle cx="138.5" cy="498.0" r="1.65" fill="#d4d4d7" stroke="#c2c2c6" stroke-width="0.6"/>
<circle cx="159.3" cy="476.3" r="1.65" fill="#d4d4d7" stroke="#c2c2c6" stroke-width="0.6"/>
<circle cx="166.4" cy="494.3" r="1.65" fill="#d4d4d7" stroke="#c2c2c6" stroke-width="0.6"/>
<circle cx="126.4" cy="507.0" r="1.65" fill="#d4d4d7" stroke="#c2c2c6" stroke-width="0.6"/>
<circle cx="163.8" cy="490.8" r="1.65" fill="#d4d4d7" stroke="#c2c2c6" stroke-width="0.6"/>
<circle cx="141.4" cy="491.5" r="1.65" fill="#d4d4d7" stroke="#c2c2c6" stroke-width="0.6"/>
<circle cx="158.1" cy="493.3" r="1.65" fill="#d4d4d7" stroke="#c2c2c6" stroke-width="0.6"/>
<circle cx="113.0" cy="502.6" r="1.65" fill="#d4d4d7" stroke="#c2c2c6" stroke-width="0.6"/>
<circle cx="163.3" cy="478.1" r="1.65" fill="#d4d4d7" stroke="#c2c2c6" stroke-width="0.6"/>
<circle cx="142.3" cy="502.9" r="1.65" fill="#d4d4d7" stroke="#c2c2c6" stroke-width="0.6"/>
<circle cx="117.1" cy="491.0" r="1.65" fill="#d4d4d7" stroke="#c2c2c6" stroke-width="0.6"/>
<circle cx="147.8" cy="480.9" r="1.65" fill="#d4d4d7" stroke="#c2c2c6" stroke-width="0.6"/>
<circle cx="148.6" cy="499.0" r="1.65" fill="#d4d4d7" stroke="#c2c2c6" stroke-width="0.6"/>
<circle cx="167.4" cy="493.2" r="1.65" fill="#d4d4d7" stroke="#c2c2c6" stroke-width="0.6"/>
<circle cx="145.5" cy="497.0" r="1.65" fill="#d4d4d7" stroke="#c2c2c6" stroke-width="0.6"/>
<circle cx="154.3" cy="499.6" r="1.65" fill="#d4d4d7" stroke="#c2c2c6" stroke-width="0.6"/>
<circle cx="141.8" cy="506.0" r="1.65" fill="#d4d4d7" stroke="#c2c2c6" stroke-width="0.6"/>
<circle cx="133.1" cy="506.0" r="1.65" fill="#d4d4d7" stroke="#c2c2c6" stroke-width="0.6"/>
<circle cx="152.2" cy="505.8" r="1.65" fill="#d4d4d7" stroke="#c2c2c6" stroke-width="0.6"/>
<circle cx="152.6" cy="493.1" r="1.65" fill="#d4d4d7" stroke="#c2c2c6" stroke-width="0.6"/>
<circle cx="153.9" cy="480.8" r="1.65" fill="#d4d4d7" stroke="#c2c2c6" stroke-width="0.6"/>
<circle cx="148.3" cy="504.4" r="1.65" fill="#d4d4d7" stroke="#c2c2c6" stroke-width="0.6"/>
<circle cx="132.4" cy="501.8" r="1.65" fill="#d4d4d7" stroke="#c2c2c6" stroke-width="0.6"/>
<circle cx="119.4" cy="499.4" r="1.65" fill="#d4d4d7" stroke="#c2c2c6" stroke-width="0.6"/>
<circle cx="156.5" cy="473.2" r="1.65" fill="#d4d4d7" stroke="#c2c2c6" stroke-width="0.6"/>
<circle cx="139.9" cy="507.9" r="1.65" fill="#d4d4d7" stroke="#c2c2c6" stroke-width="0.6"/>
<circle cx="158.0" cy="484.7" r="1.65" fill="#d4d4d7" stroke="#c2c2c6" stroke-width="0.6"/>
<circle cx="163.4" cy="480.9" r="1.65" fill="#d4d4d7" stroke="#c2c2c6" stroke-width="0.6"/>
<circle cx="137.4" cy="507.2" r="1.65" fill="#d4d4d7" stroke="#c2c2c6" stroke-width="0.6"/>
<circle cx="117.7" cy="503.2" r="1.65" fill="#d4d4d7" stroke="#c2c2c6" stroke-width="0.6"/>
<circle cx="118.1" cy="494.6" r="1.65" fill="#d4d4d7" stroke="#c2c2c6" stroke-width="0.6"/>
<circle cx="111.9" cy="498.5" r="1.65" fill="#d4d4d7" stroke="#c2c2c6" stroke-width="0.6"/>
<circle cx="151.4" cy="473.7" r="1.65" fill="#d4d4d7" stroke="#c2c2c6" stroke-width="0.6"/>
<circle cx="150.2" cy="507.4" r="1.65" fill="#d4d4d7" stroke="#c2c2c6" stroke-width="0.6"/>
<circle cx="151.2" cy="476.3" r="1.65" fill="#d4d4d7" stroke="#c2c2c6" stroke-width="0.6"/>
<circle cx="148.2" cy="501.2" r="1.65" fill="#d4d4d7" stroke="#c2c2c6" stroke-width="0.6"/>
<circle cx="162.5" cy="492.8" r="1.65" fill="#d4d4d7" stroke="#c2c2c6" stroke-width="0.6"/>
<circle cx="165.2" cy="496.0" r="1.65" fill="#d4d4d7" stroke="#c2c2c6" stroke-width="0.6"/>
<circle cx="123.0" cy="494.9" r="1.65" fill="#d4d4d7" stroke="#c2c2c6" stroke-width="0.6"/>
<circle cx="123.5" cy="499.7" r="1.65" fill="#d4d4d7" stroke="#c2c2c6" stroke-width="0.6"/>
<circle cx="153.8" cy="484.2" r="1.65" fill="#d4d4d7" stroke="#c2c2c6" stroke-width="0.6"/>
<circle cx="165.4" cy="489.0" r="1.65" fill="#d4d4d7" stroke="#c2c2c6" stroke-width="0.6"/>
<circle cx="155.9" cy="489.7" r="1.65" fill="#d4d4d7" stroke="#c2c2c6" stroke-width="0.6"/>
<circle cx="137.9" cy="503.5" r="1.65" fill="#d4d4d7" stroke="#c2c2c6" stroke-width="0.6"/>
<circle cx="149.5" cy="489.9" r="1.65" fill="#d4d4d7" stroke="#c2c2c6" stroke-width="0.6"/>
<circle cx="155.7" cy="474.9" r="1.65" fill="#d4d4d7" stroke="#c2c2c6" stroke-width="0.6"/>
<circle cx="133.6" cy="500.5" r="1.65" fill="#d4d4d7" stroke="#c2c2c6" stroke-width="0.6"/>
<circle cx="156.1" cy="501.2" r="1.65" fill="#d4d4d7" stroke="#c2c2c6" stroke-width="0.6"/>
<circle cx="119.4" cy="492.4" r="1.65" fill="#d4d4d7" stroke="#c2c2c6" stroke-width="0.6"/>
<circle cx="151.5" cy="492.1" r="1.65" fill="#d4d4d7" stroke="#c2c2c6" stroke-width="0.6"/>
<circle cx="161.7" cy="475.6" r="1.65" fill="#d4d4d7" stroke="#c2c2c6" stroke-width="0.6"/>
<circle cx="164.0" cy="491.9" r="1.65" fill="#d4d4d7" stroke="#c2c2c6" stroke-width="0.6"/>
<circle cx="140.3" cy="501.2" r="1.65" fill="#d4d4d7" stroke="#c2c2c6" stroke-width="0.6"/>
<circle cx="125.4" cy="494.1" r="1.65" fill="#d4d4d7" stroke="#c2c2c6" stroke-width="0.6"/>
<circle cx="122.2" cy="492.7" r="1.65" fill="#d4d4d7" stroke="#c2c2c6" stroke-width="0.6"/>
<circle cx="158.3" cy="475.2" r="1.65" fill="#d4d4d7" stroke="#c2c2c6" stroke-width="0.6"/>
<circle cx="149.9" cy="502.9" r="1.65" fill="#d4d4d7" stroke="#c2c2c6" stroke-width="0.6"/>
<circle cx="119.1" cy="508.8" r="1.65" fill="#d4d4d7" stroke="#c2c2c6" stroke-width="0.6"/>
<circle cx="136.8" cy="500.0" r="1.65" fill="#d4d4d7" stroke="#c2c2c6" stroke-width="0.6"/>
<circle cx="134.6" cy="499.3" r="1.65" fill="#d4d4d7" stroke="#c2c2c6" stroke-width="0.6"/>
<circle cx="162.9" cy="473.9" r="1.65" fill="#d4d4d7" stroke="#c2c2c6" stroke-width="0.6"/>
<circle cx="154.6" cy="498.8" r="1.65" fill="#d4d4d7" stroke="#c2c2c6" stroke-width="0.6"/>
<circle cx="135.0" cy="507.2" r="1.65" fill="#d4d4d7" stroke="#c2c2c6" stroke-width="0.6"/>
<circle cx="143.4" cy="505.2" r="1.65" fill="#d4d4d7" stroke="#c2c2c6" stroke-width="0.6"/>
<circle cx="159.8" cy="484.0" r="1.65" fill="#d4d4d7" stroke="#c2c2c6" stroke-width="0.6"/>
<circle cx="155.8" cy="477.0" r="1.65" fill="#d4d4d7" stroke="#c2c2c6" stroke-width="0.6"/>
<circle cx="149.1" cy="504.2" r="1.65" fill="#d4d4d7" stroke="#c2c2c6" stroke-width="0.6"/>
<circle cx="109.7" cy="497.0" r="1.65" fill="#d4d4d7" stroke="#c2c2c6" stroke-width="0.6"/>
<circle cx="130.5" cy="506.8" r="1.65" fill="#d4d4d7" stroke="#c2c2c6" stroke-width="0.6"/>
<circle cx="151.5" cy="479.3" r="1.65" fill="#d4d4d7" stroke="#c2c2c6" stroke-width="0.6"/>
<circle cx="165.9" cy="483.1" r="1.65" fill="#d4d4d7" stroke="#c2c2c6" stroke-width="0.6"/>
<circle cx="154.8" cy="498.4" r="1.65" fill="#d4d4d7" stroke="#c2c2c6" stroke-width="0.6"/>
<circle cx="110.4" cy="505.1" r="1.65" fill="#d4d4d7" stroke="#c2c2c6" stroke-width="0.6"/>
<circle cx="155.1" cy="489.8" r="1.65" fill="#d4d4d7" stroke="#c2c2c6" stroke-width="0.6"/>
<circle cx="114.8" cy="493.0" r="1.65" fill="#d4d4d7" stroke="#c2c2c6" stroke-width="0.6"/>
<circle cx="150.9" cy="478.9" r="1.65" fill="#d4d4d7" stroke="#c2c2c6" stroke-width="0.6"/>
<circle cx="152.2" cy="496.0" r="1.65" fill="#d4d4d7" stroke="#c2c2c6" stroke-width="0.6"/>
<circle cx="123.2" cy="497.9" r="1.65" fill="#d4d4d7" stroke="#c2c2c6" stroke-width="0.6"/>
<circle cx="130.1" cy="504.4" r="1.65" fill="#d4d4d7" stroke="#c2c2c6" stroke-width="0.6"/>
<circle cx="146.0" cy="491.8" r="1.65" fill="#d4d4d7" stroke="#c2c2c6" stroke-width="0.6"/>
<circle cx="120.2" cy="494.6" r="1.65" fill="#d4d4d7" stroke="#c2c2c6" stroke-width="0.6"/>
<circle cx="115.8" cy="495.9" r="1.65" fill="#d4d4d7" stroke="#c2c2c6" stroke-width="0.6"/>
<circle cx="142.9" cy="497.5" r="1.65" fill="#d4d4d7" stroke="#c2c2c6" stroke-width="0.6"/>
<circle cx="141.0" cy="497.4" r="1.65" fill="#d4d4d7" stroke="#c2c2c6" stroke-width="0.6"/>
<circle cx="127.6" cy="505.5" r="1.65" fill="#d4d4d7" stroke="#c2c2c6" stroke-width="0.6"/>
<circle cx="122.0" cy="496.1" r="1.65" fill="#d4d4d7" stroke="#c2c2c6" stroke-width="0.6"/>
<circle cx="167.1" cy="483.2" r="1.65" fill="#d4d4d7" stroke="#c2c2c6" stroke-width="0.6"/>
<circle cx="142.5" cy="507.6" r="1.65" fill="#d4d4d7" stroke="#c2c2c6" stroke-width="0.6"/>
<circle cx="155.1" cy="494.3" r="1.65" fill="#d4d4d7" stroke="#c2c2c6" stroke-width="0.6"/>
<circle cx="145.4" cy="485.3" r="1.65" fill="#d4d4d7" stroke="#c2c2c6" stroke-width="0.6"/>
<circle cx="129.8" cy="506.2" r="1.65" fill="#d4d4d7" stroke="#c2c2c6" stroke-width="0.6"/>
<circle cx="149.2" cy="477.9" r="1.65" fill="#d4d4d7" stroke="#c2c2c6" stroke-width="0.6"/>
<circle cx="140.6" cy="494.2" r="1.65" fill="#d4d4d7" stroke="#c2c2c6" stroke-width="0.6"/>
<circle cx="141.4" cy="502.9" r="1.65" fill="#d4d4d7" stroke="#c2c2c6" stroke-width="0.6"/>
<circle cx="127.5" cy="505.2" r="1.65" fill="#d4d4d7" stroke="#c2c2c6" stroke-width="0.6"/>
<circle cx="151.5" cy="497.2" r="1.65" fill="#d4d4d7" stroke="#c2c2c6" stroke-width="0.6"/>
<circle cx="149.6" cy="508.5" r="1.65" fill="#d4d4d7" stroke="#c2c2c6" stroke-width="0.6"/>
<circle cx="158.6" cy="474.7" r="1.65" fill="#d4d4d7" stroke="#c2c2c6" stroke-width="0.6"/>
<circle cx="145.4" cy="488.6" r="1.65" fill="#d4d4d7" stroke="#c2c2c6" stroke-width="0.6"/>
<circle cx="123.6" cy="499.5" r="1.65" fill="#d4d4d7" stroke="#c2c2c6" stroke-width="0.6"/>
<circle cx="111.6" cy="497.6" r="1.65" fill="#d4d4d7" stroke="#c2c2c6" stroke-width="0.6"/>
<circle cx="134.4" cy="500.4" r="1.65" fill="#d4d4d7" stroke="#c2c2c6" stroke-width="0.6"/>
<circle cx="138.0" cy="501.5" r="1.65" fill="#d4d4d7" stroke="#c2c2c6" stroke-width="0.6"/>
<circle cx="130.5" cy="498.1" r="1.65" fill="#d4d4d7" stroke="#c2c2c6" stroke-width="0.6"/>
<circle cx="121.4" cy="498.1" r="1.65" fill="#d4d4d7" stroke="#c2c2c6" stroke-width="0.6"/>
<circle cx="158.9" cy="491.8" r="1.65" fill="#d4d4d7" stroke="#c2c2c6" stroke-width="0.6"/>
<circle cx="145.5" cy="502.9" r="1.65" fill="#d4d4d7" stroke="#c2c2c6" stroke-width="0.6"/>
<circle cx="157.1" cy="473.3" r="1.65" fill="#d4d4d7" stroke="#c2c2c6" stroke-width="0.6"/>
<circle cx="113.7" cy="496.9" r="1.65" fill="#d4d4d7" stroke="#c2c2c6" stroke-width="0.6"/>
<circle cx="146.0" cy="484.7" r="1.65" fill="#d4d4d7" stroke="#c2c2c6" stroke-width="0.6"/>
<circle cx="145.2" cy="500.1" r="1.65" fill="#d4d4d7" stroke="#c2c2c6" stroke-width="0.6"/>
<circle cx="150.1" cy="490.9" r="1.65" fill="#d4d4d7" stroke="#c2c2c6" stroke-width="0.6"/>
<circle cx="157.0" cy="474.2" r="1.65" fill="#d4d4d7" stroke="#c2c2c6" stroke-width="0.6"/>
<circle cx="165.7" cy="478.6" r="1.65" fill="#d4d4d7" stroke="#c2c2c6" stroke-width="0.6"/>
<circle cx="145.6" cy="479.5" r="1.65" fill="#d4d4d7" stroke="#c2c2c6" stroke-width="0.6"/>
<circle cx="163.0" cy="481.0" r="1.65" fill="#d4d4d7" stroke="#c2c2c6" stroke-width="0.6"/>
<circle cx="118.1" cy="504.4" r="1.65" fill="#d4d4d7" stroke="#c2c2c6" stroke-width="0.6"/>
<circle cx="131.9" cy="501.9" r="1.65" fill="#d4d4d7" stroke="#c2c2c6" stroke-width="0.6"/>
<circle cx="140.8" cy="495.6" r="1.65" fill="#d4d4d7" stroke="#c2c2c6" stroke-width="0.6"/>
<circle cx="145.5" cy="479.6" r="1.65" fill="#d4d4d7" stroke="#c2c2c6" stroke-width="0.6"/>
<circle cx="159.2" cy="498.4" r="1.65" fill="#d4d4d7" stroke="#c2c2c6" stroke-width="0.6"/>
<circle cx="154.0" cy="481.0" r="1.65" fill="#d4d4d7" stroke="#c2c2c6" stroke-width="0.6"/>
<circle cx="118.7" cy="508.3" r="1.65" fill="#d4d4d7" stroke="#c2c2c6" stroke-width="0.6"/>
<circle cx="139.3" cy="502.0" r="1.65" fill="#d4d4d7" stroke="#c2c2c6" stroke-width="0.6"/>
<circle cx="156.5" cy="498.9" r="1.65" fill="#d4d4d7" stroke="#c2c2c6" stroke-width="0.6"/>
<circle cx="131.0" cy="501.7" r="1.65" fill="#d4d4d7" stroke="#c2c2c6" stroke-width="0.6"/>
<circle cx="158.8" cy="500.2" r="1.65" fill="#d4d4d7" stroke="#c2c2c6" stroke-width="0.6"/>
<circle cx="166.8" cy="484.9" r="1.65" fill="#d4d4d7" stroke="#c2c2c6" stroke-width="0.6"/>
<circle cx="150.8" cy="478.5" r="1.65" fill="#d4d4d7" stroke="#c2c2c6" stroke-width="0.6"/>
<circle cx="147.7" cy="502.1" r="1.65" fill="#d4d4d7" stroke="#c2c2c6" stroke-width="0.6"/>
<circle cx="163.8" cy="481.5" r="1.65" fill="#d4d4d7" stroke="#c2c2c6" stroke-width="0.6"/>
<circle cx="153.2" cy="476.9" r="1.65" fill="#d4d4d7" stroke="#c2c2c6" stroke-width="0.6"/>
<circle cx="153.3" cy="490.9" r="1.65" fill="#d4d4d7" stroke="#c2c2c6" stroke-width="0.6"/>
<circle cx="149.2" cy="475.4" r="1.65" fill="#d4d4d7" stroke="#c2c2c6" stroke-width="0.6"/>
<circle cx="139.9" cy="508.0" r="1.65" fill="#d4d4d7" stroke="#c2c2c6" stroke-width="0.6"/>
<circle cx="118.3" cy="505.0" r="1.65" fill="#d4d4d7" stroke="#c2c2c6" stroke-width="0.6"/>
<circle cx="154.0" cy="472.6" r="1.65" fill="#d4d4d7" stroke="#c2c2c6" stroke-width="0.6"/>
<circle cx="149.0" cy="507.8" r="1.65" fill="#d4d4d7" stroke="#c2c2c6" stroke-width="0.6"/>
<circle cx="114.6" cy="494.7" r="1.65" fill="#d4d4d7" stroke="#c2c2c6" stroke-width="0.6"/>
<circle cx="145.1" cy="505.3" r="1.65" fill="#d4d4d7" stroke="#c2c2c6" stroke-width="0.6"/>
<circle cx="160.7" cy="494.4" r="1.65" fill="#d4d4d7" stroke="#c2c2c6" stroke-width="0.6"/>
<circle cx="120.0" cy="493.2" r="1.65" fill="#d4d4d7" stroke="#c2c2c6" stroke-width="0.6"/>
<circle cx="145.8" cy="486.8" r="1.65" fill="#d4d4d7" stroke="#c2c2c6" stroke-width="0.6"/>
<circle cx="143.6" cy="493.0" r="1.65" fill="#d4d4d7" stroke="#c2c2c6" stroke-width="0.6"/>
<circle cx="153.0" cy="481.1" r="1.65" fill="#d4d4d7" stroke="#c2c2c6" stroke-width="0.6"/>
<circle cx="131.1" cy="504.4" r="1.65" fill="#d4d4d7" stroke="#c2c2c6" stroke-width="0.6"/>
<circle cx="159.6" cy="495.3" r="1.65" fill="#d4d4d7" stroke="#c2c2c6" stroke-width="0.6"/>
<circle cx="156.8" cy="489.5" r="1.65" fill="#d4d4d7" stroke="#c2c2c6" stroke-width="0.6"/>
<circle cx="161.6" cy="497.9" r="1.65" fill="#d4d4d7" stroke="#c2c2c6" stroke-width="0.6"/>
<circle cx="121.3" cy="501.9" r="1.65" fill="#d4d4d7" stroke="#c2c2c6" stroke-width="0.6"/>
<circle cx="139.9" cy="504.4" r="1.65" fill="#d4d4d7" stroke="#c2c2c6" stroke-width="0.6"/>
<circle cx="141.1" cy="501.1" r="1.65" fill="#d4d4d7" stroke="#c2c2c6" stroke-width="0.6"/>
<circle cx="157.0" cy="503.9" r="1.65" fill="#d4d4d7" stroke="#c2c2c6" stroke-width="0.6"/>
<circle cx="155.1" cy="491.1" r="1.65" fill="#d4d4d7" stroke="#c2c2c6" stroke-width="0.6"/>
<circle cx="130.3" cy="503.7" r="1.65" fill="#d4d4d7" stroke="#c2c2c6" stroke-width="0.6"/>
<circle cx="145.1" cy="505.9" r="1.65" fill="#d4d4d7" stroke="#c2c2c6" stroke-width="0.6"/>
<circle cx="152.3" cy="476.3" r="1.65" fill="#d4d4d7" stroke="#c2c2c6" stroke-width="0.6"/>
<circle cx="148.4" cy="486.1" r="1.65" fill="#d4d4d7" stroke="#c2c2c6" stroke-width="0.6"/>
<circle cx="125.5" cy="494.4" r="1.65" fill="#d4d4d7" stroke="#c2c2c6" stroke-width="0.6"/>
<circle cx="144.2" cy="497.2" r="1.65" fill="#d4d4d7" stroke="#c2c2c6" stroke-width="0.6"/>
<circle cx="150.1" cy="487.6" r="1.65" fill="#d4d4d7" stroke="#c2c2c6" stroke-width="0.6"/>
<circle cx="166.2" cy="493.6" r="1.65" fill="#d4d4d7" stroke="#c2c2c6" stroke-width="0.6"/>
<circle cx="152.9" cy="483.1" r="1.65" fill="#d4d4d7" stroke="#c2c2c6" stroke-width="0.6"/>
<circle cx="114.5" cy="494.5" r="1.65" fill="#d4d4d7" stroke="#c2c2c6" stroke-width="0.6"/>
<circle cx="158.3" cy="485.2" r="1.65" fill="#d4d4d7" stroke="#c2c2c6" stroke-width="0.6"/>
<circle cx="166.2" cy="482.5" r="1.65" fill="#d4d4d7" stroke="#c2c2c6" stroke-width="0.6"/>
<circle cx="150.7" cy="477.9" r="1.65" fill="#d4d4d7" stroke="#c2c2c6" stroke-width="0.6"/>
<circle cx="161.7" cy="480.0" r="1.65" fill="#d4d4d7" stroke="#c2c2c6" stroke-width="0.6"/>
<circle cx="160.5" cy="496.4" r="1.65" fill="#d4d4d7" stroke="#c2c2c6" stroke-width="0.6"/>
<circle cx="134.6" cy="507.2" r="1.65" fill="#d4d4d7" stroke="#c2c2c6" stroke-width="0.6"/>
<circle cx="130.2" cy="499.2" r="1.65" fill="#d4d4d7" stroke="#c2c2c6" stroke-width="0.6"/>
<circle cx="144.1" cy="486.8" r="1.65" fill="#d4d4d7" stroke="#c2c2c6" stroke-width="0.6"/>
<circle cx="150.2" cy="496.2" r="1.65" fill="#d4d4d7" stroke="#c2c2c6" stroke-width="0.6"/>
<circle cx="113.6" cy="505.6" r="1.65" fill="#d4d4d7" stroke="#c2c2c6" stroke-width="0.6"/>
<circle cx="158.3" cy="503.7" r="1.65" fill="#d4d4d7" stroke="#c2c2c6" stroke-width="0.6"/>
<circle cx="143.4" cy="490.9" r="1.65" fill="#d4d4d7" stroke="#c2c2c6" stroke-width="0.6"/>
<circle cx="111.5" cy="505.7" r="1.65" fill="#d4d4d7" stroke="#c2c2c6" stroke-width="0.6"/>
<circle cx="152.0" cy="496.1" r="1.65" fill="#d4d4d7" stroke="#c2c2c6" stroke-width="0.6"/>
<circle cx="148.6" cy="493.4" r="1.65" fill="#d4d4d7" stroke="#c2c2c6" stroke-width="0.6"/>
<circle cx="158.9" cy="495.3" r="1.65" fill="#d4d4d7" stroke="#c2c2c6" stroke-width="0.6"/>
<circle cx="153.2" cy="478.6" r="1.65" fill="#d4d4d7" stroke="#c2c2c6" stroke-width="0.6"/>
<circle cx="157.7" cy="498.7" r="1.65" fill="#d4d4d7" stroke="#c2c2c6" stroke-width="0.6"/>
<circle cx="155.4" cy="473.0" r="1.65" fill="#d4d4d7" stroke="#c2c2c6" stroke-width="0.6"/>
<circle cx="156.3" cy="480.7" r="1.65" fill="#d4d4d7" stroke="#c2c2c6" stroke-width="0.6"/>
<circle cx="124.1" cy="500.7" r="1.65" fill="#d4d4d7" stroke="#c2c2c6" stroke-width="0.6"/>
<circle cx="160.3" cy="474.5" r="1.65" fill="#d4d4d7" stroke="#c2c2c6" stroke-width="0.6"/>
<circle cx="151.3" cy="474.6" r="1.65" fill="#d4d4d7" stroke="#c2c2c6" stroke-width="0.6"/>
<circle cx="164.7" cy="481.8" r="1.65" fill="#d4d4d7" stroke="#c2c2c6" stroke-width="0.6"/>
<circle cx="163.8" cy="484.6" r="1.65" fill="#d4d4d7" stroke="#c2c2c6" stroke-width="0.6"/>
<circle cx="124.5" cy="499.1" r="1.65" fill="#d4d4d7" stroke="#c2c2c6" stroke-width="0.6"/>
<circle cx="153.7" cy="488.5" r="1.65" fill="#d4d4d7" stroke="#c2c2c6" stroke-width="0.6"/>
<circle cx="143.6" cy="508.4" r="1.65" fill="#d4d4d7" stroke="#c2c2c6" stroke-width="0.6"/>
<circle cx="144.6" cy="492.8" r="1.65" fill="#d4d4d7" stroke="#c2c2c6" stroke-width="0.6"/>
<circle cx="138.6" cy="499.7" r="1.65" fill="#d4d4d7" stroke="#c2c2c6" stroke-width="0.6"/>
<circle cx="156.7" cy="485.9" r="1.65" fill="#d4d4d7" stroke="#c2c2c6" stroke-width="0.6"/>
<circle cx="160.9" cy="484.9" r="1.65" fill="#d4d4d7" stroke="#c2c2c6" stroke-width="0.6"/>
<circle cx="123.6" cy="496.6" r="1.65" fill="#d4d4d7" stroke="#c2c2c6" stroke-width="0.6"/>
<circle cx="158.3" cy="501.1" r="1.65" fill="#d4d4d7" stroke="#c2c2c6" stroke-width="0.6"/>
<circle cx="145.6" cy="491.2" r="1.65" fill="#d4d4d7" stroke="#c2c2c6" stroke-width="0.6"/>
<circle cx="165.3" cy="494.8" r="1.65" fill="#d4d4d7" stroke="#c2c2c6" stroke-width="0.6"/>
<circle cx="153.9" cy="492.4" r="1.65" fill="#d4d4d7" stroke="#c2c2c6" stroke-width="0.6"/>
<circle cx="109.9" cy="500.8" r="1.65" fill="#d4d4d7" stroke="#c2c2c6" stroke-width="0.6"/>
<circle cx="153.9" cy="483.9" r="1.65" fill="#d4d4d7" stroke="#c2c2c6" stroke-width="0.6"/>
<circle cx="167.0" cy="491.5" r="1.65" fill="#d4d4d7" stroke="#c2c2c6" stroke-width="0.6"/>
<circle cx="164.9" cy="476.9" r="1.65" fill="#d4d4d7" stroke="#c2c2c6" stroke-width="0.6"/>
<circle cx="159.6" cy="473.2" r="1.65" fill="#d4d4d7" stroke="#c2c2c6" stroke-width="0.6"/>
<circle cx="161.8" cy="487.8" r="1.65" fill="#d4d4d7" stroke="#c2c2c6" stroke-width="0.6"/>
<circle cx="165.3" cy="488.7" r="1.65" fill="#d4d4d7" stroke="#c2c2c6" stroke-width="0.6"/>
<circle cx="149.8" cy="484.3" r="1.65" fill="#d4d4d7" stroke="#c2c2c6" stroke-width="0.6"/>
<circle cx="155.6" cy="472.4" r="1.65" fill="#d4d4d7" stroke="#c2c2c6" stroke-width="0.6"/>
<circle cx="153.3" cy="475.0" r="1.65" fill="#d4d4d7" stroke="#c2c2c6" stroke-width="0.6"/>
<circle cx="142.3" cy="503.4" r="1.65" fill="#d4d4d7" stroke="#c2c2c6" stroke-width="0.6"/>
<circle cx="126.3" cy="497.3" r="1.65" fill="#d4d4d7" stroke="#c2c2c6" stroke-width="0.6"/>
<circle cx="122.0" cy="498.7" r="1.65" fill="#d4d4d7" stroke="#c2c2c6" stroke-width="0.6"/>
<circle cx="158.6" cy="483.9" r="1.65" fill="#d4d4d7" stroke="#c2c2c6" stroke-width="0.6"/>
<circle cx="151.6" cy="486.2" r="1.65" fill="#d4d4d7" stroke="#c2c2c6" stroke-width="0.6"/>
<circle cx="145.1" cy="491.5" r="1.65" fill="#d4d4d7" stroke="#c2c2c6" stroke-width="0.6"/>
<circle cx="120.0" cy="499.6" r="1.65" fill="#d4d4d7" stroke="#c2c2c6" stroke-width="0.6"/>
<circle cx="124.9" cy="503.6" r="1.65" fill="#d4d4d7" stroke="#c2c2c6" stroke-width="0.6"/>
<circle cx="150.4" cy="491.9" r="1.65" fill="#d4d4d7" stroke="#c2c2c6" stroke-width="0.6"/>
<circle cx="157.4" cy="472.1" r="1.65" fill="#d4d4d7" stroke="#c2c2c6" stroke-width="0.6"/>
<circle cx="156.0" cy="477.2" r="1.65" fill="#d4d4d7" stroke="#c2c2c6" stroke-width="0.6"/>
<circle cx="112.9" cy="500.1" r="1.65" fill="#d4d4d7" stroke="#c2c2c6" stroke-width="0.6"/>
<circle cx="149.8" cy="483.3" r="1.65" fill="#d4d4d7" stroke="#c2c2c6" stroke-width="0.6"/>
<circle cx="138.1" cy="504.7" r="1.65" fill="#d4d4d7" stroke="#c2c2c6" stroke-width="0.6"/>
<circle cx="144.6" cy="490.8" r="1.65" fill="#d4d4d7" stroke="#c2c2c6" stroke-width="0.6"/>
<circle cx="152.7" cy="490.5" r="1.65" fill="#d4d4d7" stroke="#c2c2c6" stroke-width="0.6"/>
<circle cx="147.9" cy="506.6" r="1.65" fill="#d4d4d7" stroke="#c2c2c6" stroke-width="0.6"/>
<circle cx="155.4" cy="478.9" r="1.65" fill="#d4d4d7" stroke="#c2c2c6" stroke-width="0.6"/>
<circle cx="128.6" cy="501.1" r="1.65" fill="#d4d4d7" stroke="#c2c2c6" stroke-width="0.6"/>
<circle cx="152.4" cy="507.6" r="1.65" fill="#d4d4d7" stroke="#c2c2c6" stroke-width="0.6"/>
<circle cx="166.1" cy="495.6" r="1.65" fill="#d4d4d7" stroke="#c2c2c6" stroke-width="0.6"/>
<circle cx="109.7" cy="505.9" r="1.65" fill="#d4d4d7" stroke="#c2c2c6" stroke-width="0.6"/>
<circle cx="160.6" cy="501.0" r="1.65" fill="#d4d4d7" stroke="#c2c2c6" stroke-width="0.6"/>
<circle cx="150.8" cy="485.5" r="1.65" fill="#d4d4d7" stroke="#c2c2c6" stroke-width="0.6"/>
<circle cx="149.6" cy="493.7" r="1.65" fill="#d4d4d7" stroke="#c2c2c6" stroke-width="0.6"/>
<circle cx="144.9" cy="507.2" r="1.65" fill="#d4d4d7" stroke="#c2c2c6" stroke-width="0.6"/>
<circle cx="158.9" cy="496.9" r="1.65" fill="#d4d4d7" stroke="#c2c2c6" stroke-width="0.6"/>
<circle cx="154.2" cy="501.9" r="1.65" fill="#d4d4d7" stroke="#c2c2c6" stroke-width="0.6"/>
<circle cx="159.2" cy="485.1" r="1.65" fill="#d4d4d7" stroke="#c2c2c6" stroke-width="0.6"/>
<circle cx="122.0" cy="492.6" r="1.65" fill="#d4d4d7" stroke="#c2c2c6" stroke-width="0.6"/>
<circle cx="126.8" cy="496.3" r="1.65" fill="#d4d4d7" stroke="#c2c2c6" stroke-width="0.6"/>
<circle cx="120.2" cy="505.0" r="1.65" fill="#d4d4d7" stroke="#c2c2c6" stroke-width="0.6"/>
<circle cx="136.1" cy="500.9" r="1.65" fill="#d4d4d7" stroke="#c2c2c6" stroke-width="0.6"/>
<circle cx="147.5" cy="478.9" r="1.65" fill="#d4d4d7" stroke="#c2c2c6" stroke-width="0.6"/>
<circle cx="118.2" cy="479.6" r="1.65" fill="#d4d4d7" stroke="#c2c2c6" stroke-width="0.6"/>
<circle cx="109.7" cy="480.6" r="1.65" fill="#d4d4d7" stroke="#c2c2c6" stroke-width="0.6"/>
<circle cx="112.6" cy="490.0" r="1.65" fill="#d4d4d7" stroke="#c2c2c6" stroke-width="0.6"/>
<circle cx="122.5" cy="491.4" r="1.65" fill="#d4d4d7" stroke="#c2c2c6" stroke-width="0.6"/>
<circle cx="109.3" cy="483.1" r="1.65" fill="#d4d4d7" stroke="#c2c2c6" stroke-width="0.6"/>
<circle cx="111.3" cy="487.1" r="1.65" fill="#d4d4d7" stroke="#c2c2c6" stroke-width="0.6"/>
<circle cx="117.5" cy="482.4" r="1.65" fill="#d4d4d7" stroke="#c2c2c6" stroke-width="0.6"/>
<circle cx="107.2" cy="478.5" r="1.65" fill="#d4d4d7" stroke="#c2c2c6" stroke-width="0.6"/>
<circle cx="108.6" cy="477.0" r="1.65" fill="#d4d4d7" stroke="#c2c2c6" stroke-width="0.6"/>
<circle cx="122.7" cy="493.4" r="1.65" fill="#d4d4d7" stroke="#c2c2c6" stroke-width="0.6"/>
<circle cx="116.2" cy="482.2" r="1.65" fill="#d4d4d7" stroke="#c2c2c6" stroke-width="0.6"/>
<circle cx="106.5" cy="480.0" r="1.65" fill="#d4d4d7" stroke="#c2c2c6" stroke-width="0.6"/>
<circle cx="108.4" cy="481.6" r="1.65" fill="#d4d4d7" stroke="#c2c2c6" stroke-width="0.6"/>
<circle cx="104.4" cy="480.8" r="1.65" fill="#d4d4d7" stroke="#c2c2c6" stroke-width="0.6"/>
<circle cx="108.3" cy="476.7" r="1.65" fill="#d4d4d7" stroke="#c2c2c6" stroke-width="0.6"/>
<circle cx="118.3" cy="485.9" r="1.65" fill="#d4d4d7" stroke="#c2c2c6" stroke-width="0.6"/>
<circle cx="119.5" cy="490.8" r="1.65" fill="#d4d4d7" stroke="#c2c2c6" stroke-width="0.6"/>
<circle cx="105.4" cy="478.9" r="1.65" fill="#d4d4d7" stroke="#c2c2c6" stroke-width="0.6"/>
<circle cx="105.2" cy="480.8" r="1.65" fill="#d4d4d7" stroke="#c2c2c6" stroke-width="0.6"/>
<circle cx="125.1" cy="494.3" r="1.65" fill="#d4d4d7" stroke="#c2c2c6" stroke-width="0.6"/>
<circle cx="112.6" cy="486.5" r="1.65" fill="#d4d4d7" stroke="#c2c2c6" stroke-width="0.6"/>
<circle cx="111.5" cy="491.4" r="1.65" fill="#d4d4d7" stroke="#c2c2c6" stroke-width="0.6"/>
<circle cx="103.4" cy="415.0" r="1.6" fill="#cf4868" stroke="#b92e50" stroke-width="0.75"/>
<circle cx="98.8" cy="420.8" r="1.6" fill="#cf4868" stroke="#b92e50" stroke-width="0.75"/>
<circle cx="100.8" cy="434.7" r="1.6" fill="#cf4868" stroke="#b92e50" stroke-width="0.75"/>
<circle cx="94.2" cy="459.9" r="1.6" fill="#cf4868" stroke="#b92e50" stroke-width="0.75"/>
<circle cx="98.4" cy="461.9" r="1.6" fill="#cf4868" stroke="#b92e50" stroke-width="0.75"/>
<circle cx="95.1" cy="470.2" r="1.6" fill="#cf4868" stroke="#b92e50" stroke-width="0.75"/>
<circle cx="100.1" cy="474.2" r="1.6" fill="#8e1630" stroke="#8e1630" stroke-width="0.75"/>
<circle cx="101.1" cy="477.8" r="1.6" fill="#cf4868" stroke="#b92e50" stroke-width="0.75"/>
<circle cx="102.8" cy="484.3" r="1.6" fill="#6e0a1e" stroke="#6e0a1e" stroke-width="0.75"/>
<circle cx="197.3" cy="421.3" r="1.6" fill="#cf4868" stroke="#b92e50" stroke-width="0.75"/>
<circle cx="170.8" cy="448.2" r="1.6" fill="#cf4868" stroke="#b92e50" stroke-width="0.75"/>
<circle cx="175.6" cy="458.2" r="1.6" fill="#cf4868" stroke="#b92e50" stroke-width="0.75"/>
<circle cx="179.9" cy="457.0" r="1.6" fill="#cf4868" stroke="#b92e50" stroke-width="0.75"/>
<circle cx="183.0" cy="460.1" r="1.6" fill="#9a1a36" stroke="#9a1a36" stroke-width="0.75"/>
<circle cx="171.1" cy="465.8" r="1.6" fill="#cf4868" stroke="#b92e50" stroke-width="0.75"/>
<circle cx="184.7" cy="466.8" r="1.6" fill="#cf4868" stroke="#b92e50" stroke-width="0.75"/>
<circle cx="202.9" cy="466.4" r="1.6" fill="#cf4868" stroke="#b92e50" stroke-width="0.75"/>
<circle cx="171.1" cy="468.5" r="1.6" fill="#cf4868" stroke="#b92e50" stroke-width="0.75"/>
<circle cx="177.1" cy="471.6" r="1.6" fill="#cf4868" stroke="#b92e50" stroke-width="0.75"/>
<circle cx="192.2" cy="472.2" r="1.6" fill="#cf4868" stroke="#b92e50" stroke-width="0.75"/>
<circle cx="171.1" cy="471.6" r="1.6" fill="#cf4868" stroke="#b92e50" stroke-width="0.75"/>
<circle cx="194.8" cy="478.1" r="1.6" fill="#cf4868" stroke="#b92e50" stroke-width="0.75"/>
<circle cx="170.4" cy="478.1" r="1.6" fill="#6e0c20" stroke="#6e0c20" stroke-width="0.75"/>
<circle cx="172.0" cy="491.4" r="1.6" fill="#cf4868" stroke="#b92e50" stroke-width="0.75"/>
<circle cx="173.9" cy="497.4" r="1.6" fill="#cf4868" stroke="#b92e50" stroke-width="0.75"/>
<line x1="103.4" y1="372.2" x2="103.4" y2="514.4" stroke="#2a2a2a" stroke-width="1.15" stroke-dasharray="3.35 2.35" stroke-dashoffset="2.30"/>
<line x1="168.8" y1="372.2" x2="168.8" y2="514.4" stroke="#2a2a2a" stroke-width="1.15" stroke-dasharray="3.35 2.35" stroke-dashoffset="2.30"/>
<line x1="37.5" y1="503.3" x2="233.2" y2="503.3" stroke="#2a2a2a" stroke-width="1.15" stroke-dasharray="3.4 2.25"/>
<line x1="37.7" y1="372.2" x2="37.7" y2="514.4" stroke="#000" stroke-width="1.3"/>
<line x1="37.050000000000004" y1="514.4" x2="234.2" y2="514.4" stroke="#000" stroke-width="1.3"/>
<line x1="34.2" y1="506.50" x2="37.7" y2="506.50" stroke="#000" stroke-width="1"/>
<text x="31.200000000000003" y="508.9" font-size="8.8" stroke="#1a1a1a" stroke-width="0.16" text-anchor="end" >0</text>
<line x1="34.2" y1="473.94" x2="37.7" y2="473.94" stroke="#000" stroke-width="1"/>
<text x="31.200000000000003" y="476.34" font-size="8.8" stroke="#1a1a1a" stroke-width="0.16" text-anchor="end" >20</text>
<line x1="34.2" y1="441.38" x2="37.7" y2="441.38" stroke="#000" stroke-width="1"/>
<text x="31.200000000000003" y="443.78" font-size="8.8" stroke="#1a1a1a" stroke-width="0.16" text-anchor="end" >40</text>
<line x1="34.2" y1="408.82" x2="37.7" y2="408.82" stroke="#000" stroke-width="1"/>
<text x="31.200000000000003" y="411.22" font-size="8.8" stroke="#1a1a1a" stroke-width="0.16" text-anchor="end" >60</text>
<line x1="34.2" y1="376.26" x2="37.7" y2="376.26" stroke="#000" stroke-width="1"/>
<text x="31.200000000000003" y="378.66" font-size="8.8" stroke="#1a1a1a" stroke-width="0.16" text-anchor="end" >80</text>
<line x1="76.50" y1="514.4" x2="76.50" y2="517.8" stroke="#000" stroke-width="1"/>
<text x="75.3" y="527.9" font-size="8" stroke="#1a1a1a" stroke-width="0.16" text-anchor="middle" >-1</text>
<line x1="135.70" y1="514.4" x2="135.70" y2="517.8" stroke="#000" stroke-width="1"/>
<text x="135.7" y="527.9" font-size="8" stroke="#1a1a1a" stroke-width="0.16" text-anchor="middle" >0</text>
<line x1="194.90" y1="514.4" x2="194.90" y2="517.8" stroke="#000" stroke-width="1"/>
<text x="194.9" y="527.9" font-size="8" stroke="#1a1a1a" stroke-width="0.16" text-anchor="middle" >1</text>
<text x="63.4" y="411.5" font-size="7.95" stroke="#151515" stroke-width="0.16" font-style="italic" textLength="37.5" lengthAdjust="spacingAndGlyphs" fill="#151515" >HSP90AA1</text>
<text x="65.3" y="425.9" font-size="7.95" stroke="#151515" stroke-width="0.16" font-style="italic" textLength="29.8" lengthAdjust="spacingAndGlyphs" fill="#151515" >MT-ND5</text>
<text x="75.3" y="440.4" font-size="7.95" stroke="#151515" stroke-width="0.16" font-style="italic" textLength="22.4" lengthAdjust="spacingAndGlyphs" fill="#151515" >RPS20</text>
<text x="71.3" y="459.3" font-size="7.95" stroke="#151515" stroke-width="0.16" font-style="italic" textLength="19.5" lengthAdjust="spacingAndGlyphs" fill="#151515" >FLNA</text>
<text x="97.2" y="458.3" font-size="7.95" stroke="#151515" stroke-width="0.16" font-style="italic" textLength="21.8" lengthAdjust="spacingAndGlyphs" fill="#151515" >MYH9</text>
<text x="61.9" y="473.4" font-size="7.95" stroke="#151515" stroke-width="0.16" font-style="italic" textLength="30.1" lengthAdjust="spacingAndGlyphs" fill="#151515" >TUBA4A</text>
<text x="66.2" y="487.2" font-size="7.95" stroke="#151515" stroke-width="0.16" font-style="italic" textLength="22.3" lengthAdjust="spacingAndGlyphs" fill="#151515" >MKI67</text>
<text x="106.3" y="491.0" font-size="7.95" stroke="#151515" stroke-width="0.16" font-style="italic" textLength="27.0" lengthAdjust="spacingAndGlyphs" fill="#151515" >DAAM1</text>
<text x="191.9" y="417.7" font-size="7.95" stroke="#151515" stroke-width="0.16" font-style="italic" textLength="14.6" lengthAdjust="spacingAndGlyphs" fill="#151515" >LXN</text>
<text x="195.7" y="439.9" font-size="7.95" stroke="#151515" stroke-width="0.16" font-style="italic" textLength="33.4" lengthAdjust="spacingAndGlyphs" fill="#151515" >TSC22D1</text>
<text x="146.7" y="456.3" font-size="7.95" stroke="#151515" stroke-width="0.16" font-style="italic" textLength="37.6" lengthAdjust="spacingAndGlyphs" fill="#151515" >HLA-DRB1</text>
<text x="201.1" y="456.3" font-size="7.95" stroke="#151515" stroke-width="0.16" font-style="italic" textLength="19.9" lengthAdjust="spacingAndGlyphs" fill="#151515" >CD74</text>
<text x="125.8" y="471.2" font-size="7.95" stroke="#151515" stroke-width="0.16" font-style="italic" textLength="31.5" lengthAdjust="spacingAndGlyphs" fill="#151515" >S100A10</text>
<text x="205.5" y="472.1" font-size="7.95" stroke="#151515" stroke-width="0.16" font-style="italic" textLength="20.9" lengthAdjust="spacingAndGlyphs" fill="#151515" >HBG2</text>
<text x="181.5" y="488.1" font-size="7.95" stroke="#151515" stroke-width="0.16" font-style="italic" textLength="34.0" lengthAdjust="spacingAndGlyphs" fill="#151515" >HLA-DRA</text>
<text x="177.5" y="501.7" font-size="7.95" stroke="#151515" stroke-width="0.16" font-style="italic" textLength="14.9" lengthAdjust="spacingAndGlyphs" fill="#151515" >FOS</text>
<line x1="90.3" y1="480.5" x2="100.1" y2="474.3" stroke="#111" stroke-width="1.0"/>
<line x1="196.6" y1="441.3" x2="183.2" y2="459.5" stroke="#111" stroke-width="1.0"/>
<line x1="200" y1="452.5" x2="185.3" y2="466.4" stroke="#111" stroke-width="1.0"/>
<line x1="158.2" y1="467.6" x2="171.2" y2="469.6" stroke="#111" stroke-width="1.0"/>
<line x1="171.5" y1="478.1" x2="180.1" y2="483.3" stroke="#111" stroke-width="1.0"/>
<text x="0" y="0" font-size="8.6" stroke="#1a1a1a" stroke-width="0.16" text-anchor="middle" textLength="50" lengthAdjust="spacingAndGlyphs" transform="translate(16 443) rotate(-90)">-log10 P value</text>
<text x="105.8" y="542.4" font-size="9" stroke="#1a1a1a" stroke-width="0.16" textLength="60.5" lengthAdjust="spacingAndGlyphs" >Log2 fold change</text>
<rect x="295.4" y="355.2" width="46.60" height="19.40" fill="#e4c4b8"/>
<text x="305.3" y="368.5" font-size="10" stroke="#151515" stroke-width="0.16" font-style="italic" textLength="27.5" lengthAdjust="spacingAndGlyphs" fill="#151515" >NT-up</text>
<rect x="405.8" y="355.2" width="71.70" height="19.40" fill="#e4c4b8"/>
<text x="417.9" y="368.5" font-size="10" stroke="#151515" stroke-width="0.16" font-style="italic" textLength="48.1" lengthAdjust="spacingAndGlyphs" fill="#151515" >RUNX1-up</text>
<polygon points="363,508 367,503 374,500 383.75,497.5 390,491.25 393.75,485 397.5,477.5 401.25,472.5 405,471.25 410,473.75 413.5,478 414.5,486 413.5,496 409,501.5 402,505 398,508.5 366,509" fill="#d6d6d8"/>
<circle cx="376.8" cy="396.3" r="1.55" fill="none" stroke="#c4c4c8" stroke-width="0.75"/>
<circle cx="410.9" cy="407.5" r="1.55" fill="none" stroke="#c4c4c8" stroke-width="0.75"/>
<circle cx="410.9" cy="408.9" r="1.55" fill="none" stroke="#c4c4c8" stroke-width="0.75"/>
<circle cx="388.5" cy="419.7" r="1.55" fill="none" stroke="#c4c4c8" stroke-width="0.75"/>
<circle cx="403.8" cy="417.2" r="1.55" fill="none" stroke="#c4c4c8" stroke-width="0.75"/>
<circle cx="405.8" cy="417.6" r="1.55" fill="none" stroke="#c4c4c8" stroke-width="0.75"/>
<circle cx="353.8" cy="435.0" r="1.55" fill="none" stroke="#c4c4c8" stroke-width="0.75"/>
<circle cx="411.5" cy="432.8" r="1.55" fill="none" stroke="#c4c4c8" stroke-width="0.75"/>
<circle cx="414.3" cy="437.3" r="1.55" fill="none" stroke="#c4c4c8" stroke-width="0.75"/>
<circle cx="405.1" cy="439.4" r="1.55" fill="none" stroke="#c4c4c8" stroke-width="0.75"/>
<circle cx="400.8" cy="442.9" r="1.55" fill="none" stroke="#c4c4c8" stroke-width="0.75"/>
<circle cx="403.8" cy="442.4" r="1.55" fill="none" stroke="#c4c4c8" stroke-width="0.75"/>
<circle cx="413.0" cy="443.9" r="1.55" fill="none" stroke="#c4c4c8" stroke-width="0.75"/>
<circle cx="418.1" cy="434.3" r="1.55" fill="none" stroke="#c4c4c8" stroke-width="0.75"/>
<circle cx="409.9" cy="455.4" r="1.55" fill="none" stroke="#c4c4c8" stroke-width="0.75"/>
<circle cx="408.9" cy="457.8" r="1.55" fill="none" stroke="#c4c4c8" stroke-width="0.75"/>
<circle cx="402.0" cy="458.8" r="1.55" fill="none" stroke="#c4c4c8" stroke-width="0.75"/>
<circle cx="353.8" cy="462.5" r="1.55" fill="none" stroke="#c4c4c8" stroke-width="0.75"/>
<circle cx="365.6" cy="465.5" r="1.55" fill="none" stroke="#c4c4c8" stroke-width="0.75"/>
<circle cx="359.9" cy="467.8" r="1.55" fill="none" stroke="#c4c4c8" stroke-width="0.75"/>
<circle cx="358.5" cy="451.4" r="1.55" fill="none" stroke="#c4c4c8" stroke-width="0.75"/>
<circle cx="401.2" cy="449.9" r="1.55" fill="none" stroke="#c4c4c8" stroke-width="0.75"/>
<circle cx="416.1" cy="446.7" r="1.55" fill="none" stroke="#c4c4c8" stroke-width="0.75"/>
<circle cx="410.3" cy="450.3" r="1.55" fill="none" stroke="#c4c4c8" stroke-width="0.75"/>
<circle cx="397.2" cy="471.1" r="1.55" fill="none" stroke="#c4c4c8" stroke-width="0.75"/>
<circle cx="401.7" cy="459.3" r="1.55" fill="none" stroke="#c4c4c8" stroke-width="0.75"/>
<circle cx="409.3" cy="460.1" r="1.55" fill="none" stroke="#c4c4c8" stroke-width="0.75"/>
<circle cx="357.5" cy="472.9" r="1.55" fill="none" stroke="#c4c4c8" stroke-width="0.75"/>
<circle cx="353.8" cy="477.0" r="1.55" fill="none" stroke="#c4c4c8" stroke-width="0.75"/>
<circle cx="355.4" cy="481.1" r="1.55" fill="none" stroke="#c4c4c8" stroke-width="0.75"/>
<circle cx="351.7" cy="485.2" r="1.55" fill="none" stroke="#c4c4c8" stroke-width="0.75"/>
<circle cx="413.4" cy="464.7" r="1.55" fill="none" stroke="#c4c4c8" stroke-width="0.75"/>
<circle cx="416.6" cy="460.6" r="1.55" fill="none" stroke="#c4c4c8" stroke-width="0.75"/>
<circle cx="393.4" cy="473.9" r="1.55" fill="none" stroke="#c4c4c8" stroke-width="0.75"/>
<circle cx="406.0" cy="464.7" r="1.55" fill="none" stroke="#c4c4c8" stroke-width="0.75"/>
<circle cx="398.6" cy="466.7" r="1.55" fill="none" stroke="#c4c4c8" stroke-width="0.75"/>
<circle cx="415.5" cy="454.4" r="1.55" fill="none" stroke="#c4c4c8" stroke-width="0.75"/>
<circle cx="418.7" cy="468.8" r="1.55" fill="none" stroke="#c4c4c8" stroke-width="0.75"/>
<circle cx="352.2" cy="494.4" r="1.55" fill="none" stroke="#c4c4c8" stroke-width="0.75"/>
<circle cx="351.7" cy="502.7" r="1.55" fill="none" stroke="#c4c4c8" stroke-width="0.75"/>
<circle cx="415.6" cy="486.8" r="1.55" fill="none" stroke="#c4c4c8" stroke-width="0.75"/>
<circle cx="395.4" cy="500.9" r="1.55" fill="none" stroke="#c4c4c8" stroke-width="0.75"/>
<circle cx="410.0" cy="489.1" r="1.55" fill="none" stroke="#c4c4c8" stroke-width="0.75"/>
<circle cx="396.1" cy="488.3" r="1.55" fill="none" stroke="#c4c4c8" stroke-width="0.75"/>
<circle cx="397.6" cy="486.4" r="1.55" fill="none" stroke="#c4c4c8" stroke-width="0.75"/>
<circle cx="400.8" cy="480.3" r="1.55" fill="none" stroke="#c4c4c8" stroke-width="0.75"/>
<circle cx="357.0" cy="499.8" r="1.55" fill="none" stroke="#c4c4c8" stroke-width="0.75"/>
<circle cx="410.3" cy="483.4" r="1.55" fill="none" stroke="#c4c4c8" stroke-width="0.75"/>
<circle cx="414.7" cy="487.0" r="1.55" fill="none" stroke="#c4c4c8" stroke-width="0.75"/>
<circle cx="406.9" cy="474.4" r="1.55" fill="none" stroke="#c4c4c8" stroke-width="0.75"/>
<circle cx="365.3" cy="498.3" r="1.55" fill="none" stroke="#c4c4c8" stroke-width="0.75"/>
<circle cx="373.1" cy="504.9" r="1.55" fill="none" stroke="#c4c4c8" stroke-width="0.75"/>
<circle cx="379.2" cy="503.6" r="1.55" fill="none" stroke="#c4c4c8" stroke-width="0.75"/>
<circle cx="369.9" cy="500.0" r="1.55" fill="none" stroke="#c4c4c8" stroke-width="0.75"/>
<circle cx="358.4" cy="491.9" r="1.55" fill="none" stroke="#c4c4c8" stroke-width="0.75"/>
<circle cx="393.5" cy="482.8" r="1.55" fill="none" stroke="#c4c4c8" stroke-width="0.75"/>
<circle cx="383.3" cy="508.1" r="1.55" fill="none" stroke="#c4c4c8" stroke-width="0.75"/>
<circle cx="411.7" cy="474.6" r="1.55" fill="none" stroke="#c4c4c8" stroke-width="0.75"/>
<circle cx="402.9" cy="507.3" r="1.55" fill="none" stroke="#c4c4c8" stroke-width="0.75"/>
<circle cx="393.6" cy="484.9" r="1.55" fill="none" stroke="#c4c4c8" stroke-width="0.75"/>
<circle cx="400.5" cy="477.8" r="1.55" fill="none" stroke="#c4c4c8" stroke-width="0.75"/>
<circle cx="408.7" cy="492.4" r="1.55" fill="none" stroke="#c4c4c8" stroke-width="0.75"/>
<circle cx="415.1" cy="475.5" r="1.55" fill="none" stroke="#c4c4c8" stroke-width="0.75"/>
<circle cx="397.3" cy="496.5" r="1.55" fill="none" stroke="#c4c4c8" stroke-width="0.75"/>
<circle cx="414.7" cy="497.0" r="1.55" fill="none" stroke="#c4c4c8" stroke-width="0.75"/>
<circle cx="395.8" cy="487.5" r="1.55" fill="none" stroke="#c4c4c8" stroke-width="0.75"/>
<circle cx="402.3" cy="480.5" r="1.55" fill="none" stroke="#c4c4c8" stroke-width="0.75"/>
<circle cx="389.7" cy="498.5" r="1.55" fill="none" stroke="#c4c4c8" stroke-width="0.75"/>
<circle cx="414.0" cy="498.5" r="1.55" fill="none" stroke="#c4c4c8" stroke-width="0.75"/>
<circle cx="400.5" cy="500.9" r="1.55" fill="none" stroke="#c4c4c8" stroke-width="0.75"/>
<circle cx="415.0" cy="481.9" r="1.55" fill="none" stroke="#c4c4c8" stroke-width="0.75"/>
<circle cx="399.2" cy="505.6" r="1.55" fill="none" stroke="#c4c4c8" stroke-width="0.75"/>
<circle cx="412.0" cy="484.7" r="1.55" fill="none" stroke="#c4c4c8" stroke-width="0.75"/>
<circle cx="406.4" cy="504.0" r="1.55" fill="none" stroke="#c4c4c8" stroke-width="0.75"/>
<circle cx="391.5" cy="493.7" r="1.55" fill="none" stroke="#c4c4c8" stroke-width="0.75"/>
<circle cx="412.6" cy="498.1" r="1.55" fill="none" stroke="#c4c4c8" stroke-width="0.75"/>
<circle cx="378.8" cy="498.4" r="1.55" fill="none" stroke="#c4c4c8" stroke-width="0.75"/>
<circle cx="393.5" cy="487.5" r="1.55" fill="none" stroke="#c4c4c8" stroke-width="0.75"/>
<circle cx="368.0" cy="496.8" r="1.55" fill="none" stroke="#c4c4c8" stroke-width="0.75"/>
<circle cx="394.4" cy="506.4" r="1.55" fill="none" stroke="#c4c4c8" stroke-width="0.75"/>
<circle cx="372.8" cy="496.0" r="1.55" fill="none" stroke="#c4c4c8" stroke-width="0.75"/>
<circle cx="382.5" cy="505.2" r="1.55" fill="none" stroke="#c4c4c8" stroke-width="0.75"/>
<circle cx="374.6" cy="495.4" r="1.55" fill="none" stroke="#c4c4c8" stroke-width="0.75"/>
<circle cx="381.8" cy="501.5" r="1.55" fill="none" stroke="#c4c4c8" stroke-width="0.75"/>
<circle cx="386.3" cy="502.8" r="1.55" fill="none" stroke="#c4c4c8" stroke-width="0.75"/>
<circle cx="410.4" cy="497.4" r="1.55" fill="none" stroke="#c4c4c8" stroke-width="0.75"/>
<circle cx="417.4" cy="478.7" r="1.55" fill="none" stroke="#c4c4c8" stroke-width="0.75"/>
<circle cx="397.1" cy="501.5" r="1.55" fill="none" stroke="#c4c4c8" stroke-width="0.75"/>
<circle cx="418.0" cy="496.2" r="1.55" fill="none" stroke="#c4c4c8" stroke-width="0.75"/>
<circle cx="375.9" cy="496.8" r="1.55" fill="none" stroke="#c4c4c8" stroke-width="0.75"/>
<circle cx="394.4" cy="499.3" r="1.55" fill="none" stroke="#c4c4c8" stroke-width="0.75"/>
<circle cx="379.2" cy="500.9" r="1.55" fill="none" stroke="#c4c4c8" stroke-width="0.75"/>
<circle cx="416.2" cy="497.9" r="1.55" fill="none" stroke="#c4c4c8" stroke-width="0.75"/>
<circle cx="395.1" cy="506.0" r="1.55" fill="none" stroke="#c4c4c8" stroke-width="0.75"/>
<circle cx="412.5" cy="501.1" r="1.55" fill="none" stroke="#c4c4c8" stroke-width="0.75"/>
<circle cx="417.0" cy="486.7" r="1.55" fill="none" stroke="#c4c4c8" stroke-width="0.75"/>
<circle cx="401.7" cy="502.0" r="1.55" fill="none" stroke="#c4c4c8" stroke-width="0.75"/>
<circle cx="396.2" cy="497.7" r="1.55" fill="none" stroke="#c4c4c8" stroke-width="0.75"/>
<circle cx="406.5" cy="480.5" r="1.55" fill="none" stroke="#c4c4c8" stroke-width="0.75"/>
<circle cx="404.9" cy="487.7" r="1.55" fill="none" stroke="#c4c4c8" stroke-width="0.75"/>
<circle cx="356.6" cy="501.2" r="1.55" fill="none" stroke="#c4c4c8" stroke-width="0.75"/>
<circle cx="375.2" cy="500.7" r="1.55" fill="none" stroke="#c4c4c8" stroke-width="0.75"/>
<circle cx="401.8" cy="502.9" r="1.55" fill="none" stroke="#c4c4c8" stroke-width="0.75"/>
<circle cx="399.5" cy="507.5" r="1.55" fill="none" stroke="#c4c4c8" stroke-width="0.75"/>
<circle cx="386.0" cy="507.7" r="1.55" fill="none" stroke="#c4c4c8" stroke-width="0.75"/>
<circle cx="402.2" cy="494.3" r="1.55" fill="none" stroke="#c4c4c8" stroke-width="0.75"/>
<circle cx="388.1" cy="503.1" r="1.55" fill="none" stroke="#c4c4c8" stroke-width="0.75"/>
<circle cx="366.0" cy="489.8" r="1.55" fill="none" stroke="#c4c4c8" stroke-width="0.75"/>
<circle cx="379.7" cy="501.3" r="1.55" fill="none" stroke="#c4c4c8" stroke-width="0.75"/>
<circle cx="361.1" cy="500.3" r="1.55" fill="none" stroke="#c4c4c8" stroke-width="0.75"/>
<circle cx="399.3" cy="480.6" r="1.55" fill="none" stroke="#c4c4c8" stroke-width="0.75"/>
<circle cx="359.4" cy="498.2" r="1.55" fill="none" stroke="#c4c4c8" stroke-width="0.75"/>
<circle cx="365.8" cy="489.6" r="1.55" fill="none" stroke="#c4c4c8" stroke-width="0.75"/>
<circle cx="388.5" cy="503.4" r="1.55" fill="none" stroke="#c4c4c8" stroke-width="0.75"/>
<circle cx="394.2" cy="503.7" r="1.55" fill="none" stroke="#c4c4c8" stroke-width="0.75"/>
<circle cx="414.1" cy="480.4" r="1.55" fill="none" stroke="#c4c4c8" stroke-width="0.75"/>
<circle cx="373.8" cy="506.5" r="1.55" fill="none" stroke="#c4c4c8" stroke-width="0.75"/>
<circle cx="402.0" cy="477.9" r="1.55" fill="none" stroke="#c4c4c8" stroke-width="0.75"/>
<circle cx="358.8" cy="502.6" r="1.55" fill="none" stroke="#c4c4c8" stroke-width="0.75"/>
<circle cx="406.4" cy="472.2" r="1.55" fill="none" stroke="#c4c4c8" stroke-width="0.75"/>
<circle cx="399.0" cy="506.0" r="1.55" fill="none" stroke="#c4c4c8" stroke-width="0.75"/>
<circle cx="386.9" cy="499.4" r="1.55" fill="none" stroke="#c4c4c8" stroke-width="0.75"/>
<circle cx="383.9" cy="499.7" r="1.55" fill="none" stroke="#c4c4c8" stroke-width="0.75"/>
<circle cx="400.3" cy="503.1" r="1.55" fill="none" stroke="#c4c4c8" stroke-width="0.75"/>
<circle cx="402.9" cy="484.2" r="1.55" fill="none" stroke="#c4c4c8" stroke-width="0.75"/>
<circle cx="413.5" cy="501.3" r="1.55" fill="none" stroke="#c4c4c8" stroke-width="0.75"/>
<circle cx="400.5" cy="503.8" r="1.55" fill="none" stroke="#c4c4c8" stroke-width="0.75"/>
<circle cx="395.4" cy="484.2" r="1.55" fill="none" stroke="#c4c4c8" stroke-width="0.75"/>
<circle cx="393.3" cy="488.5" r="1.55" fill="none" stroke="#c4c4c8" stroke-width="0.75"/>
<circle cx="405.6" cy="501.9" r="1.55" fill="none" stroke="#c4c4c8" stroke-width="0.75"/>
<circle cx="380.0" cy="505.4" r="1.55" fill="none" stroke="#c4c4c8" stroke-width="0.75"/>
<circle cx="412.6" cy="496.7" r="1.55" fill="none" stroke="#c4c4c8" stroke-width="0.75"/>
<circle cx="404.8" cy="499.7" r="1.55" fill="none" stroke="#c4c4c8" stroke-width="0.75"/>
<circle cx="380.0" cy="497.9" r="1.55" fill="none" stroke="#c4c4c8" stroke-width="0.75"/>
<circle cx="417.0" cy="495.4" r="1.55" fill="none" stroke="#c4c4c8" stroke-width="0.75"/>
<circle cx="375.4" cy="495.2" r="1.55" fill="none" stroke="#c4c4c8" stroke-width="0.75"/>
<circle cx="400.3" cy="499.6" r="1.55" fill="none" stroke="#c4c4c8" stroke-width="0.75"/>
<circle cx="394.4" cy="498.6" r="1.55" fill="none" stroke="#c4c4c8" stroke-width="0.75"/>
<circle cx="369.4" cy="505.8" r="1.55" fill="none" stroke="#c4c4c8" stroke-width="0.75"/>
<circle cx="387.0" cy="508.4" r="1.55" fill="none" stroke="#c4c4c8" stroke-width="0.75"/>
<circle cx="396.0" cy="501.6" r="1.55" fill="none" stroke="#c4c4c8" stroke-width="0.75"/>
<circle cx="417.1" cy="484.9" r="1.55" fill="none" stroke="#c4c4c8" stroke-width="0.75"/>
<circle cx="397.1" cy="490.9" r="1.55" fill="none" stroke="#c4c4c8" stroke-width="0.75"/>
<circle cx="371.6" cy="497.6" r="1.55" fill="none" stroke="#c4c4c8" stroke-width="0.75"/>
<circle cx="404.0" cy="483.5" r="1.55" fill="none" stroke="#c4c4c8" stroke-width="0.75"/>
<circle cx="413.8" cy="499.0" r="1.55" fill="none" stroke="#c4c4c8" stroke-width="0.75"/>
<circle cx="414.3" cy="485.2" r="1.55" fill="none" stroke="#c4c4c8" stroke-width="0.75"/>
<circle cx="416.5" cy="497.9" r="1.55" fill="none" stroke="#c4c4c8" stroke-width="0.75"/>
<circle cx="408.2" cy="492.8" r="1.55" fill="none" stroke="#c4c4c8" stroke-width="0.75"/>
<circle cx="360.1" cy="493.6" r="1.55" fill="none" stroke="#c4c4c8" stroke-width="0.75"/>
<circle cx="405.6" cy="489.6" r="1.55" fill="none" stroke="#c4c4c8" stroke-width="0.75"/>
<circle cx="402.6" cy="477.0" r="1.55" fill="none" stroke="#c4c4c8" stroke-width="0.75"/>
<circle cx="395.1" cy="482.2" r="1.55" fill="none" stroke="#c4c4c8" stroke-width="0.75"/>
<circle cx="370.8" cy="496.3" r="1.55" fill="none" stroke="#c4c4c8" stroke-width="0.75"/>
<circle cx="392.8" cy="494.0" r="1.55" fill="none" stroke="#c4c4c8" stroke-width="0.75"/>
<circle cx="403.9" cy="474.9" r="1.55" fill="none" stroke="#c4c4c8" stroke-width="0.75"/>
<circle cx="358.1" cy="495.9" r="1.55" fill="none" stroke="#c4c4c8" stroke-width="0.75"/>
<circle cx="395.5" cy="482.8" r="1.55" fill="none" stroke="#c4c4c8" stroke-width="0.75"/>
<circle cx="407.7" cy="493.6" r="1.55" fill="none" stroke="#c4c4c8" stroke-width="0.75"/>
<circle cx="404.9" cy="475.9" r="1.55" fill="none" stroke="#c4c4c8" stroke-width="0.75"/>
<circle cx="407.8" cy="482.6" r="1.55" fill="none" stroke="#c4c4c8" stroke-width="0.75"/>
<circle cx="403.4" cy="506.4" r="1.55" fill="none" stroke="#c4c4c8" stroke-width="0.75"/>
<circle cx="358.8" cy="504.5" r="1.55" fill="none" stroke="#c4c4c8" stroke-width="0.75"/>
<circle cx="357.9" cy="491.1" r="1.55" fill="none" stroke="#c4c4c8" stroke-width="0.75"/>
<circle cx="399.2" cy="479.6" r="1.55" fill="none" stroke="#c4c4c8" stroke-width="0.75"/>
<circle cx="366.8" cy="495.3" r="1.55" fill="none" stroke="#c4c4c8" stroke-width="0.75"/>
<circle cx="376.7" cy="498.0" r="1.55" fill="none" stroke="#c4c4c8" stroke-width="0.75"/>
<circle cx="360.2" cy="497.3" r="1.55" fill="none" stroke="#c4c4c8" stroke-width="0.75"/>
<circle cx="414.9" cy="485.6" r="1.55" fill="none" stroke="#c4c4c8" stroke-width="0.75"/>
<circle cx="407.3" cy="479.9" r="1.55" fill="none" stroke="#c4c4c8" stroke-width="0.75"/>
<circle cx="389.3" cy="502.8" r="1.55" fill="none" stroke="#c4c4c8" stroke-width="0.75"/>
<circle cx="404.3" cy="504.7" r="1.55" fill="none" stroke="#c4c4c8" stroke-width="0.75"/>
<circle cx="391.1" cy="508.4" r="1.55" fill="none" stroke="#c4c4c8" stroke-width="0.75"/>
<circle cx="396.9" cy="501.4" r="1.55" fill="none" stroke="#c4c4c8" stroke-width="0.75"/>
<circle cx="358.0" cy="494.1" r="1.55" fill="none" stroke="#c4c4c8" stroke-width="0.75"/>
<circle cx="403.4" cy="494.7" r="1.55" fill="none" stroke="#c4c4c8" stroke-width="0.75"/>
<circle cx="404.7" cy="489.2" r="1.55" fill="none" stroke="#c4c4c8" stroke-width="0.75"/>
<circle cx="404.7" cy="483.7" r="1.55" fill="none" stroke="#c4c4c8" stroke-width="0.75"/>
<circle cx="401.7" cy="497.3" r="1.55" fill="none" stroke="#c4c4c8" stroke-width="0.75"/>
<circle cx="415.0" cy="484.4" r="1.55" fill="none" stroke="#c4c4c8" stroke-width="0.75"/>
<circle cx="408.9" cy="495.5" r="1.55" fill="none" stroke="#c4c4c8" stroke-width="0.75"/>
<circle cx="410.8" cy="501.5" r="1.55" fill="none" stroke="#c4c4c8" stroke-width="0.75"/>
<circle cx="417.9" cy="494.3" r="1.55" fill="none" stroke="#c4c4c8" stroke-width="0.75"/>
<circle cx="388.1" cy="497.3" r="1.55" fill="none" stroke="#c4c4c8" stroke-width="0.75"/>
<circle cx="407.2" cy="484.9" r="1.55" fill="none" stroke="#c4c4c8" stroke-width="0.75"/>
<circle cx="372.2" cy="508.5" r="1.55" fill="none" stroke="#c4c4c8" stroke-width="0.75"/>
<circle cx="396.7" cy="500.2" r="1.55" fill="none" stroke="#c4c4c8" stroke-width="0.75"/>
<circle cx="401.4" cy="492.4" r="1.55" fill="none" stroke="#c4c4c8" stroke-width="0.75"/>
<circle cx="404.2" cy="480.2" r="1.55" fill="none" stroke="#c4c4c8" stroke-width="0.75"/>
<circle cx="389.8" cy="502.0" r="1.55" fill="none" stroke="#c4c4c8" stroke-width="0.75"/>
<circle cx="417.9" cy="487.5" r="1.55" fill="none" stroke="#c4c4c8" stroke-width="0.75"/>
<circle cx="406.9" cy="497.5" r="1.55" fill="none" stroke="#c4c4c8" stroke-width="0.75"/>
<circle cx="370.0" cy="504.2" r="1.55" fill="none" stroke="#c4c4c8" stroke-width="0.75"/>
<circle cx="362.5" cy="499.9" r="1.55" fill="none" stroke="#c4c4c8" stroke-width="0.75"/>
<circle cx="408.6" cy="503.2" r="1.55" fill="none" stroke="#c4c4c8" stroke-width="0.75"/>
<circle cx="370.7" cy="497.6" r="1.55" fill="none" stroke="#c4c4c8" stroke-width="0.75"/>
<circle cx="417.8" cy="492.0" r="1.55" fill="none" stroke="#c4c4c8" stroke-width="0.75"/>
<circle cx="411.0" cy="479.8" r="1.55" fill="none" stroke="#c4c4c8" stroke-width="0.75"/>
<circle cx="406.4" cy="484.7" r="1.55" fill="none" stroke="#c4c4c8" stroke-width="0.75"/>
<circle cx="408.9" cy="475.7" r="1.55" fill="none" stroke="#c4c4c8" stroke-width="0.75"/>
<circle cx="363.0" cy="502.6" r="1.55" fill="none" stroke="#c4c4c8" stroke-width="0.75"/>
<circle cx="401.3" cy="482.2" r="1.55" fill="none" stroke="#c4c4c8" stroke-width="0.75"/>
<circle cx="378.1" cy="497.3" r="1.55" fill="none" stroke="#c4c4c8" stroke-width="0.75"/>
<circle cx="407.0" cy="475.6" r="1.55" fill="none" stroke="#c4c4c8" stroke-width="0.75"/>
<circle cx="402.4" cy="480.9" r="1.55" fill="none" stroke="#c4c4c8" stroke-width="0.75"/>
<circle cx="417.0" cy="491.0" r="1.55" fill="none" stroke="#c4c4c8" stroke-width="0.75"/>
<circle cx="401.9" cy="481.0" r="1.55" fill="none" stroke="#c4c4c8" stroke-width="0.75"/>
<circle cx="398.7" cy="497.3" r="1.55" fill="none" stroke="#c4c4c8" stroke-width="0.75"/>
<circle cx="409.6" cy="492.3" r="1.55" fill="none" stroke="#c4c4c8" stroke-width="0.75"/>
<circle cx="415.4" cy="485.1" r="1.55" fill="none" stroke="#c4c4c8" stroke-width="0.75"/>
<circle cx="404.8" cy="502.1" r="1.55" fill="none" stroke="#c4c4c8" stroke-width="0.75"/>
<circle cx="397.5" cy="493.0" r="1.55" fill="none" stroke="#c4c4c8" stroke-width="0.75"/>
<circle cx="375.7" cy="494.8" r="1.55" fill="none" stroke="#c4c4c8" stroke-width="0.75"/>
<circle cx="406.3" cy="502.3" r="1.55" fill="none" stroke="#c4c4c8" stroke-width="0.75"/>
<circle cx="404.8" cy="505.7" r="1.55" fill="none" stroke="#c4c4c8" stroke-width="0.75"/>
<circle cx="387.6" cy="497.6" r="1.55" fill="none" stroke="#c4c4c8" stroke-width="0.75"/>
<circle cx="409.5" cy="475.2" r="1.55" fill="none" stroke="#c4c4c8" stroke-width="0.75"/>
<circle cx="417.0" cy="493.8" r="1.55" fill="none" stroke="#c4c4c8" stroke-width="0.75"/>
<circle cx="374.8" cy="506.8" r="1.55" fill="none" stroke="#c4c4c8" stroke-width="0.75"/>
<circle cx="414.2" cy="490.2" r="1.55" fill="none" stroke="#c4c4c8" stroke-width="0.75"/>
<circle cx="390.7" cy="490.9" r="1.55" fill="none" stroke="#c4c4c8" stroke-width="0.75"/>
<circle cx="408.3" cy="492.7" r="1.55" fill="none" stroke="#c4c4c8" stroke-width="0.75"/>
<circle cx="360.6" cy="502.3" r="1.55" fill="none" stroke="#c4c4c8" stroke-width="0.75"/>
<circle cx="413.7" cy="477.1" r="1.55" fill="none" stroke="#c4c4c8" stroke-width="0.75"/>
<circle cx="391.5" cy="502.5" r="1.55" fill="none" stroke="#c4c4c8" stroke-width="0.75"/>
<circle cx="364.9" cy="490.4" r="1.55" fill="none" stroke="#c4c4c8" stroke-width="0.75"/>
<circle cx="397.4" cy="480.0" r="1.55" fill="none" stroke="#c4c4c8" stroke-width="0.75"/>
<circle cx="398.3" cy="498.5" r="1.55" fill="none" stroke="#c4c4c8" stroke-width="0.75"/>
<circle cx="418.0" cy="492.6" r="1.55" fill="none" stroke="#c4c4c8" stroke-width="0.75"/>
<circle cx="395.0" cy="496.4" r="1.55" fill="none" stroke="#c4c4c8" stroke-width="0.75"/>
<circle cx="404.2" cy="499.1" r="1.55" fill="none" stroke="#c4c4c8" stroke-width="0.75"/>
<circle cx="391.0" cy="505.8" r="1.55" fill="none" stroke="#c4c4c8" stroke-width="0.75"/>
<circle cx="381.8" cy="505.7" r="1.55" fill="none" stroke="#c4c4c8" stroke-width="0.75"/>
<circle cx="402.0" cy="505.5" r="1.55" fill="none" stroke="#c4c4c8" stroke-width="0.75"/>
<circle cx="402.4" cy="492.5" r="1.55" fill="none" stroke="#c4c4c8" stroke-width="0.75"/>
<circle cx="403.8" cy="479.9" r="1.55" fill="none" stroke="#c4c4c8" stroke-width="0.75"/>
<circle cx="397.9" cy="504.1" r="1.55" fill="none" stroke="#c4c4c8" stroke-width="0.75"/>
<circle cx="381.1" cy="501.4" r="1.55" fill="none" stroke="#c4c4c8" stroke-width="0.75"/>
<circle cx="367.4" cy="498.9" r="1.55" fill="none" stroke="#c4c4c8" stroke-width="0.75"/>
<circle cx="406.6" cy="472.1" r="1.55" fill="none" stroke="#c4c4c8" stroke-width="0.75"/>
<circle cx="389.1" cy="507.7" r="1.55" fill="none" stroke="#c4c4c8" stroke-width="0.75"/>
<circle cx="408.1" cy="483.9" r="1.55" fill="none" stroke="#c4c4c8" stroke-width="0.75"/>
<circle cx="413.8" cy="480.0" r="1.55" fill="none" stroke="#c4c4c8" stroke-width="0.75"/>
<circle cx="386.4" cy="507.0" r="1.55" fill="none" stroke="#c4c4c8" stroke-width="0.75"/>
<circle cx="365.6" cy="502.9" r="1.55" fill="none" stroke="#c4c4c8" stroke-width="0.75"/>
<circle cx="366.1" cy="494.0" r="1.55" fill="none" stroke="#c4c4c8" stroke-width="0.75"/>
<circle cx="359.5" cy="498.0" r="1.55" fill="none" stroke="#c4c4c8" stroke-width="0.75"/>
<circle cx="401.1" cy="472.5" r="1.55" fill="none" stroke="#c4c4c8" stroke-width="0.75"/>
<circle cx="399.9" cy="507.2" r="1.55" fill="none" stroke="#c4c4c8" stroke-width="0.75"/>
<circle cx="400.9" cy="475.2" r="1.55" fill="none" stroke="#c4c4c8" stroke-width="0.75"/>
<circle cx="397.8" cy="500.8" r="1.55" fill="none" stroke="#c4c4c8" stroke-width="0.75"/>
<circle cx="412.9" cy="492.2" r="1.55" fill="none" stroke="#c4c4c8" stroke-width="0.75"/>
<circle cx="415.8" cy="495.5" r="1.55" fill="none" stroke="#c4c4c8" stroke-width="0.75"/>
<circle cx="371.2" cy="494.3" r="1.55" fill="none" stroke="#c4c4c8" stroke-width="0.75"/>
<circle cx="371.8" cy="499.3" r="1.55" fill="none" stroke="#c4c4c8" stroke-width="0.75"/>
<circle cx="403.7" cy="483.3" r="1.55" fill="none" stroke="#c4c4c8" stroke-width="0.75"/>
<circle cx="416.0" cy="488.3" r="1.55" fill="none" stroke="#c4c4c8" stroke-width="0.75"/>
<circle cx="405.9" cy="489.0" r="1.55" fill="none" stroke="#c4c4c8" stroke-width="0.75"/>
<circle cx="386.9" cy="503.2" r="1.55" fill="none" stroke="#c4c4c8" stroke-width="0.75"/>
<circle cx="399.1" cy="489.2" r="1.55" fill="none" stroke="#c4c4c8" stroke-width="0.75"/>
<circle cx="405.7" cy="473.9" r="1.55" fill="none" stroke="#c4c4c8" stroke-width="0.75"/>
<circle cx="382.4" cy="500.1" r="1.55" fill="none" stroke="#c4c4c8" stroke-width="0.75"/>
<circle cx="406.2" cy="500.8" r="1.55" fill="none" stroke="#c4c4c8" stroke-width="0.75"/>
<circle cx="367.4" cy="491.7" r="1.55" fill="none" stroke="#c4c4c8" stroke-width="0.75"/>
<circle cx="401.2" cy="491.4" r="1.55" fill="none" stroke="#c4c4c8" stroke-width="0.75"/>
<circle cx="412.1" cy="474.5" r="1.55" fill="none" stroke="#c4c4c8" stroke-width="0.75"/>
<circle cx="414.5" cy="491.3" r="1.55" fill="none" stroke="#c4c4c8" stroke-width="0.75"/>
<circle cx="389.5" cy="500.9" r="1.55" fill="none" stroke="#c4c4c8" stroke-width="0.75"/>
<circle cx="373.8" cy="493.5" r="1.55" fill="none" stroke="#c4c4c8" stroke-width="0.75"/>
<circle cx="370.4" cy="492.1" r="1.55" fill="none" stroke="#c4c4c8" stroke-width="0.75"/>
<circle cx="408.5" cy="474.1" r="1.55" fill="none" stroke="#c4c4c8" stroke-width="0.75"/>
<circle cx="399.6" cy="502.6" r="1.55" fill="none" stroke="#c4c4c8" stroke-width="0.75"/>
<circle cx="367.0" cy="508.6" r="1.55" fill="none" stroke="#c4c4c8" stroke-width="0.75"/>
<circle cx="385.8" cy="499.6" r="1.55" fill="none" stroke="#c4c4c8" stroke-width="0.75"/>
<circle cx="383.4" cy="498.8" r="1.55" fill="none" stroke="#c4c4c8" stroke-width="0.75"/>
<circle cx="413.3" cy="472.8" r="1.55" fill="none" stroke="#c4c4c8" stroke-width="0.75"/>
<circle cx="404.6" cy="498.4" r="1.55" fill="none" stroke="#c4c4c8" stroke-width="0.75"/>
<circle cx="383.9" cy="506.9" r="1.55" fill="none" stroke="#c4c4c8" stroke-width="0.75"/>
<circle cx="392.7" cy="504.9" r="1.55" fill="none" stroke="#c4c4c8" stroke-width="0.75"/>
<circle cx="410.0" cy="483.2" r="1.55" fill="none" stroke="#c4c4c8" stroke-width="0.75"/>
<circle cx="405.8" cy="476.0" r="1.55" fill="none" stroke="#c4c4c8" stroke-width="0.75"/>
<circle cx="398.8" cy="503.9" r="1.55" fill="none" stroke="#c4c4c8" stroke-width="0.75"/>
<circle cx="357.2" cy="496.5" r="1.55" fill="none" stroke="#c4c4c8" stroke-width="0.75"/>
<circle cx="379.2" cy="506.5" r="1.55" fill="none" stroke="#c4c4c8" stroke-width="0.75"/>
<circle cx="401.3" cy="478.3" r="1.55" fill="none" stroke="#c4c4c8" stroke-width="0.75"/>
<circle cx="416.5" cy="482.2" r="1.55" fill="none" stroke="#c4c4c8" stroke-width="0.75"/>
<circle cx="404.7" cy="497.9" r="1.55" fill="none" stroke="#c4c4c8" stroke-width="0.75"/>
<circle cx="357.9" cy="504.8" r="1.55" fill="none" stroke="#c4c4c8" stroke-width="0.75"/>
<circle cx="405.1" cy="489.1" r="1.55" fill="none" stroke="#c4c4c8" stroke-width="0.75"/>
<circle cx="362.5" cy="492.4" r="1.55" fill="none" stroke="#c4c4c8" stroke-width="0.75"/>
<circle cx="400.7" cy="478.0" r="1.55" fill="none" stroke="#c4c4c8" stroke-width="0.75"/>
<circle cx="402.0" cy="495.5" r="1.55" fill="none" stroke="#c4c4c8" stroke-width="0.75"/>
<circle cx="371.4" cy="497.5" r="1.55" fill="none" stroke="#c4c4c8" stroke-width="0.75"/>
<circle cx="378.7" cy="504.1" r="1.55" fill="none" stroke="#c4c4c8" stroke-width="0.75"/>
<circle cx="395.4" cy="491.1" r="1.55" fill="none" stroke="#c4c4c8" stroke-width="0.75"/>
<circle cx="368.3" cy="494.0" r="1.55" fill="none" stroke="#c4c4c8" stroke-width="0.75"/>
<circle cx="363.6" cy="495.4" r="1.55" fill="none" stroke="#c4c4c8" stroke-width="0.75"/>
<circle cx="392.2" cy="497.0" r="1.55" fill="none" stroke="#c4c4c8" stroke-width="0.75"/>
<circle cx="390.2" cy="496.9" r="1.55" fill="none" stroke="#c4c4c8" stroke-width="0.75"/>
<circle cx="376.0" cy="505.2" r="1.55" fill="none" stroke="#c4c4c8" stroke-width="0.75"/>
<circle cx="370.2" cy="495.5" r="1.55" fill="none" stroke="#c4c4c8" stroke-width="0.75"/>
<circle cx="417.7" cy="482.4" r="1.55" fill="none" stroke="#c4c4c8" stroke-width="0.75"/>
<circle cx="391.7" cy="507.4" r="1.55" fill="none" stroke="#c4c4c8" stroke-width="0.75"/>
<circle cx="405.1" cy="493.8" r="1.55" fill="none" stroke="#c4c4c8" stroke-width="0.75"/>
<circle cx="394.8" cy="484.4" r="1.55" fill="none" stroke="#c4c4c8" stroke-width="0.75"/>
<circle cx="378.4" cy="505.9" r="1.55" fill="none" stroke="#c4c4c8" stroke-width="0.75"/>
<circle cx="398.9" cy="476.8" r="1.55" fill="none" stroke="#c4c4c8" stroke-width="0.75"/>
<circle cx="389.8" cy="493.7" r="1.55" fill="none" stroke="#c4c4c8" stroke-width="0.75"/>
<circle cx="390.7" cy="502.6" r="1.55" fill="none" stroke="#c4c4c8" stroke-width="0.75"/>
<circle cx="376.0" cy="504.9" r="1.55" fill="none" stroke="#c4c4c8" stroke-width="0.75"/>
<circle cx="401.3" cy="496.7" r="1.55" fill="none" stroke="#c4c4c8" stroke-width="0.75"/>
<circle cx="399.3" cy="508.3" r="1.55" fill="none" stroke="#c4c4c8" stroke-width="0.75"/>
<circle cx="408.8" cy="473.6" r="1.55" fill="none" stroke="#c4c4c8" stroke-width="0.75"/>
<circle cx="394.8" cy="487.9" r="1.55" fill="none" stroke="#c4c4c8" stroke-width="0.75"/>
<circle cx="371.8" cy="499.0" r="1.55" fill="none" stroke="#c4c4c8" stroke-width="0.75"/>
<circle cx="359.2" cy="497.1" r="1.55" fill="none" stroke="#c4c4c8" stroke-width="0.75"/>
<circle cx="383.2" cy="500.0" r="1.55" fill="none" stroke="#c4c4c8" stroke-width="0.75"/>
<circle cx="387.0" cy="501.1" r="1.55" fill="none" stroke="#c4c4c8" stroke-width="0.75"/>
<circle cx="379.1" cy="497.6" r="1.55" fill="none" stroke="#c4c4c8" stroke-width="0.75"/>
<circle cx="369.5" cy="497.6" r="1.55" fill="none" stroke="#c4c4c8" stroke-width="0.75"/>
<circle cx="409.0" cy="491.2" r="1.55" fill="none" stroke="#c4c4c8" stroke-width="0.75"/>
<circle cx="394.9" cy="502.6" r="1.55" fill="none" stroke="#c4c4c8" stroke-width="0.75"/>
<circle cx="407.2" cy="472.1" r="1.55" fill="none" stroke="#c4c4c8" stroke-width="0.75"/>
<circle cx="361.4" cy="496.4" r="1.55" fill="none" stroke="#c4c4c8" stroke-width="0.75"/>
<circle cx="395.5" cy="483.8" r="1.55" fill="none" stroke="#c4c4c8" stroke-width="0.75"/>
<circle cx="394.6" cy="499.7" r="1.55" fill="none" stroke="#c4c4c8" stroke-width="0.75"/>
<circle cx="399.8" cy="490.3" r="1.55" fill="none" stroke="#c4c4c8" stroke-width="0.75"/>
<circle cx="407.1" cy="473.1" r="1.55" fill="none" stroke="#c4c4c8" stroke-width="0.75"/>
<circle cx="416.3" cy="477.6" r="1.55" fill="none" stroke="#c4c4c8" stroke-width="0.75"/>
<circle cx="395.1" cy="478.5" r="1.55" fill="none" stroke="#c4c4c8" stroke-width="0.75"/>
<circle cx="413.4" cy="480.1" r="1.55" fill="none" stroke="#c4c4c8" stroke-width="0.75"/>
<circle cx="366.1" cy="504.1" r="1.55" fill="none" stroke="#c4c4c8" stroke-width="0.75"/>
<circle cx="380.6" cy="501.5" r="1.55" fill="none" stroke="#c4c4c8" stroke-width="0.75"/>
<circle cx="390.0" cy="495.1" r="1.55" fill="none" stroke="#c4c4c8" stroke-width="0.75"/>
<circle cx="394.9" cy="478.7" r="1.55" fill="none" stroke="#c4c4c8" stroke-width="0.75"/>
<circle cx="409.4" cy="498.0" r="1.55" fill="none" stroke="#c4c4c8" stroke-width="0.75"/>
<circle cx="403.9" cy="480.1" r="1.55" fill="none" stroke="#c4c4c8" stroke-width="0.75"/>
<circle cx="366.6" cy="508.1" r="1.55" fill="none" stroke="#c4c4c8" stroke-width="0.75"/>
<circle cx="388.4" cy="501.7" r="1.55" fill="none" stroke="#c4c4c8" stroke-width="0.75"/>
<circle cx="406.6" cy="498.4" r="1.55" fill="none" stroke="#c4c4c8" stroke-width="0.75"/>
<circle cx="379.6" cy="501.4" r="1.55" fill="none" stroke="#c4c4c8" stroke-width="0.75"/>
<circle cx="409.0" cy="499.8" r="1.55" fill="none" stroke="#c4c4c8" stroke-width="0.75"/>
<circle cx="417.4" cy="484.1" r="1.55" fill="none" stroke="#c4c4c8" stroke-width="0.75"/>
<circle cx="400.6" cy="477.5" r="1.55" fill="none" stroke="#c4c4c8" stroke-width="0.75"/>
<circle cx="397.3" cy="501.7" r="1.55" fill="none" stroke="#c4c4c8" stroke-width="0.75"/>
<circle cx="414.3" cy="480.6" r="1.55" fill="none" stroke="#c4c4c8" stroke-width="0.75"/>
<circle cx="403.1" cy="475.8" r="1.55" fill="none" stroke="#c4c4c8" stroke-width="0.75"/>
<circle cx="403.2" cy="490.3" r="1.55" fill="none" stroke="#c4c4c8" stroke-width="0.75"/>
<circle cx="398.9" cy="474.4" r="1.55" fill="none" stroke="#c4c4c8" stroke-width="0.75"/>
<circle cx="389.0" cy="507.8" r="1.55" fill="none" stroke="#c4c4c8" stroke-width="0.75"/>
<circle cx="366.2" cy="504.7" r="1.55" fill="none" stroke="#c4c4c8" stroke-width="0.75"/>
<circle cx="403.9" cy="471.4" r="1.55" fill="none" stroke="#c4c4c8" stroke-width="0.75"/>
<circle cx="398.7" cy="507.6" r="1.55" fill="none" stroke="#c4c4c8" stroke-width="0.75"/>
<circle cx="362.4" cy="494.1" r="1.55" fill="none" stroke="#c4c4c8" stroke-width="0.75"/>
<circle cx="394.5" cy="505.0" r="1.55" fill="none" stroke="#c4c4c8" stroke-width="0.75"/>
<circle cx="411.0" cy="493.8" r="1.55" fill="none" stroke="#c4c4c8" stroke-width="0.75"/>
<circle cx="368.0" cy="492.6" r="1.55" fill="none" stroke="#c4c4c8" stroke-width="0.75"/>
<circle cx="395.2" cy="486.0" r="1.55" fill="none" stroke="#c4c4c8" stroke-width="0.75"/>
<circle cx="392.9" cy="492.4" r="1.55" fill="none" stroke="#c4c4c8" stroke-width="0.75"/>
<circle cx="402.8" cy="480.2" r="1.55" fill="none" stroke="#c4c4c8" stroke-width="0.75"/>
<circle cx="379.8" cy="504.1" r="1.55" fill="none" stroke="#c4c4c8" stroke-width="0.75"/>
<circle cx="409.8" cy="494.7" r="1.55" fill="none" stroke="#c4c4c8" stroke-width="0.75"/>
<circle cx="406.9" cy="488.8" r="1.55" fill="none" stroke="#c4c4c8" stroke-width="0.75"/>
<circle cx="411.9" cy="497.4" r="1.55" fill="none" stroke="#c4c4c8" stroke-width="0.75"/>
<circle cx="369.4" cy="501.5" r="1.55" fill="none" stroke="#c4c4c8" stroke-width="0.75"/>
<circle cx="389.0" cy="504.0" r="1.55" fill="none" stroke="#c4c4c8" stroke-width="0.75"/>
<circle cx="390.3" cy="500.7" r="1.55" fill="none" stroke="#c4c4c8" stroke-width="0.75"/>
<circle cx="407.1" cy="503.6" r="1.55" fill="none" stroke="#c4c4c8" stroke-width="0.75"/>
<circle cx="405.1" cy="490.4" r="1.55" fill="none" stroke="#c4c4c8" stroke-width="0.75"/>
<circle cx="378.9" cy="503.3" r="1.55" fill="none" stroke="#c4c4c8" stroke-width="0.75"/>
<circle cx="394.5" cy="505.6" r="1.55" fill="none" stroke="#c4c4c8" stroke-width="0.75"/>
<circle cx="402.1" cy="475.2" r="1.55" fill="none" stroke="#c4c4c8" stroke-width="0.75"/>
<circle cx="398.1" cy="485.3" r="1.55" fill="none" stroke="#c4c4c8" stroke-width="0.75"/>
<circle cx="373.8" cy="493.9" r="1.55" fill="none" stroke="#c4c4c8" stroke-width="0.75"/>
<circle cx="393.6" cy="496.7" r="1.55" fill="none" stroke="#c4c4c8" stroke-width="0.75"/>
<circle cx="399.8" cy="486.8" r="1.55" fill="none" stroke="#c4c4c8" stroke-width="0.75"/>
<circle cx="416.8" cy="493.0" r="1.55" fill="none" stroke="#c4c4c8" stroke-width="0.75"/>
<circle cx="402.7" cy="482.3" r="1.55" fill="none" stroke="#c4c4c8" stroke-width="0.75"/>
<circle cx="362.2" cy="493.9" r="1.55" fill="none" stroke="#c4c4c8" stroke-width="0.75"/>
<circle cx="408.5" cy="484.4" r="1.55" fill="none" stroke="#c4c4c8" stroke-width="0.75"/>
<circle cx="416.8" cy="481.7" r="1.55" fill="none" stroke="#c4c4c8" stroke-width="0.75"/>
<circle cx="400.5" cy="476.9" r="1.55" fill="none" stroke="#c4c4c8" stroke-width="0.75"/>
<circle cx="412.1" cy="479.1" r="1.55" fill="none" stroke="#c4c4c8" stroke-width="0.75"/>
<circle cx="410.8" cy="495.9" r="1.55" fill="none" stroke="#c4c4c8" stroke-width="0.75"/>
<circle cx="383.4" cy="507.0" r="1.55" fill="none" stroke="#c4c4c8" stroke-width="0.75"/>
<circle cx="378.8" cy="498.8" r="1.55" fill="none" stroke="#c4c4c8" stroke-width="0.75"/>
<circle cx="393.4" cy="486.1" r="1.55" fill="none" stroke="#c4c4c8" stroke-width="0.75"/>
<circle cx="399.9" cy="495.7" r="1.55" fill="none" stroke="#c4c4c8" stroke-width="0.75"/>
<circle cx="361.3" cy="505.3" r="1.55" fill="none" stroke="#c4c4c8" stroke-width="0.75"/>
<circle cx="408.5" cy="503.4" r="1.55" fill="none" stroke="#c4c4c8" stroke-width="0.75"/>
<circle cx="392.7" cy="490.3" r="1.55" fill="none" stroke="#c4c4c8" stroke-width="0.75"/>
<circle cx="359.0" cy="505.4" r="1.55" fill="none" stroke="#c4c4c8" stroke-width="0.75"/>
<circle cx="401.8" cy="495.6" r="1.55" fill="none" stroke="#c4c4c8" stroke-width="0.75"/>
<circle cx="398.2" cy="492.8" r="1.55" fill="none" stroke="#c4c4c8" stroke-width="0.75"/>
<circle cx="409.1" cy="494.8" r="1.55" fill="none" stroke="#c4c4c8" stroke-width="0.75"/>
<circle cx="403.1" cy="477.7" r="1.55" fill="none" stroke="#c4c4c8" stroke-width="0.75"/>
<circle cx="407.9" cy="498.2" r="1.55" fill="none" stroke="#c4c4c8" stroke-width="0.75"/>
<circle cx="405.4" cy="471.9" r="1.55" fill="none" stroke="#c4c4c8" stroke-width="0.75"/>
<circle cx="406.3" cy="479.7" r="1.55" fill="none" stroke="#c4c4c8" stroke-width="0.75"/>
<circle cx="372.4" cy="500.2" r="1.55" fill="none" stroke="#c4c4c8" stroke-width="0.75"/>
<circle cx="410.5" cy="473.4" r="1.55" fill="none" stroke="#c4c4c8" stroke-width="0.75"/>
<circle cx="401.1" cy="473.5" r="1.55" fill="none" stroke="#c4c4c8" stroke-width="0.75"/>
<circle cx="415.2" cy="480.9" r="1.55" fill="none" stroke="#c4c4c8" stroke-width="0.75"/>
<circle cx="414.2" cy="483.7" r="1.55" fill="none" stroke="#c4c4c8" stroke-width="0.75"/>
<circle cx="372.7" cy="498.6" r="1.55" fill="none" stroke="#c4c4c8" stroke-width="0.75"/>
<circle cx="403.6" cy="487.7" r="1.55" fill="none" stroke="#c4c4c8" stroke-width="0.75"/>
<circle cx="392.9" cy="508.2" r="1.55" fill="none" stroke="#c4c4c8" stroke-width="0.75"/>
<circle cx="394.0" cy="492.1" r="1.55" fill="none" stroke="#c4c4c8" stroke-width="0.75"/>
<circle cx="387.6" cy="499.2" r="1.55" fill="none" stroke="#c4c4c8" stroke-width="0.75"/>
<circle cx="406.8" cy="485.1" r="1.55" fill="none" stroke="#c4c4c8" stroke-width="0.75"/>
<circle cx="411.2" cy="484.1" r="1.55" fill="none" stroke="#c4c4c8" stroke-width="0.75"/>
<circle cx="371.8" cy="496.0" r="1.55" fill="none" stroke="#c4c4c8" stroke-width="0.75"/>
<circle cx="408.4" cy="500.7" r="1.55" fill="none" stroke="#c4c4c8" stroke-width="0.75"/>
<circle cx="395.1" cy="490.5" r="1.55" fill="none" stroke="#c4c4c8" stroke-width="0.75"/>
<circle cx="415.8" cy="494.3" r="1.55" fill="none" stroke="#c4c4c8" stroke-width="0.75"/>
<circle cx="403.8" cy="491.7" r="1.55" fill="none" stroke="#c4c4c8" stroke-width="0.75"/>
<circle cx="357.3" cy="500.4" r="1.55" fill="none" stroke="#c4c4c8" stroke-width="0.75"/>
<circle cx="403.8" cy="483.0" r="1.55" fill="none" stroke="#c4c4c8" stroke-width="0.75"/>
<circle cx="417.6" cy="490.9" r="1.55" fill="none" stroke="#c4c4c8" stroke-width="0.75"/>
<circle cx="415.5" cy="475.8" r="1.55" fill="none" stroke="#c4c4c8" stroke-width="0.75"/>
<circle cx="409.8" cy="472.1" r="1.55" fill="none" stroke="#c4c4c8" stroke-width="0.75"/>
<circle cx="412.1" cy="487.1" r="1.55" fill="none" stroke="#c4c4c8" stroke-width="0.75"/>
<circle cx="415.9" cy="488.0" r="1.55" fill="none" stroke="#c4c4c8" stroke-width="0.75"/>
<circle cx="399.5" cy="483.5" r="1.55" fill="none" stroke="#c4c4c8" stroke-width="0.75"/>
<circle cx="405.6" cy="471.3" r="1.55" fill="none" stroke="#c4c4c8" stroke-width="0.75"/>
<circle cx="403.1" cy="473.9" r="1.55" fill="none" stroke="#c4c4c8" stroke-width="0.75"/>
<circle cx="391.6" cy="503.0" r="1.55" fill="none" stroke="#c4c4c8" stroke-width="0.75"/>
<circle cx="374.7" cy="496.8" r="1.55" fill="none" stroke="#c4c4c8" stroke-width="0.75"/>
<circle cx="370.1" cy="498.2" r="1.55" fill="none" stroke="#c4c4c8" stroke-width="0.75"/>
<circle cx="408.8" cy="483.0" r="1.55" fill="none" stroke="#c4c4c8" stroke-width="0.75"/>
<circle cx="401.4" cy="485.4" r="1.55" fill="none" stroke="#c4c4c8" stroke-width="0.75"/>
<circle cx="394.6" cy="490.9" r="1.55" fill="none" stroke="#c4c4c8" stroke-width="0.75"/>
<circle cx="368.1" cy="499.2" r="1.55" fill="none" stroke="#c4c4c8" stroke-width="0.75"/>
<circle cx="373.2" cy="503.3" r="1.55" fill="none" stroke="#c4c4c8" stroke-width="0.75"/>
<circle cx="400.1" cy="491.2" r="1.55" fill="none" stroke="#c4c4c8" stroke-width="0.75"/>
<circle cx="407.5" cy="470.9" r="1.55" fill="none" stroke="#c4c4c8" stroke-width="0.75"/>
<circle cx="406.0" cy="476.2" r="1.55" fill="none" stroke="#c4c4c8" stroke-width="0.75"/>
<circle cx="360.5" cy="499.7" r="1.55" fill="none" stroke="#c4c4c8" stroke-width="0.75"/>
<circle cx="399.5" cy="482.4" r="1.55" fill="none" stroke="#c4c4c8" stroke-width="0.75"/>
<circle cx="387.1" cy="504.4" r="1.55" fill="none" stroke="#c4c4c8" stroke-width="0.75"/>
<circle cx="394.0" cy="490.2" r="1.55" fill="none" stroke="#c4c4c8" stroke-width="0.75"/>
<circle cx="402.6" cy="489.8" r="1.55" fill="none" stroke="#c4c4c8" stroke-width="0.75"/>
<circle cx="397.5" cy="506.4" r="1.55" fill="none" stroke="#c4c4c8" stroke-width="0.75"/>
<circle cx="405.4" cy="477.9" r="1.55" fill="none" stroke="#c4c4c8" stroke-width="0.75"/>
<circle cx="377.1" cy="500.7" r="1.55" fill="none" stroke="#c4c4c8" stroke-width="0.75"/>
<circle cx="402.2" cy="507.4" r="1.55" fill="none" stroke="#c4c4c8" stroke-width="0.75"/>
<circle cx="416.7" cy="495.1" r="1.55" fill="none" stroke="#c4c4c8" stroke-width="0.75"/>
<circle cx="357.1" cy="505.6" r="1.55" fill="none" stroke="#c4c4c8" stroke-width="0.75"/>
<circle cx="410.9" cy="500.6" r="1.55" fill="none" stroke="#c4c4c8" stroke-width="0.75"/>
<circle cx="400.6" cy="484.7" r="1.55" fill="none" stroke="#c4c4c8" stroke-width="0.75"/>
<circle cx="399.2" cy="493.1" r="1.55" fill="none" stroke="#c4c4c8" stroke-width="0.75"/>
<circle cx="394.3" cy="507.0" r="1.55" fill="none" stroke="#c4c4c8" stroke-width="0.75"/>
<circle cx="409.1" cy="496.4" r="1.55" fill="none" stroke="#c4c4c8" stroke-width="0.75"/>
<circle cx="404.2" cy="501.6" r="1.55" fill="none" stroke="#c4c4c8" stroke-width="0.75"/>
<circle cx="409.4" cy="484.3" r="1.55" fill="none" stroke="#c4c4c8" stroke-width="0.75"/>
<circle cx="370.2" cy="492.0" r="1.55" fill="none" stroke="#c4c4c8" stroke-width="0.75"/>
<circle cx="375.2" cy="495.8" r="1.55" fill="none" stroke="#c4c4c8" stroke-width="0.75"/>
<circle cx="368.3" cy="504.7" r="1.55" fill="none" stroke="#c4c4c8" stroke-width="0.75"/>
<circle cx="385.1" cy="500.5" r="1.55" fill="none" stroke="#c4c4c8" stroke-width="0.75"/>
<circle cx="397.1" cy="478.0" r="1.55" fill="none" stroke="#c4c4c8" stroke-width="0.75"/>
<circle cx="366.1" cy="478.6" r="1.55" fill="none" stroke="#c4c4c8" stroke-width="0.75"/>
<circle cx="357.2" cy="479.7" r="1.55" fill="none" stroke="#c4c4c8" stroke-width="0.75"/>
<circle cx="360.2" cy="489.3" r="1.55" fill="none" stroke="#c4c4c8" stroke-width="0.75"/>
<circle cx="370.7" cy="490.7" r="1.55" fill="none" stroke="#c4c4c8" stroke-width="0.75"/>
<circle cx="356.7" cy="482.2" r="1.55" fill="none" stroke="#c4c4c8" stroke-width="0.75"/>
<circle cx="358.9" cy="486.3" r="1.55" fill="none" stroke="#c4c4c8" stroke-width="0.75"/>
<circle cx="365.4" cy="481.5" r="1.55" fill="none" stroke="#c4c4c8" stroke-width="0.75"/>
<circle cx="354.5" cy="477.5" r="1.55" fill="none" stroke="#c4c4c8" stroke-width="0.75"/>
<circle cx="356.0" cy="476.0" r="1.55" fill="none" stroke="#c4c4c8" stroke-width="0.75"/>
<circle cx="370.8" cy="492.8" r="1.55" fill="none" stroke="#c4c4c8" stroke-width="0.75"/>
<circle cx="364.0" cy="481.3" r="1.55" fill="none" stroke="#c4c4c8" stroke-width="0.75"/>
<circle cx="353.8" cy="479.1" r="1.55" fill="none" stroke="#c4c4c8" stroke-width="0.75"/>
<circle cx="355.7" cy="480.7" r="1.55" fill="none" stroke="#c4c4c8" stroke-width="0.75"/>
<circle cx="351.6" cy="479.8" r="1.55" fill="none" stroke="#c4c4c8" stroke-width="0.75"/>
<circle cx="355.7" cy="475.7" r="1.55" fill="none" stroke="#c4c4c8" stroke-width="0.75"/>
<circle cx="366.2" cy="485.1" r="1.55" fill="none" stroke="#c4c4c8" stroke-width="0.75"/>
<circle cx="367.5" cy="490.1" r="1.55" fill="none" stroke="#c4c4c8" stroke-width="0.75"/>
<circle cx="352.6" cy="477.9" r="1.55" fill="none" stroke="#c4c4c8" stroke-width="0.75"/>
<circle cx="352.4" cy="479.9" r="1.55" fill="none" stroke="#c4c4c8" stroke-width="0.75"/>
<circle cx="373.4" cy="493.8" r="1.55" fill="none" stroke="#c4c4c8" stroke-width="0.75"/>
<circle cx="360.2" cy="485.7" r="1.55" fill="none" stroke="#c4c4c8" stroke-width="0.75"/>
<circle cx="359.1" cy="490.8" r="1.55" fill="none" stroke="#c4c4c8" stroke-width="0.75"/>
<circle cx="350.5" cy="412.3" r="1.55" fill="none" stroke="#c03050" stroke-width="0.8"/>
<circle cx="345.6" cy="418.3" r="1.55" fill="none" stroke="#c03050" stroke-width="0.8"/>
<circle cx="347.8" cy="432.6" r="1.55" fill="none" stroke="#c03050" stroke-width="0.8"/>
<circle cx="340.8" cy="458.4" r="1.55" fill="none" stroke="#c03050" stroke-width="0.8"/>
<circle cx="345.2" cy="460.5" r="1.1" fill="#b02848"/>
<circle cx="341.7" cy="469.0" r="1.55" fill="none" stroke="#c03050" stroke-width="0.8"/>
<circle cx="347.0" cy="473.1" r="1.55" fill="none" stroke="#c03050" stroke-width="0.8"/>
<circle cx="348.1" cy="476.8" r="1.55" fill="none" stroke="#c03050" stroke-width="0.8"/>
<circle cx="349.9" cy="483.5" r="1.55" fill="#3a0a10" stroke="#3a0a10" stroke-width="0.8"/>
<circle cx="449.6" cy="418.8" r="1.55" fill="none" stroke="#c03050" stroke-width="0.8"/>
<circle cx="421.7" cy="446.4" r="1.55" fill="none" stroke="#c03050" stroke-width="0.8"/>
<circle cx="426.7" cy="456.7" r="1.55" fill="none" stroke="#c03050" stroke-width="0.8"/>
<circle cx="431.3" cy="455.4" r="1.55" fill="none" stroke="#c03050" stroke-width="0.8"/>
<circle cx="434.5" cy="458.6" r="1.55" fill="none" stroke="#c03050" stroke-width="0.8"/>
<circle cx="422.0" cy="464.5" r="1.55" fill="none" stroke="#c03050" stroke-width="0.8"/>
<circle cx="436.3" cy="465.5" r="1.55" fill="none" stroke="#c03050" stroke-width="0.8"/>
<circle cx="455.5" cy="465.1" r="1.55" fill="none" stroke="#c03050" stroke-width="0.8"/>
<circle cx="422.0" cy="467.2" r="1.55" fill="none" stroke="#c03050" stroke-width="0.8"/>
<circle cx="428.3" cy="470.4" r="1.55" fill="none" stroke="#c03050" stroke-width="0.8"/>
<circle cx="444.2" cy="471.0" r="1.55" fill="none" stroke="#c03050" stroke-width="0.8"/>
<circle cx="422.0" cy="470.4" r="1.55" fill="none" stroke="#c03050" stroke-width="0.8"/>
<circle cx="447.0" cy="477.1" r="1.55" fill="none" stroke="#c03050" stroke-width="0.8"/>
<circle cx="421.2" cy="477.1" r="1.55" fill="none" stroke="#c03050" stroke-width="0.8"/>
<circle cx="422.9" cy="490.8" r="1.55" fill="none" stroke="#c03050" stroke-width="0.8"/>
<circle cx="424.9" cy="496.9" r="1.55" fill="none" stroke="#c03050" stroke-width="0.8"/>
<line x1="350" y1="368.65" x2="350" y2="514.4" stroke="#2a2a2a" stroke-width="1.15" stroke-dasharray="3.35 2.35" stroke-dashoffset="4.65"/>
<line x1="418.7" y1="375.3" x2="418.7" y2="514.4" stroke="#2a2a2a" stroke-width="1.15" stroke-dasharray="3.35 2.35" stroke-dashoffset="5.60"/>
<line x1="281.3" y1="503.1" x2="487.9" y2="503.1" stroke="#2a2a2a" stroke-width="1.15" stroke-dasharray="3.4 2.25"/>
<line x1="281.5" y1="368.7" x2="281.5" y2="514.4" stroke="#000" stroke-width="1.3"/>
<line x1="280.85" y1="514.4" x2="487.4" y2="514.4" stroke="#000" stroke-width="1.3"/>
<line x1="278.0" y1="506.25" x2="281.5" y2="506.25" stroke="#000" stroke-width="1"/>
<text x="275.0" y="508.65" font-size="8.8" stroke="#1a1a1a" stroke-width="0.16" text-anchor="end" >0</text>
<line x1="278.0" y1="472.83" x2="281.5" y2="472.83" stroke="#000" stroke-width="1"/>
<text x="275.0" y="475.23" font-size="8.8" stroke="#1a1a1a" stroke-width="0.16" text-anchor="end" >20</text>
<line x1="278.0" y1="439.41" x2="281.5" y2="439.41" stroke="#000" stroke-width="1"/>
<text x="275.0" y="441.81" font-size="8.8" stroke="#1a1a1a" stroke-width="0.16" text-anchor="end" >40</text>
<line x1="278.0" y1="405.99" x2="281.5" y2="405.99" stroke="#000" stroke-width="1"/>
<text x="275.0" y="408.39" font-size="8.8" stroke="#1a1a1a" stroke-width="0.16" text-anchor="end" >60</text>
<line x1="278.0" y1="372.57" x2="281.5" y2="372.57" stroke="#000" stroke-width="1"/>
<text x="275.0" y="374.97" font-size="8.8" stroke="#1a1a1a" stroke-width="0.16" text-anchor="end" >80</text>
<line x1="322.10" y1="514.4" x2="322.10" y2="517.8" stroke="#000" stroke-width="1"/>
<text x="320.9" y="527.9" font-size="8" stroke="#1a1a1a" stroke-width="0.16" text-anchor="middle" >-1</text>
<line x1="384.60" y1="514.4" x2="384.60" y2="517.8" stroke="#000" stroke-width="1"/>
<text x="384.6" y="527.9" font-size="8" stroke="#1a1a1a" stroke-width="0.16" text-anchor="middle" >0</text>
<line x1="447.10" y1="514.4" x2="447.10" y2="517.8" stroke="#000" stroke-width="1"/>
<text x="447.1" y="527.9" font-size="8" stroke="#1a1a1a" stroke-width="0.16" text-anchor="middle" >1</text>
<text x="325.5" y="453.1" font-size="7.95" stroke="#151515" stroke-width="0.16" font-style="italic" textLength="22.4" lengthAdjust="spacingAndGlyphs" fill="#151515" >MYH9</text>
<text x="353" y="489.5" font-size="7.95" stroke="#151515" stroke-width="0.16" font-style="italic" textLength="27.2" lengthAdjust="spacingAndGlyphs" fill="#151515" >ITGA2B</text>
<text x="363.4" y="499.9" font-size="7.95" stroke="#151515" stroke-width="0.16" font-style="italic" textLength="19.9" lengthAdjust="spacingAndGlyphs" fill="#151515" >TPM4</text>
<text x="373.7" y="511.5" font-size="7.95" stroke="#151515" stroke-width="0.16" font-style="italic" textLength="23.4" lengthAdjust="spacingAndGlyphs" fill="#151515" >GATA1</text>
<text x="399.4" y="465.3" font-size="7.95" stroke="#151515" stroke-width="0.16" font-style="italic" textLength="16.2" lengthAdjust="spacingAndGlyphs" fill="#151515" >B2M</text>
<text x="398" y="485.2" font-size="7.95" stroke="#151515" stroke-width="0.16" font-style="italic" textLength="17.3" lengthAdjust="spacingAndGlyphs" fill="#151515" >DAD</text>
<line x1="338.6" y1="453.6" x2="345.6" y2="461.6" stroke="#111" stroke-width="1.0"/>
<text x="0" y="0" font-size="8.6" stroke="#1a1a1a" stroke-width="0.16" text-anchor="middle" textLength="50" lengthAdjust="spacingAndGlyphs" transform="translate(260.8 441) rotate(-90)">-log10 P value</text>
<text x="353.8" y="541.7" font-size="9" stroke="#1a1a1a" stroke-width="0.16" textLength="60.8" lengthAdjust="spacingAndGlyphs" >Log2 fold change</text>
<rect x="0.5" y="0.5" width="519" height="551" fill="none" stroke="#000" stroke-width="1"/>
</svg></body></html>
